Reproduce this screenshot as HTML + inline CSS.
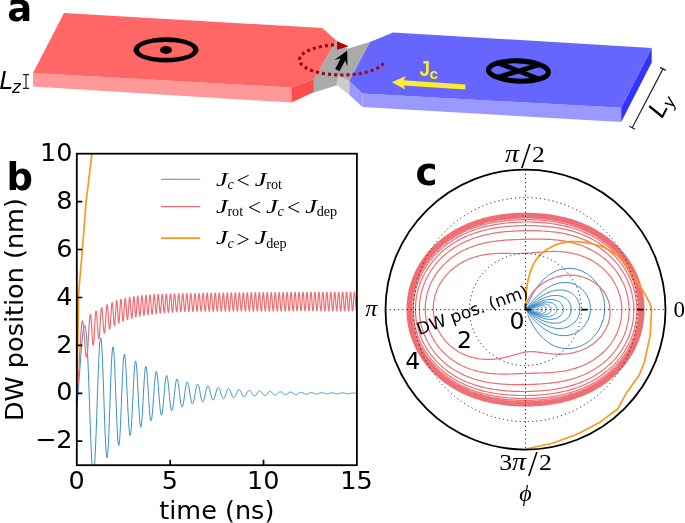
<!DOCTYPE html>
<html lang="en"><head><meta charset="utf-8"><title>Domain wall dynamics figure</title>
<style>
html,body{margin:0;padding:0;background:#fff;}
body{width:685px;height:523px;overflow:hidden;}
svg{display:block;}
</style></head><body>
<svg width="685" height="523" viewBox="0 0 685 523">
<rect width="685" height="523" fill="#fff"/>
<g id="panel-a" shape-rendering="geometricPrecision">
<polygon points="33.0,73.0 291.4,87.4 291.4,102.6 33.0,86.5" fill="#ff9999" />
<polygon points="291.4,87.4 314.0,78.9 314.0,92.1 291.4,102.6" fill="#ff4d4d" />
<polygon points="314.0,78.9 337.6,75.8 336.7,84.9 314.0,92.1" fill="#aaaaaa" stroke="#aaaaaa" stroke-width="0.8" stroke-linejoin="round"/>
<polygon points="337.6,75.8 349.3,81.0 349.4,94.9 336.7,84.9" fill="#cccccc" />
<polygon points="349.3,81.0 362.5,93.6 362.5,107.0 349.4,94.9" fill="#9999ff" />
<polygon points="362.5,93.6 621.2,107.7 621.2,122.1 362.5,107.0" fill="#9999ff" />
<polygon points="651.7,48.0 651.7,62.5 621.2,122.1 621.2,107.7" fill="#3333ff" />
<polygon points="336.4,40.4 347.4,48.8 370.0,42.0 349.3,81.0 337.6,75.8 314.0,78.9" fill="#aaaaaa" />
<polygon points="314.0,78.9 337.6,75.8 337.2,80.0 314.0,84.0" fill="#aaaaaa" />
<polygon points="64.0,13.0 322.2,28.1 336.4,40.4 314.0,78.9 291.4,87.4 33.0,73.0" fill="#ff6666" />
<polygon points="370.0,42.0 393.1,32.4 651.7,48.0 621.2,107.7 362.5,93.6 349.3,81.0" fill="#6666ff" />
<ellipse cx="166" cy="49.9" rx="32.6" ry="12.65" fill="#000"/>
<ellipse cx="166" cy="49.9" rx="27" ry="7.95" fill="#ff6666"/>
<ellipse cx="166" cy="50" rx="6" ry="3.9" fill="#000"/>
<g transform="translate(518.5,71) rotate(2.5)">
<ellipse cx="0" cy="0" rx="30" ry="10.1" fill="none" stroke="#000" stroke-width="5.1"/>
<path d="M-20.5 -7.2L20.5 7.2M-20.5 7.2L20.5 -7.2" stroke="#000" stroke-width="4.8" fill="none"/>
</g>
<path d="M383.51 63.06L383.15 63.61L382.73 64.14L382.26 64.67L381.73 65.20L381.15 65.71L380.52 66.22L379.84 66.72L379.11 67.21L378.32 67.69L377.49 68.16L376.61 68.62L375.69 69.07L374.72 69.50L373.70 69.92L372.64 70.33L371.54 70.73L370.41 71.11L369.23 71.47L368.02 71.82L366.77 72.15L365.49 72.47L364.18 72.77L362.84 73.05L361.47 73.31L360.07 73.56L358.65 73.78L357.21 73.99L355.75 74.18L354.26 74.35L352.77 74.50L351.26 74.64L349.73 74.75L348.20 74.84L346.65 74.91L345.10 74.96L343.55 74.99L342.00 75.00L340.44 74.99L338.89 74.96L337.34 74.91L335.79 74.84L334.26 74.75L332.73 74.63L331.22 74.50L329.73 74.35L328.24 74.18L326.78 73.99L325.34 73.78L323.92 73.56L322.52 73.31L321.16 73.05L319.81 72.76L318.50 72.47L317.22 72.15L315.97 71.82L314.76 71.47L313.59 71.10L312.45 70.72L311.35 70.33L310.29 69.92L309.28 69.50L308.31 69.07L307.38 68.62L306.50 68.16L305.67 67.69L304.89 67.21L304.16 66.72L303.47 66.22L302.84 65.71L302.26 65.19L301.74 64.67L301.27 64.14L300.85 63.60L300.49 63.06L300.18 62.51L299.93 61.97L299.74 61.41L299.60 60.86L299.52 60.30L299.50 59.75L299.53 59.19L299.62 58.64L299.77 58.08L299.98 57.53L300.24 56.98L300.55 56.44L300.93 55.90L301.35 55.36L301.83 54.83L302.37 54.31L302.96 53.79L303.60 53.29L304.29 52.79L305.03 52.30L305.83 51.82L306.67 51.35L307.55 50.90L308.49 50.45L309.47 50.02L310.49 49.60L311.55 49.19L312.66 48.80L313.81 48.43L314.99 48.06L316.21 47.72L317.46 47.39L318.75 47.08L320.06 46.78L321.41 46.50L322.79 46.24L324.19 46.00L325.61 45.78L327.06 45.57L328.52 45.38L330.01 45.22L331.51 45.07L333.02 44.94L334.55 44.84L336.09 44.75" fill="none" stroke="#9a0a10" stroke-width="3.2" stroke-dasharray="3.1 3.05"/>
<polygon points="337.0,41.2 337.0,49.8 348.7,46.3" fill="#b80000" />
<polygon points="347.2,50.8 347.5,66.6 345.1,60.4 339.6,71.3 335.2,69.1 340.7,58.2 334.3,60.0" fill="#000" />
<polygon points="391.8,82.2 406.0,76.0 403.6,80.2 465.4,84.4 465.4,89.5 403.6,85.4 405.4,89.6" fill="#fdec2d" />
<text transform="translate(419.4,75.7) scale(0.84,1)" font-family="'Liberation Sans',sans-serif" font-weight="bold" font-size="22.6" fill="#fdec2d">J</text>
<text x="429.4" y="78.6" font-family="'Liberation Sans',sans-serif" font-weight="bold" font-size="15.2" fill="#fdec2d">c</text>
<text x="-0.5" y="88.8" font-family="'DejaVu Sans',sans-serif" font-style="oblique" font-size="24" fill="#000">L<tspan font-size="16.8" dy="3.9" dx="-1">z</tspan></text>
<path d="M26 74.6V88.4M22.9 74.6H29.1M22.9 88.4H29.1" stroke="#222" stroke-width="1.2" fill="none"/>
<path d="M663 68.9L632.2 127.7M660.1 67.4L665.9 70.4M629.3 126.2L635.1 129.2" stroke="#222" stroke-width="1.2" fill="none"/>
<text transform="translate(662.3,118.9) rotate(-62)" font-family="'DejaVu Sans',sans-serif" font-style="oblique" font-size="24" fill="#000">L<tspan font-size="16.8" dy="3.9">y</tspan></text>
</g>
<g id="panel-b">
<clipPath id="clipb"><rect x="76.8" y="153.7" width="280.09999999999997" height="311.5"/></clipPath>
<g clip-path="url(#clipb)" fill="none" stroke-linejoin="round">
<path d="M76.80 407.67L78.47 387.83L79.80 369.71L80.96 353.97L82.02 341.26L83.01 332.08L83.94 326.78L84.84 325.51L85.67 328.20L86.41 334.62L87.09 344.38L87.74 356.97L88.36 371.70L88.95 387.82L89.53 404.50L90.10 420.89L90.66 436.18L91.22 449.61L91.77 460.53L92.32 468.42L92.88 472.93L93.44 473.87L94.00 471.25L94.56 465.26L95.11 456.24L95.64 444.70L96.18 431.22L96.70 416.52L97.23 401.32L97.74 386.40L98.25 372.49L98.76 360.26L99.26 350.28L99.75 343.02L100.25 338.80L100.74 337.78L101.22 339.94L101.69 345.14L102.16 353.06L102.63 363.27L103.08 375.22L103.54 388.29L103.99 401.80L104.44 415.06L104.88 427.42L105.33 438.26L105.77 447.06L106.21 453.40L106.65 456.98L107.09 457.68L107.53 455.48L107.97 450.54L108.40 443.13L108.83 433.65L109.26 422.61L109.69 410.58L110.12 398.15L110.54 385.97L110.97 374.62L111.39 364.67L111.81 356.59L112.24 350.74L112.66 347.41L113.08 346.70L113.50 348.62L113.92 353.03L114.34 359.67L114.75 368.17L115.17 378.09L115.59 388.90L116.00 400.04L116.41 410.96L116.83 421.09L117.24 429.95L117.65 437.11L118.06 442.22L118.47 445.05L118.88 445.50L119.28 443.57L119.69 439.39L120.09 433.20L120.49 425.32L120.89 416.17L121.28 406.23L121.68 396.00L122.08 386.00L122.48 376.71L122.88 368.59L123.28 362.04L123.68 357.35L124.08 354.73L124.49 354.28L124.90 356.00L125.31 359.75L125.73 365.33L126.15 372.41L126.57 380.63L126.98 389.54L127.40 398.69L127.82 407.62L128.24 415.88L128.66 423.06L129.07 428.82L129.48 432.89L129.89 435.10L130.29 435.35L130.69 433.66L131.08 430.14L131.48 424.99L131.87 418.48L132.26 410.97L132.65 402.84L133.03 394.49L133.42 386.36L133.80 378.84L134.18 372.29L134.57 367.04L134.95 363.31L135.33 361.28L135.71 361.02L136.09 362.51L136.47 365.66L136.85 370.28L137.22 376.12L137.60 382.87L137.98 390.17L138.35 397.65L138.72 404.93L139.10 411.65L139.47 417.48L139.84 422.13L140.21 425.40L140.58 427.13L140.94 427.26L141.31 425.81L141.67 422.86L142.03 418.59L142.39 413.22L142.75 407.03L143.11 400.36L143.47 393.52L143.83 386.88L144.18 380.75L144.54 375.44L144.90 371.20L145.27 368.22L145.63 366.64L146.00 366.51L146.37 367.83L146.74 370.49L147.11 374.34L147.48 379.18L147.86 384.75L148.23 390.74L148.61 396.87L148.98 402.81L149.36 408.26L149.74 412.97L150.11 416.71L150.49 419.30L150.86 420.63L151.24 420.66L151.61 419.39L151.99 416.91L152.36 413.37L152.74 408.95L153.11 403.89L153.49 398.44L153.86 392.90L154.24 387.53L154.61 382.60L154.98 378.36L155.36 374.99L155.73 372.65L156.10 371.45L156.48 371.43L156.85 372.56L157.22 374.78L157.59 377.95L157.96 381.90L158.33 386.42L158.70 391.27L159.07 396.21L159.44 400.98L159.81 405.35L160.17 409.10L160.54 412.06L160.91 414.10L161.28 415.11L161.65 415.06L162.02 413.99L162.39 411.94L162.76 409.05L163.13 405.46L163.50 401.37L163.87 396.99L164.24 392.54L164.61 388.25L164.98 384.32L165.35 380.95L165.72 378.30L166.09 376.49L166.46 375.58L166.83 375.62L167.20 376.59L167.57 378.42L167.94 381.00L168.31 384.19L168.68 387.83L169.05 391.73L169.42 395.67L169.79 399.47L170.16 402.94L170.53 405.90L170.90 408.22L171.27 409.80L171.64 410.56L172.01 410.47L172.38 409.57L172.75 407.89L173.12 405.55L173.49 402.67L173.85 399.40L174.22 395.90L174.59 392.37L174.96 388.97L175.33 385.87L175.70 383.22L176.07 381.15L176.44 379.75L176.81 379.07L177.18 379.15L177.55 379.96L177.92 381.45L178.29 383.53L178.66 386.10L179.03 389.01L179.40 392.11L179.77 395.25L180.14 398.26L180.51 401.00L180.88 403.33L181.25 405.15L181.62 406.36L181.99 406.93L182.36 406.83L182.73 406.08L183.10 404.72L183.47 402.84L183.84 400.52L184.21 397.91L184.58 395.13L184.95 392.32L185.32 389.63L185.69 387.18L186.06 385.10L186.43 383.48L186.80 382.39L187.17 381.89L187.54 381.98L187.91 382.66L188.28 383.87L188.65 385.56L189.02 387.62L189.39 389.94L189.76 392.42L190.13 394.91L190.50 397.30L190.87 399.47L191.23 401.31L191.60 402.73L191.97 403.68L192.34 404.10L192.71 403.99L193.08 403.37L193.45 402.26L193.82 400.74L194.19 398.89L194.56 396.80L194.93 394.58L195.30 392.34L195.67 390.21L196.04 388.27L196.41 386.63L196.78 385.36L197.15 384.52L197.52 384.15L197.89 384.25L198.26 384.81L198.63 385.80L199.00 387.16L199.37 388.82L199.74 390.69L200.11 392.66L200.48 394.65L200.85 396.55L201.22 398.26L201.59 399.71L201.96 400.83L202.33 401.56L202.70 401.88L203.07 401.77L203.44 401.25L203.81 400.35L204.18 399.12L204.55 397.63L204.92 395.96L205.29 394.19L205.66 392.41L206.03 390.71L206.40 389.18L206.77 387.88L207.14 386.89L207.51 386.24L207.88 385.96L208.25 386.07L208.62 386.54L208.98 387.34L209.35 388.44L209.72 389.78L210.09 391.27L210.46 392.85L210.83 394.44L211.20 395.94L211.57 397.30L211.94 398.45L212.31 399.32L212.68 399.89L213.05 400.13L213.42 400.02L213.79 399.59L214.16 398.86L214.53 397.86L214.90 396.67L215.27 395.32L215.64 393.91L216.01 392.49L216.38 391.14L216.75 389.93L217.12 388.91L217.49 388.13L217.86 387.63L218.23 387.42L218.60 387.52L218.97 387.91L219.34 388.57L219.71 389.46L220.08 390.53L220.45 391.73L220.82 392.99L221.19 394.26L221.56 395.46L221.93 396.54L222.30 397.44L222.67 398.13L223.04 398.57L223.41 398.74L223.78 398.64L224.15 398.28L224.52 397.69L224.89 396.88L225.26 395.92L225.63 394.84L226.00 393.71L226.36 392.58L226.73 391.51L227.10 390.54L227.47 389.74L227.84 389.13L228.21 388.74L228.58 388.59L228.95 388.68L229.32 389.00L229.69 389.54L230.06 390.26L230.43 391.13L230.80 392.09L231.17 393.10L231.54 394.11L231.91 395.07L232.28 395.92L232.65 396.64L233.02 397.17L233.39 397.51L233.76 397.64L234.13 397.55L234.50 397.25L234.87 396.77L235.24 396.12L235.61 395.34L235.98 394.48L236.35 393.57L236.72 392.67L237.09 391.81L237.46 391.05L237.83 390.41L238.20 389.94L238.57 389.64L238.94 389.53L239.31 389.61L239.68 389.88L240.05 390.32L240.42 390.90L240.79 391.60L241.16 392.37L241.53 393.18L241.90 393.99L242.27 394.75L242.64 395.43L243.01 395.99L243.38 396.41L243.74 396.68L244.11 396.77L244.48 396.69L244.85 396.44L245.22 396.04L245.59 395.52L245.96 394.89L246.33 394.20L246.70 393.47L247.07 392.75L247.44 392.07L247.81 391.47L248.18 390.96L248.55 390.59L248.92 390.36L249.29 390.28L249.66 390.35L250.03 390.58L250.40 390.93L250.77 391.41L251.14 391.97L251.51 392.59L251.88 393.24L252.25 393.88L252.62 394.49L252.99 395.03L253.36 395.47L253.73 395.80L254.10 396.01L254.47 396.07L254.84 396.00L255.21 395.80L255.58 395.47L255.95 395.05L256.32 394.54L256.69 393.99L257.06 393.40L257.43 392.83L257.80 392.29L258.17 391.81L258.54 391.41L258.91 391.12L259.28 390.94L259.65 390.88L260.02 390.95L260.39 391.13L260.76 391.43L261.12 391.81L261.49 392.26L261.86 392.76L262.23 393.28L262.60 393.79L262.97 394.28L263.34 394.70L263.71 395.05L264.08 395.31L264.45 395.47L264.82 395.52L265.19 395.46L265.56 395.29L265.93 395.02L266.30 394.68L266.67 394.27L267.04 393.82L267.41 393.36L267.78 392.90L268.15 392.47L268.52 392.09L268.89 391.77L269.26 391.54L269.63 391.41L270.00 391.37L270.37 391.42L270.74 391.58L271.11 391.82L271.48 392.12L271.85 392.49L272.22 392.89L272.59 393.31L272.96 393.72L273.33 394.10L273.70 394.44L274.07 394.72L274.44 394.92L274.81 395.04L275.18 395.08L275.55 395.02L275.92 394.88L276.29 394.67L276.66 394.39L277.03 394.06L277.40 393.70L277.77 393.33L278.14 392.96L278.50 392.62L278.87 392.32L279.24 392.07L279.61 391.89L279.98 391.78L280.35 391.75L280.72 391.80L281.09 391.93L281.46 392.12L281.83 392.38L282.20 392.67L282.57 392.99L282.94 393.33L283.31 393.65L283.68 393.96L284.05 394.23L284.42 394.45L284.79 394.61L285.16 394.70L285.53 394.72L285.90 394.68L286.27 394.56L286.64 394.39L287.01 394.16L287.38 393.90L287.75 393.61L288.12 393.31L288.49 393.01L288.86 392.74L289.23 392.50L289.60 392.31L289.97 392.16L290.34 392.08L290.71 392.06L291.08 392.11L291.45 392.21L291.82 392.37L292.19 392.57L292.56 392.81L292.93 393.07L293.30 393.34L293.67 393.60L294.04 393.84L294.41 394.06L294.78 394.23L295.15 394.36L295.52 394.43L295.88 394.44L296.25 394.40L296.62 394.31L296.99 394.16L297.36 393.98L297.73 393.77L298.10 393.53L298.47 393.30L298.84 393.06L299.21 392.84L299.58 392.65L299.95 392.50L300.32 392.39L300.69 392.33L301.06 392.31L301.43 392.35L301.80 392.44L302.17 392.57L302.54 392.73L302.91 392.92L303.28 393.13L303.65 393.34L304.02 393.55L304.39 393.75L304.76 393.92L305.13 394.05L305.50 394.15L305.87 394.21L306.24 394.22L306.61 394.18L306.98 394.10L307.35 393.99L307.72 393.84L308.09 393.67L308.46 393.48L308.83 393.29L309.20 393.10L309.57 392.93L309.94 392.78L310.31 392.65L310.68 392.57L311.05 392.52L311.42 392.51L311.79 392.55L312.16 392.62L312.53 392.72L312.90 392.85L313.27 393.01L313.63 393.18L314.00 393.35L314.37 393.51L314.74 393.67L315.11 393.80L315.48 393.91L315.85 393.99L316.22 394.03L316.59 394.04L316.96 394.01L317.33 393.94L317.70 393.85L318.07 393.73L318.44 393.59L318.81 393.44L319.18 393.29L319.55 393.14L319.92 393.00L320.29 392.88L320.66 392.78L321.03 392.71L321.40 392.68L321.77 392.67L322.14 392.70L322.51 392.76L322.88 392.84L323.25 392.95L323.62 393.08L323.99 393.21L324.36 393.35L324.73 393.48L325.10 393.60L325.47 393.71L325.84 393.80L326.21 393.86L326.58 393.89L326.95 393.89L327.32 393.87L327.69 393.81L328.06 393.74L328.43 393.64L328.80 393.53L329.17 393.41L329.54 393.28L329.91 393.16L330.28 393.05L330.65 392.96L331.01 392.88L331.38 392.83L331.75 392.80L332.12 392.80L332.49 392.82L332.86 392.87L333.23 392.94L333.60 393.03L333.97 393.13L334.34 393.24L334.71 393.35L335.08 393.45L335.45 393.55L335.82 393.64L336.19 393.70L336.56 393.75L336.93 393.78L337.30 393.78L337.67 393.75L338.04 393.71L338.41 393.65L338.78 393.57L339.15 393.48L339.52 393.38L339.89 393.29L340.26 393.19L340.63 393.10L341.00 393.03L341.37 392.97L341.74 392.93L342.11 392.90L342.48 392.90L342.85 392.92L343.22 392.96L343.59 393.02L343.96 393.09L344.33 393.17L344.70 393.26L345.07 393.35L345.44 393.43L345.81 393.51L346.18 393.58L346.55 393.63L346.92 393.67L347.29 393.68L347.66 393.68L348.03 393.67L348.39 393.63L348.76 393.58L349.13 393.52L349.50 393.44L349.87 393.37L350.24 393.29L350.61 393.21L350.98 393.14L351.35 393.08L351.72 393.03L352.09 393.00L352.46 392.99L352.83 392.99L353.20 393.00L353.57 393.04L353.94 393.08L354.31 393.14L354.68 393.20L355.05 393.27L355.42 393.34L355.79 393.41L356.16 393.47L356.53 393.53L356.90 393.57" stroke="#3d8fc9" stroke-width="1.0"/>
<path d="M76.80 393.32L77.51 387.93L78.19 379.93L78.84 369.90L79.47 358.72L80.08 347.44L80.66 337.14L81.24 328.83L81.79 323.29L82.33 320.94L82.86 321.70L83.38 325.09L83.89 330.46L84.38 336.98L84.87 343.71L85.34 349.74L85.80 354.30L86.26 356.80L86.71 356.95L87.14 354.72L87.57 350.38L87.99 344.44L88.41 337.57L88.81 330.54L89.21 324.12L89.61 318.98L89.99 315.63L90.37 314.38L90.74 315.27L91.09 318.12L91.43 322.48L91.76 327.77L92.09 333.29L92.40 338.35L92.71 342.30L93.02 344.65L93.32 345.11L93.63 343.61L93.93 340.32L94.22 335.63L94.52 330.08L94.82 324.30L95.13 318.97L95.43 314.67L95.74 311.88L96.05 310.88L96.36 311.75L96.68 314.32L96.99 318.24L97.30 322.99L97.62 327.97L97.93 332.53L98.25 336.10L98.56 338.23L98.87 338.64L99.18 337.26L99.50 334.26L99.81 329.98L100.12 324.91L100.43 319.65L100.74 314.80L101.05 310.90L101.36 308.39L101.66 307.53L101.97 308.36L102.28 310.76L102.58 314.38L102.89 318.75L103.20 323.31L103.50 327.49L103.81 330.77L104.11 332.72L104.42 333.10L104.72 331.85L105.02 329.11L105.32 325.18L105.62 320.53L105.92 315.70L106.22 311.24L106.51 307.67L106.81 305.39L107.10 304.65L107.39 305.50L107.69 307.82L107.98 311.30L108.27 315.48L108.56 319.83L108.84 323.81L109.13 326.92L109.42 328.77L109.70 329.12L109.99 327.92L110.27 325.32L110.55 321.60L110.83 317.22L111.10 312.68L111.38 308.52L111.65 305.20L111.92 303.12L112.19 302.48L112.45 303.34L112.72 305.58L112.98 308.88L113.24 312.84L113.50 316.96L113.76 320.72L114.01 323.65L114.27 325.39L114.52 325.72L114.77 324.59L115.02 322.12L115.27 318.60L115.52 314.45L115.77 310.16L116.01 306.23L116.26 303.11L116.50 301.17L116.75 300.61L116.99 301.50L117.23 303.69L117.47 306.91L117.70 310.75L117.93 314.73L118.17 318.37L118.40 321.20L118.63 322.89L118.86 323.21L119.09 322.12L119.32 319.74L119.55 316.35L119.78 312.35L120.02 308.22L120.25 304.44L120.48 301.46L120.72 299.63L120.96 299.15L121.20 300.07L121.44 302.27L121.68 305.46L121.92 309.24L122.16 313.15L122.41 316.71L122.65 319.47L122.90 321.10L123.14 321.38L123.39 320.29L123.63 317.95L123.88 314.64L124.12 310.75L124.37 306.75L124.61 303.10L124.86 300.25L125.10 298.52L125.35 298.11L125.59 299.05L125.84 301.22L126.08 304.35L126.33 308.04L126.57 311.84L126.82 315.27L127.06 317.93L127.31 319.48L127.55 319.72L127.80 318.64L128.04 316.35L128.29 313.13L128.53 309.36L128.77 305.49L129.01 301.98L129.25 299.24L129.49 297.61L129.73 297.25L129.97 298.21L130.21 300.35L130.45 303.41L130.69 307.00L130.93 310.69L131.16 314.01L131.40 316.57L131.64 318.05L131.87 318.27L132.11 317.19L132.34 314.95L132.57 311.82L132.80 308.16L133.03 304.42L133.26 301.03L133.49 298.41L133.72 296.87L133.94 296.57L134.16 297.54L134.38 299.67L134.60 302.67L134.81 306.19L135.02 309.79L135.24 313.03L135.45 315.52L135.66 316.94L135.87 317.14L136.08 316.07L136.29 313.87L136.50 310.80L136.71 307.23L136.92 303.58L137.14 300.30L137.36 297.77L137.58 296.29L137.80 296.03L138.03 297.02L138.26 299.13L138.49 302.10L138.72 305.56L138.95 309.09L139.19 312.25L139.43 314.67L139.66 316.04L139.90 316.20L140.14 315.12L140.38 312.94L140.61 309.91L140.85 306.40L141.09 302.83L141.32 299.62L141.55 297.15L141.79 295.73L142.02 295.52L142.24 296.53L142.47 298.65L142.70 301.61L142.92 305.04L143.15 308.53L143.37 311.66L143.60 314.03L143.82 315.37L144.04 315.51L144.26 314.42L144.49 312.24L144.71 309.24L144.93 305.76L145.16 302.23L145.38 299.08L145.60 296.68L145.83 295.32L146.05 295.15L146.27 296.19L146.50 298.31L146.72 301.24L146.94 304.63L147.17 308.06L147.39 311.11L147.61 313.41L147.83 314.69L148.06 314.78L148.28 313.68L148.50 311.52L148.73 308.56L148.95 305.15L149.18 301.70L149.40 298.63L149.63 296.30L149.86 295.00L150.09 294.87L150.32 295.92L150.55 298.03L150.78 300.94L151.02 304.29L151.25 307.68L151.49 310.68L151.72 312.95L151.96 314.19L152.20 314.26L152.43 313.16L152.67 311.00L152.91 308.05L153.14 304.68L153.37 301.27L153.61 298.25L153.84 295.97L154.07 294.71L154.30 294.62L154.53 295.70L154.76 297.81L154.98 300.71L155.21 304.03L155.43 307.36L155.66 310.31L155.88 312.51L156.10 313.70L156.33 313.74L156.55 312.61L156.77 310.45L156.99 307.53L157.22 304.20L157.44 300.85L157.66 297.90L157.89 295.68L158.11 294.48L158.33 294.42L158.56 295.52L158.78 297.62L159.01 300.48L159.23 303.74L159.46 307.02L159.68 309.89L159.90 312.03L160.13 313.17L160.35 313.17L160.58 312.04L160.80 309.90L161.03 307.02L161.25 303.74L161.47 300.47L161.70 297.58L161.92 295.44L162.15 294.29L162.37 294.26L162.59 295.37L162.82 297.47L163.04 300.30L163.26 303.53L163.49 306.75L163.71 309.58L163.93 311.67L164.15 312.77L164.38 312.74L164.60 311.60L164.82 309.47L165.05 306.62L165.27 303.38L165.50 300.16L165.73 297.33L165.95 295.23L166.18 294.12L166.41 294.13L166.64 295.26L166.87 297.36L167.11 300.18L167.34 303.37L167.57 306.55L167.81 309.33L168.05 311.37L168.28 312.43L168.52 312.38L168.76 311.22L168.99 309.09L169.23 306.25L169.46 303.05L169.70 299.86L169.93 297.08L170.16 295.03L170.39 293.97L170.62 294.01L170.85 295.16L171.07 297.26L171.30 300.06L171.52 303.23L171.75 306.37L171.97 309.11L172.19 311.11L172.41 312.13L172.64 312.05L172.86 310.88L173.08 308.75L173.30 305.93L173.53 302.75L173.75 299.61L173.98 296.86L174.20 294.86L174.43 293.83L174.66 293.91L174.89 295.07L175.12 297.18L175.35 299.98L175.59 303.13L175.82 306.24L176.06 308.94L176.30 310.91L176.53 311.90L176.77 311.79L177.00 310.59L177.24 308.46L177.48 305.65L177.71 302.49L177.95 299.37L178.18 296.66L178.41 294.70L178.64 293.71L178.87 293.81L179.10 295.00L179.32 297.12L179.55 299.92L179.78 303.05L180.00 306.15L180.22 308.82L180.45 310.76L180.67 311.71L180.89 311.58L181.12 310.36L181.34 308.22L181.56 305.41L181.79 302.26L182.01 299.16L182.23 296.48L182.46 294.55L182.68 293.60L182.90 293.73L183.13 294.94L183.35 297.08L183.58 299.88L183.80 303.01L184.02 306.09L184.25 308.74L184.47 310.64L184.70 311.56L184.92 311.40L185.15 310.16L185.37 308.00L185.59 305.19L185.82 302.05L186.04 298.97L186.27 296.32L186.49 294.42L186.72 293.50L186.94 293.66L187.16 294.90L187.39 297.05L187.61 299.86L187.83 302.98L188.06 306.04L188.28 308.67L188.50 310.54L188.72 311.44L188.95 311.24L189.17 309.98L189.39 307.81L189.62 304.99L189.84 301.86L190.07 298.79L190.29 296.17L190.52 294.30L190.75 293.41L190.98 293.60L191.21 294.87L191.44 297.04L191.68 299.85L191.91 302.98L192.14 306.02L192.38 308.63L192.62 310.48L192.85 311.35L193.09 311.12L193.32 309.84L193.56 307.65L193.80 304.82L194.03 301.69L194.27 298.63L194.50 296.03L194.73 294.18L194.96 293.32L195.19 293.55L195.42 294.84L195.65 297.04L195.88 299.87L196.10 303.00L196.33 306.05L196.56 308.64L196.78 310.47L197.01 311.31L197.23 311.06L197.46 309.75L197.68 307.53L197.90 304.68L198.13 301.55L198.35 298.49L198.58 295.90L198.80 294.08L199.03 293.25L199.26 293.51L199.48 294.83L199.71 297.05L199.93 299.90L200.16 303.04L200.38 306.08L200.61 308.66L200.83 310.47L201.06 311.28L201.29 311.00L201.51 309.66L201.74 307.42L201.96 304.55L202.19 301.41L202.41 298.36L202.64 295.78L202.86 293.98L203.09 293.18L203.31 293.47L203.54 294.82L203.76 297.07L203.99 299.94L204.21 303.08L204.44 306.12L204.67 308.69L204.89 310.48L205.12 311.26L205.34 310.95L205.57 309.58L205.79 307.31L206.02 304.43L206.24 301.28L206.47 298.23L206.69 295.67L206.92 293.89L207.14 293.12L207.37 293.44L207.59 294.82L207.81 297.09L208.04 299.98L208.26 303.13L208.49 306.17L208.71 308.72L208.94 310.48L209.16 311.24L209.39 310.90L209.61 309.50L209.84 307.21L210.06 304.31L210.29 301.15L210.51 298.11L210.74 295.55L210.96 293.80L211.19 293.06L211.41 293.41L211.63 294.82L211.86 297.12L212.08 300.02L212.31 303.18L212.53 306.22L212.76 308.76L212.98 310.50L213.21 311.22L213.43 310.85L213.65 309.42L213.88 307.10L214.10 304.19L214.33 301.02L214.55 297.98L214.78 295.45L215.00 293.72L215.22 293.00L215.45 293.39L215.67 294.83L215.90 297.15L216.12 300.07L216.34 303.24L216.57 306.27L216.79 308.79L217.02 310.51L217.24 311.21L217.47 310.80L217.69 309.34L217.91 307.00L218.14 304.07L218.36 300.90L218.59 297.87L218.81 295.34L219.03 293.64L219.26 292.95L219.48 293.37L219.70 294.84L219.93 297.19L220.15 300.12L220.38 303.30L220.60 306.32L220.82 308.83L221.05 310.53L221.27 311.19L221.50 310.76L221.72 309.27L221.94 306.91L222.17 303.96L222.39 300.78L222.61 297.75L222.84 295.24L223.06 293.56L223.28 292.90L223.51 293.35L223.73 294.85L223.96 297.22L224.18 300.18L224.40 303.36L224.63 306.38L224.85 308.87L225.07 310.54L225.30 311.18L225.52 310.71L225.74 309.20L225.97 306.81L226.19 303.84L226.41 300.66L226.64 297.63L226.86 295.14L227.08 293.48L227.31 292.86L227.53 293.34L227.75 294.87L227.98 297.26L228.20 300.23L228.42 303.42L228.65 306.44L228.87 308.92L229.09 310.56L229.32 311.17L229.54 310.67L229.76 309.12L229.99 306.71L230.21 303.73L230.43 300.54L230.66 297.52L230.88 295.05L231.10 293.41L231.33 292.81L231.55 293.33L231.77 294.89L231.99 297.31L232.22 300.29L232.44 303.48L232.66 306.49L232.89 308.96L233.11 310.58L233.33 311.16L233.56 310.63L233.78 309.05L234.00 306.62L234.22 303.62L234.45 300.42L234.67 297.41L234.89 294.95L235.12 293.34L235.34 292.77L235.56 293.32L235.78 294.91L236.01 297.35L236.23 300.35L236.45 303.55L236.68 306.55L236.90 309.00L237.12 310.60L237.34 311.15L237.57 310.59L237.79 308.98L238.01 306.52L238.24 303.51L238.46 300.30L238.68 297.30L238.90 294.86L239.13 293.27L239.35 292.73L239.57 293.31L239.79 294.93L240.02 297.40L240.24 300.41L240.46 303.61L240.68 306.61L240.91 309.05L241.13 310.62L241.35 311.14L241.57 310.54L241.80 308.91L242.02 306.42L242.24 303.39L242.46 300.19L242.69 297.19L242.91 294.76L243.13 293.20L243.35 292.69L243.58 293.30L243.80 294.95L244.02 297.44L244.24 300.47L244.47 303.68L244.69 306.67L244.91 309.09L245.13 310.63L245.36 311.12L245.58 310.50L245.80 308.83L246.02 306.32L246.25 303.28L246.47 300.07L246.69 297.08L246.91 294.67L247.13 293.13L247.36 292.66L247.58 293.29L247.80 294.97L248.02 297.49L248.25 300.53L248.47 303.75L248.69 306.73L248.91 309.13L249.13 310.65L249.36 311.11L249.58 310.45L249.80 308.76L250.02 306.23L250.25 303.17L250.47 299.95L250.69 296.97L250.91 294.58L251.13 293.07L251.36 292.62L251.58 293.29L251.80 295.00L252.02 297.54L252.24 300.60L252.47 303.81L252.69 306.79L252.91 309.17L253.13 310.67L253.35 311.10L253.58 310.41L253.80 308.68L254.02 306.13L254.24 303.06L254.46 299.84L254.69 296.86L254.91 294.49L255.13 293.00L255.35 292.58L255.57 293.28L255.80 295.02L256.02 297.58L256.24 300.66L256.46 303.88L256.68 306.85L256.91 309.21L257.13 310.68L257.35 311.08L257.57 310.36L257.79 308.61L258.01 306.03L258.24 302.94L258.46 299.72L258.68 296.75L258.90 294.39L259.12 292.93L259.35 292.55L259.57 293.28L259.79 295.05L260.01 297.63L260.23 300.72L260.45 303.95L260.68 306.91L260.90 309.26L261.12 310.70L261.34 311.07L261.56 310.32L261.78 308.53L262.01 305.93L262.23 302.83L262.45 299.61L262.67 296.64L262.89 294.30L263.11 292.87L263.34 292.51L263.56 293.28L263.78 295.08L264.00 297.68L264.22 300.79L264.44 304.01L264.67 306.97L264.89 309.30L265.11 310.72L265.33 311.05L265.55 310.27L265.77 308.46L266.00 305.83L266.22 302.72L266.44 299.49L266.66 296.54L266.88 294.22L267.10 292.81L267.32 292.48L267.55 293.28L267.77 295.11L267.99 297.74L268.21 300.85L268.43 304.08L268.65 307.03L268.87 309.34L269.10 310.73L269.32 311.04L269.54 310.22L269.76 308.38L269.98 305.74L270.20 302.61L270.43 299.38L270.65 296.43L270.87 294.13L271.09 292.75L271.31 292.45L271.53 293.28L271.75 295.14L271.97 297.79L272.20 300.92L272.42 304.15L272.64 307.09L272.86 309.38L273.08 310.75L273.30 311.02L273.52 310.17L273.75 308.30L273.97 305.64L274.19 302.50L274.41 299.26L274.63 296.33L274.85 294.04L275.07 292.69L275.29 292.43L275.52 293.29L275.74 295.17L275.96 297.85L276.18 300.99L276.40 304.22L276.62 307.15L276.84 309.42L277.06 310.76L277.29 311.01L277.51 310.13L277.73 308.23L277.95 305.54L278.17 302.39L278.39 299.15L278.61 296.23L278.83 293.96L279.06 292.63L279.28 292.40L279.50 293.30L279.72 295.21L279.94 297.90L280.16 301.06L280.38 304.29L280.60 307.21L280.82 309.46L281.05 310.78L281.27 310.99L281.49 310.08L281.71 308.15L281.93 305.44L282.15 302.28L282.37 299.04L282.59 296.12L282.81 293.88L283.04 292.58L283.26 292.38L283.48 293.31L283.70 295.24L283.92 297.96L284.14 301.13L284.36 304.36L284.58 307.27L284.80 309.51L285.03 310.79L285.25 310.97L285.47 310.03L285.69 308.07L285.91 305.34L286.13 302.17L286.35 298.93L286.57 296.02L286.79 293.80L287.01 292.53L287.24 292.36L287.46 293.32L287.68 295.28L287.90 298.02L288.12 301.20L288.34 304.44L288.56 307.33L288.78 309.55L289.00 310.80L289.22 310.95L289.45 309.98L289.67 307.99L289.89 305.24L290.11 302.06L290.33 298.82L290.55 295.93L290.77 293.72L290.99 292.48L291.21 292.34L291.43 293.33L291.65 295.33L291.88 298.09L292.10 301.28L292.32 304.51L292.54 307.40L292.76 309.59L292.98 310.82L293.20 310.93L293.42 309.93L293.64 307.92L293.86 305.15L294.08 301.95L294.30 298.71L294.53 295.83L294.75 293.65L294.97 292.43L295.19 292.33L295.41 293.35L295.63 295.37L295.85 298.15L296.07 301.35L296.29 304.58L296.51 307.46L296.73 309.63L296.95 310.83L297.18 310.91L297.40 309.87L297.62 307.84L297.84 305.05L298.06 301.84L298.28 298.61L298.50 295.74L298.72 293.58L298.94 292.39L299.16 292.32L299.38 293.37L299.60 295.42L299.82 298.22L300.05 301.42L300.27 304.66L300.49 307.52L300.71 309.66L300.93 310.84L301.15 310.89L301.37 309.82L301.59 307.76L301.81 304.95L302.03 301.73L302.25 298.50L302.47 295.65L302.69 293.51L302.91 292.35L303.13 292.31L303.36 293.39L303.58 295.47L303.80 298.28L304.02 301.50L304.24 304.73L304.46 307.58L304.68 309.70L304.90 310.84L305.12 310.87L305.34 309.77L305.56 307.68L305.78 304.85L306.00 301.63L306.22 298.40L306.44 295.55L306.67 293.44L306.89 292.31L307.11 292.30L307.33 293.42L307.55 295.52L307.77 298.35L307.99 301.58L308.21 304.80L308.43 307.63L308.65 309.74L308.87 310.85L309.09 310.84L309.31 309.71L309.53 307.59L309.75 304.75L309.97 301.52L310.19 298.29L310.42 295.46L310.64 293.37L310.86 292.27L311.08 292.29L311.30 293.44L311.52 295.57L311.74 298.42L311.96 301.65L312.18 304.87L312.40 307.69L312.62 309.77L312.84 310.85L313.06 310.81L313.28 309.65L313.50 307.51L313.72 304.65L313.94 301.41L314.16 298.19L314.39 295.37L314.61 293.30L314.83 292.23L315.05 292.29L315.27 293.46L315.49 295.62L315.71 298.49L315.93 301.73L316.15 304.94L316.37 307.75L316.59 309.80L316.81 310.86L317.03 310.78L317.25 309.59L317.47 307.42L317.69 304.54L317.91 301.30L318.13 298.08L318.35 295.28L318.57 293.24L318.79 292.20L319.02 292.28L319.24 293.49L319.46 295.67L319.68 298.55L319.90 301.80L320.12 305.01L320.34 307.80L320.56 309.83L320.78 310.86L321.00 310.75L321.22 309.53L321.44 307.34L321.66 304.44L321.88 301.19L322.10 297.98L322.32 295.19L322.54 293.17L322.76 292.16L322.98 292.28L323.20 293.52L323.42 295.72L323.64 298.62L323.86 301.88L324.08 305.08L324.31 307.86L324.53 309.87L324.75 310.86L324.97 310.72L325.19 309.47L325.41 307.25L325.63 304.34L325.85 301.08L326.07 297.87L326.29 295.10L326.51 293.11L326.73 292.13L326.95 292.28L327.17 293.55L327.39 295.77L327.61 298.69L327.83 301.95L328.05 305.16L328.27 307.91L328.49 309.90L328.71 310.86L328.93 310.69L329.15 309.41L329.37 307.17L329.59 304.24L329.81 300.97L330.03 297.77L330.25 295.02L330.48 293.05L330.70 292.10L330.92 292.28L331.14 293.58L331.36 295.83L331.58 298.77L331.80 302.03L332.02 305.23L332.24 307.97L332.46 309.93L332.68 310.86L332.90 310.66L333.12 309.35L333.34 307.08L333.56 304.13L333.78 300.87L334.00 297.67L334.22 294.93L334.44 292.99L334.66 292.07L334.88 292.28L335.10 293.61L335.32 295.89L335.54 298.84L335.76 302.11L335.98 305.30L336.20 308.03L336.42 309.96L336.64 310.86L336.86 310.63L337.08 309.29L337.30 306.99L337.52 304.03L337.74 300.76L337.96 297.57L338.19 294.85L338.41 292.93L338.63 292.04L338.85 292.29L339.07 293.65L339.29 295.95L339.51 298.92L339.73 302.19L339.95 305.37L340.17 308.08L340.39 309.99L340.61 310.86L340.83 310.60L341.05 309.22L341.27 306.91L341.49 303.93L341.71 300.66L341.93 297.48L342.15 294.77L342.37 292.88L342.59 292.02L342.81 292.30L343.03 293.69L343.25 296.01L343.47 298.99L343.69 302.27L343.91 305.45L344.13 308.14L344.35 310.02L344.57 310.86L344.79 310.57L345.01 309.16L345.23 306.83L345.45 303.84L345.67 300.56L345.89 297.38L346.11 294.70L346.33 292.83L346.55 292.00L346.77 292.31L346.99 293.73L347.21 296.08L347.43 299.07L347.65 302.36L347.87 305.52L348.09 308.20L348.31 310.05L348.53 310.87L348.76 310.54L348.98 309.10L349.20 306.74L349.42 303.74L349.64 300.46L349.86 297.29L350.08 294.63L350.30 292.78L350.52 291.99L350.74 292.33L350.96 293.78L351.18 296.15L351.40 299.16L351.62 302.44L351.84 305.60L352.06 308.26L352.28 310.09L352.50 310.87L352.72 310.51L352.94 309.05L353.16 306.66L353.38 303.65L353.60 300.36L353.82 297.20L354.04 294.56L354.26 292.74L354.48 291.98L354.70 292.35L354.92 293.83L355.14 296.22L355.36 299.24L355.58 302.53L355.80 305.68L356.02 308.32L356.24 310.12L356.46 310.87L356.68 310.48L356.90 308.99" stroke="#ee6e73" stroke-width="1.2"/>
<path d="M76.80 393.32L77.92 333.41L78.67 292.68L79.79 279.50L82.40 249.55L86.14 201.62L91.93 153.70L95.47 129.74" stroke="#f99a1c" stroke-width="1.7"/>
</g>
<rect x="76.8" y="153.7" width="280.1" height="311.5" fill="none" stroke="#000" stroke-width="1.8"/>
<path d="M76.8 441.2h5.5M76.8 393.3h5.5M76.8 345.4h5.5M76.8 297.5h5.5M76.8 249.5h5.5M76.8 201.6h5.5M170.2 465.2v-5.5M263.5 465.2v-5.5" stroke="#000" stroke-width="1.7" fill="none"/>
<text x="72.5" y="448.3" text-anchor="end" font-family="'DejaVu Sans',sans-serif" font-size="25.5" fill="#000">−2</text>
<text x="72.5" y="400.4" text-anchor="end" font-family="'DejaVu Sans',sans-serif" font-size="25.5" fill="#000">0</text>
<text x="72.5" y="352.5" text-anchor="end" font-family="'DejaVu Sans',sans-serif" font-size="25.5" fill="#000">2</text>
<text x="72.5" y="304.6" text-anchor="end" font-family="'DejaVu Sans',sans-serif" font-size="25.5" fill="#000">4</text>
<text x="72.5" y="256.6" text-anchor="end" font-family="'DejaVu Sans',sans-serif" font-size="25.5" fill="#000">6</text>
<text x="72.5" y="208.7" text-anchor="end" font-family="'DejaVu Sans',sans-serif" font-size="25.5" fill="#000">8</text>
<text x="72.5" y="160.8" text-anchor="end" font-family="'DejaVu Sans',sans-serif" font-size="25.5" fill="#000">10</text>
<text x="76.5" y="489.4" text-anchor="middle" font-family="'DejaVu Sans',sans-serif" font-size="25.5" fill="#000">0</text>
<text x="169.9" y="489.4" text-anchor="middle" font-family="'DejaVu Sans',sans-serif" font-size="25.5" fill="#000">5</text>
<text x="263.2" y="489.4" text-anchor="middle" font-family="'DejaVu Sans',sans-serif" font-size="25.5" fill="#000">10</text>
<text x="356.6" y="489.4" text-anchor="middle" font-family="'DejaVu Sans',sans-serif" font-size="25.5" fill="#000">15</text>
<text x="216.8" y="518.6" text-anchor="middle" font-family="'DejaVu Sans',sans-serif" font-size="25.5" fill="#000">time (ns)</text>
<text transform="translate(22.7,309.6) rotate(-90)" text-anchor="middle" font-family="'DejaVu Sans',sans-serif" font-size="25.5" fill="#000">DW position (nm)</text>
<path d="M161.1 179.3H200.2" stroke="#3d8fc9" stroke-width="1.0"/>
<path d="M161.1 206.7H200.2" stroke="#ee6e73" stroke-width="1.2"/>
<path d="M161.1 238.2H200.2" stroke="#f99a1c" stroke-width="1.7"/>
<text transform="translate(216.0,185.5) scale(1.38,1)" font-family="'Liberation Serif',serif" font-style="italic" font-size="19.2" fill="#000">J</text>
<text x="227.6" y="188.8" font-family="'Liberation Serif',serif" font-style="italic" font-size="14.2" fill="#000">c</text>
<text x="236.6" y="187.8" font-family="'Liberation Serif',serif" font-size="23.5" fill="#000">&lt;</text>
<text transform="translate(254.8,185.5) scale(1.38,1)" font-family="'Liberation Serif',serif" font-style="italic" font-size="19.2" fill="#000">J</text>
<text x="266.2" y="188.8" font-family="'Liberation Serif',serif" font-size="14.2" fill="#000">rot</text>
<text transform="translate(216.0,212.5) scale(1.38,1)" font-family="'Liberation Serif',serif" font-style="italic" font-size="19.2" fill="#000">J</text>
<text x="227.4" y="215.8" font-family="'Liberation Serif',serif" font-size="14.2" fill="#000">rot</text>
<text x="247.8" y="214.8" font-family="'Liberation Serif',serif" font-size="23.5" fill="#000">&lt;</text>
<text transform="translate(266.0,212.5) scale(1.38,1)" font-family="'Liberation Serif',serif" font-style="italic" font-size="19.2" fill="#000">J</text>
<text x="277.6" y="215.8" font-family="'Liberation Serif',serif" font-style="italic" font-size="14.2" fill="#000">c</text>
<text x="287.1" y="214.8" font-family="'Liberation Serif',serif" font-size="23.5" fill="#000">&lt;</text>
<text transform="translate(305.3,212.5) scale(1.38,1)" font-family="'Liberation Serif',serif" font-style="italic" font-size="19.2" fill="#000">J</text>
<text x="316.7" y="215.8" font-family="'Liberation Serif',serif" font-size="14.2" fill="#000">dep</text>
<text transform="translate(216.0,244.2) scale(1.38,1)" font-family="'Liberation Serif',serif" font-style="italic" font-size="19.2" fill="#000">J</text>
<text x="227.6" y="247.5" font-family="'Liberation Serif',serif" font-style="italic" font-size="14.2" fill="#000">c</text>
<text x="236.6" y="246.5" font-family="'Liberation Serif',serif" font-size="23.5" fill="#000">&gt;</text>
<text transform="translate(254.8,244.2) scale(1.38,1)" font-family="'Liberation Serif',serif" font-style="italic" font-size="19.2" fill="#000">J</text>
<text x="266.2" y="247.5" font-family="'Liberation Serif',serif" font-size="14.2" fill="#000">dep</text>
</g>
<g id="panel-c">
<clipPath id="clipc"><circle cx="525.5" cy="309.6" r="140.0"/></clipPath>
<g clip-path="url(#clipc)" fill="none" stroke-linejoin="round">
<path d="M527.4 305.1L530.3 298.8L533.4 293.0L536.9 287.5L540.7 282.5L544.9 278.2L549.5 274.5L554.5 271.7L559.7 269.6L565.2 268.5L570.9 268.3L576.5 269.2L582.0 271.0L587.2 273.8L592.0 277.6L596.2 282.2L599.6 287.5L602.3 293.4L604.0 299.8L604.7 306.4L604.5 313.0L603.2 319.5L601.0 325.7L598.0 331.3L594.1 336.4L589.7 340.6L584.7 344.1L579.4 346.6L573.9 348.1L568.3 348.7L562.8 348.3L557.5 347.1L552.4 345.0L547.8 342.2L543.5 338.7L539.6 334.7L536.1 330.2L532.9 325.3L530.1 320.1L527.6 314.7M526.0 308.9L529.4 304.7L532.8 300.7L536.3 296.9L539.9 293.5L543.6 290.4L547.5 287.8L551.5 285.6L555.6 284.0L559.7 282.9L563.8 282.5L567.9 282.6L571.9 283.4L575.7 284.8L579.1 286.8L582.3 289.3L585.0 292.4L587.2 295.8L588.9 299.6L590.0 303.6L590.4 307.7L590.3 311.9L589.5 316.0L588.1 320.0L586.1 323.6L583.6 326.9L580.7 329.7L577.4 332.0L573.8 333.8L569.9 335.0L565.9 335.6L561.9 335.6L557.8 335.0L553.8 333.9L549.8 332.2L546.0 330.1L542.3 327.5L538.8 324.6L535.4 321.3L532.2 317.8L529.1 314.1L526.0 310.3M527.0 308.1L530.2 305.1L533.4 302.3L536.7 299.6L540.0 297.2L543.3 295.1L546.7 293.3L550.1 291.8L553.5 290.8L556.9 290.1L560.2 289.9L563.4 290.1L566.4 290.8L569.3 291.9L571.9 293.4L574.2 295.3L576.2 297.5L577.8 299.9L579.0 302.6L579.7 305.5L580.0 308.4L579.9 311.4L579.3 314.3L578.2 317.1L576.8 319.7L574.9 322.0L572.7 324.0L570.2 325.7L567.5 327.0L564.5 328.0L561.4 328.4L558.2 328.5L554.9 328.2L551.6 327.4L548.3 326.3L545.0 324.8L541.8 323.0L538.6 321.0L535.5 318.6L532.5 316.1L529.5 313.5L526.6 310.7M527.7 307.9L530.6 305.8L533.5 303.8L536.4 301.9L539.3 300.2L542.2 298.7L545.1 297.5L547.9 296.5L550.7 295.8L553.5 295.5L556.1 295.4L558.7 295.6L561.0 296.2L563.2 297.0L565.2 298.1L567.0 299.5L568.4 301.0L569.6 302.8L570.5 304.7L571.0 306.8L571.2 308.9L571.1 311.0L570.6 313.0L569.8 315.0L568.7 316.8L567.2 318.5L565.5 319.9L563.6 321.1L561.5 322.1L559.2 322.8L556.7 323.2L554.1 323.2L551.5 323.0L548.8 322.5L546.0 321.8L543.3 320.8L540.5 319.5L537.8 318.0L535.0 316.4L532.3 314.6L529.7 312.7L527.0 310.7M525.5 309.6L528.1 308.0L530.6 306.5L533.1 305.1L535.6 303.8L538.1 302.6L540.5 301.6L542.9 300.8L545.3 300.2L547.6 299.7L549.8 299.5L551.9 299.5L553.9 299.7L555.7 300.1L557.4 300.7L558.9 301.5L560.2 302.5L561.3 303.6L562.2 304.9L562.9 306.3L563.2 307.7L563.4 309.1L563.2 310.6L562.9 312.1L562.2 313.4L561.4 314.7L560.3 315.9L559.0 316.9L557.5 317.8L555.8 318.5L554.0 319.0L552.0 319.2L550.0 319.3L547.9 319.2L545.7 318.9L543.4 318.4L541.1 317.6L538.8 316.8L536.5 315.8L534.2 314.6L531.8 313.4L529.5 312.0L527.2 310.6M526.0 309.3L528.2 308.2L530.4 307.1L532.5 306.1L534.6 305.2L536.7 304.3L538.7 303.6L540.7 303.0L542.6 302.6L544.5 302.3L546.3 302.1L548.0 302.2L549.5 302.3L551.0 302.6L552.4 303.1L553.5 303.7L554.6 304.5L555.4 305.3L556.1 306.2L556.6 307.2L556.9 308.3L557.0 309.3L556.8 310.4L556.5 311.4L556.0 312.4L555.3 313.4L554.5 314.2L553.4 315.0L552.2 315.6L550.9 316.1L549.4 316.5L547.9 316.7L546.2 316.8L544.5 316.7L542.7 316.4L540.8 316.1L538.9 315.6L537.0 314.9L535.1 314.2L533.1 313.4L531.1 312.5L529.2 311.5L527.2 310.5M526.3 309.2L528.1 308.4L529.9 307.6L531.6 306.8L533.4 306.1L535.1 305.5L536.7 305.0L538.3 304.6L539.9 304.2L541.4 304.0L542.8 304.0L544.2 304.0L545.5 304.1L546.6 304.4L547.7 304.7L548.6 305.2L549.4 305.8L550.1 306.4L550.6 307.1L551.0 307.8L551.2 308.6L551.2 309.4L551.1 310.2L550.9 311.0L550.5 311.8L549.9 312.5L549.2 313.1L548.4 313.6L547.4 314.1L546.4 314.5L545.2 314.8L543.9 314.9L542.6 315.0L541.2 314.9L539.7 314.8L538.2 314.5L536.7 314.1L535.1 313.6L533.5 313.1L531.9 312.5L530.3 311.8L528.7 311.1L527.1 310.3M526.4 309.2L527.9 308.5L529.3 307.9L530.7 307.3L532.1 306.8L533.5 306.3L534.8 305.9L536.1 305.6L537.4 305.4L538.6 305.2L539.7 305.2L540.8 305.2L541.8 305.3L542.7 305.5L543.6 305.8L544.3 306.2L544.9 306.6L545.5 307.1L545.9 307.7L546.1 308.3L546.3 308.9L546.3 309.5L546.2 310.1L546.0 310.7L545.7 311.3L545.2 311.8L544.7 312.3L544.0 312.8L543.2 313.1L542.4 313.4L541.5 313.6L540.5 313.8L539.4 313.8L538.3 313.8L537.1 313.6L535.9 313.4L534.6 313.1L533.4 312.8L532.1 312.4L530.8 311.9L529.5 311.4L528.2 310.8L526.9 310.2L525.6 309.6M526.5 309.2L527.6 308.7L528.8 308.2L529.9 307.7L531.0 307.3L532.1 307.0L533.1 306.7L534.2 306.4L535.2 306.2L536.1 306.1L537.0 306.1L537.9 306.1L538.7 306.2L539.4 306.4L540.1 306.6L540.6 306.9L541.1 307.3L541.5 307.7L541.8 308.1L542.1 308.6L542.2 309.0L542.2 309.5L542.1 310.0L542.0 310.5L541.7 311.0L541.3 311.4L540.9 311.8L540.3 312.1L539.7 312.4L539.0 312.6L538.3 312.8L537.5 312.9L536.6 312.9L535.7 312.9L534.8 312.8L533.9 312.6L532.9 312.4L531.9 312.1L530.8 311.8L529.8 311.4L528.8 311.0L527.7 310.6L526.7 310.1L525.6 309.7M526.4 309.2L527.3 308.8L528.2 308.4L529.1 308.1L530.0 307.7L530.9 307.5L531.7 307.2L532.5 307.0L533.3 306.9L534.1 306.8L534.8 306.8L535.5 306.8L536.1 306.9L536.7 307.0L537.2 307.2L537.7 307.5L538.0 307.8L538.4 308.1L538.6 308.4L538.8 308.8L538.9 309.2L538.9 309.6L538.8 310.0L538.7 310.3L538.5 310.7L538.2 311.0L537.8 311.4L537.4 311.6L536.9 311.9L536.3 312.0L535.7 312.2L535.1 312.2L534.4 312.3L533.7 312.2L533.0 312.2L532.2 312.0L531.4 311.8L530.6 311.6L529.8 311.4L529.0 311.1L528.1 310.7L527.3 310.4L526.5 310.0L525.6 309.7M525.6 309.6L526.3 309.2L527.0 308.9L527.8 308.6L528.5 308.3L529.2 308.1L529.9 307.9L530.5 307.7L531.2 307.5L531.8 307.4L532.4 307.4L533.0 307.3L533.5 307.4L534.0 307.4L534.5 307.6L534.9 307.7L535.3 307.9L535.6 308.1L535.8 308.4L536.0 308.7L536.2 309.0L536.2 309.3L536.2 309.6L536.2 309.9L536.1 310.2L535.9 310.5L535.6 310.8L535.4 311.0L535.0 311.2L534.6 311.4L534.2 311.6L533.7 311.7L533.2 311.7L532.6 311.7L532.1 311.7L531.5 311.7L530.9 311.5L530.2 311.4L529.6 311.2L528.9 311.0L528.3 310.8L527.6 310.5L527.0 310.2L526.3 310.0L525.6 309.7M525.6 309.5L526.2 309.3L526.8 309.0L527.4 308.8L527.9 308.6L528.5 308.4L529.1 308.2L529.6 308.0L530.1 307.9L530.6 307.8L531.1 307.8L531.5 307.8L532.0 307.8L532.4 307.9L532.7 308.0L533.1 308.1L533.3 308.2L533.6 308.4L533.8 308.6L533.9 308.9L534.0 309.1L534.1 309.3L534.1 309.6L534.1 309.9L534.0 310.1L533.8 310.3L533.6 310.5L533.4 310.7L533.1 310.9L532.8 311.1L532.4 311.2L532.1 311.3L531.7 311.3L531.2 311.3L530.8 311.3L530.3 311.2L529.8 311.2L529.3 311.0L528.8 310.9L528.3 310.7L527.7 310.5L527.2 310.3L526.7 310.1L526.1 309.9L525.6 309.7M525.6 309.5L526.1 309.3L526.6 309.1L527.0 308.9L527.5 308.8L527.9 308.6L528.4 308.5L528.8 308.3L529.2 308.3L529.6 308.2L530.0 308.2L530.4 308.1L530.7 308.2L531.0 308.2L531.3 308.3L531.6 308.4L531.8 308.5L532.0 308.7L532.1 308.8L532.3 309.0L532.3 309.2L532.4 309.4L532.4 309.6L532.3 309.8L532.3 310.0L532.2 310.2L532.0 310.4L531.8 310.5L531.6 310.7L531.3 310.8L531.1 310.9L530.7 310.9L530.4 311.0L530.1 311.0L529.7 311.0L529.3 310.9L528.9 310.9L528.5 310.8L528.1 310.6L527.7 310.5L527.3 310.4L526.9 310.2L526.4 310.0L526.0 309.8L525.6 309.6M525.7 309.5L526.0 309.4L526.4 309.2L526.8 309.1L527.1 308.9L527.5 308.8L527.8 308.7L528.2 308.6L528.5 308.5L528.8 308.5L529.1 308.4L529.4 308.4L529.7 308.5L529.9 308.5L530.2 308.6L530.4 308.6L530.6 308.7L530.7 308.9L530.8 309.0L530.9 309.1L531.0 309.3L531.0 309.5L531.0 309.6L531.0 309.8L530.9 309.9L530.8 310.1L530.7 310.2L530.6 310.3L530.4 310.5L530.2 310.5L529.9 310.6L529.7 310.7L529.4 310.7L529.2 310.7L528.9 310.7L528.6 310.7L528.2 310.6L527.9 310.5L527.6 310.4L527.3 310.3L526.9 310.2L526.6 310.1L526.3 309.9L525.9 309.8L525.6 309.6M525.6 309.5L525.9 309.4L526.2 309.3L526.5 309.2L526.8 309.0L527.1 308.9L527.4 308.9L527.7 308.8L527.9 308.7L528.2 308.7L528.4 308.7L528.7 308.7L528.9 308.7L529.1 308.7L529.3 308.8L529.4 308.8L529.6 308.9L529.7 309.0L529.8 309.1L529.9 309.2L529.9 309.4L529.9 309.5L529.9 309.6L529.9 309.7L529.8 309.9L529.8 310.0L529.7 310.1L529.5 310.2L529.4 310.3L529.2 310.4L529.1 310.4L528.9 310.5L528.6 310.5L528.4 310.5L528.2 310.5L527.9 310.4L527.7 310.4L527.4 310.3L527.2 310.3L526.9 310.2L526.6 310.1L526.4 310.0L526.1 309.9L525.8 309.7L525.6 309.6M525.6 309.5L525.9 309.4L526.1 309.3L526.3 309.2L526.6 309.1L526.8 309.1L527.0 309.0L527.2 308.9L527.5 308.9L527.7 308.9L527.9 308.9L528.0 308.8L528.2 308.9L528.4 308.9L528.5 308.9L528.6 309.0L528.8 309.1L528.9 309.1L528.9 309.2L529.0 309.3L529.0 309.4L529.0 309.5L529.0 309.6L529.0 309.7L529.0 309.8L528.9 309.9L528.8 310.0L528.7 310.1L528.6 310.2L528.5 310.2L528.3 310.3L528.2 310.3L528.0 310.3L527.8 310.3L527.6 310.3L527.5 310.3L527.3 310.2L527.0 310.2L526.8 310.1L526.6 310.1L526.4 310.0L526.2 309.9L526.0 309.8L525.8 309.7L525.5 309.6M525.6 309.5L525.8 309.5L526.0 309.4L526.2 309.3L526.4 309.2L526.6 309.2L526.7 309.1L526.9 309.1L527.1 309.0L527.2 309.0L527.4 309.0L527.5 309.0L527.7 309.0L527.8 309.0L527.9 309.1L528.0 309.1L528.1 309.2L528.2 309.2L528.3 309.3L528.3 309.4L528.3 309.5L528.3 309.5L528.3 309.6L528.3 309.7L528.3 309.8L528.2 309.9L528.2 309.9L528.1 310.0L528.0 310.0L527.9 310.1L527.8 310.1L527.6 310.2L527.5 310.2L527.4 310.2L527.2 310.2L527.1 310.1L526.9 310.1L526.7 310.1L526.6 310.0L526.4 310.0L526.2 309.9L526.0 309.8L525.9 309.8L525.7 309.7L525.5 309.6M525.6 309.6L525.8 309.5L525.9 309.4L526.1 309.4L526.2 309.3L526.4 309.3L526.5 309.2L526.6 309.2L526.8 309.1L526.9 309.1L527.0 309.1L527.1 309.1L527.3 309.1L527.4 309.1L527.4 309.2L527.5 309.2L527.6 309.3L527.7 309.3L527.7 309.4L527.7 309.4L527.8 309.5L527.8 309.6L527.8 309.6L527.8 309.7L527.7 309.7L527.7 309.8L527.6 309.9L527.6 309.9L527.5 310.0L527.4 310.0L527.3 310.0L527.2 310.0L527.1 310.1L527.0 310.1L526.9 310.1L526.7 310.0L526.6 310.0L526.5 310.0L526.3 309.9L526.2 309.9L526.1 309.8L525.9 309.8L525.8 309.7L525.7 309.7L525.5 309.6M525.6 309.6L525.7 309.5L525.8 309.5L526.0 309.4L526.1 309.4L526.2 309.3L526.3 309.3L526.4 309.3L526.5 309.2L526.6 309.2L526.7 309.2L526.8 309.2L526.9 309.2L527.0 309.2L527.1 309.3L527.1 309.3L527.2 309.3L527.2 309.4L527.3 309.4L527.3 309.5L527.3 309.5L527.3 309.6L527.3 309.6L527.3 309.7L527.3 309.7L527.3 309.8L527.2 309.8L527.2 309.9L527.1 309.9L527.0 309.9L527.0 309.9L526.9 310.0L526.8 310.0L526.7 310.0L526.6 310.0L526.5 309.9L526.4 309.9L526.3 309.9L526.2 309.9L526.1 309.8L526.0 309.8L525.8 309.8L525.7 309.7L525.6 309.7L525.5 309.6M525.6 309.6L525.7 309.5L525.8 309.5L525.9 309.4L526.0 309.4L526.1 309.4L526.1 309.3L526.2 309.3L526.3 309.3L526.4 309.3L526.5 309.3L526.6 309.3L526.6 309.3L526.7 309.3L526.8 309.3L526.8 309.4L526.9 309.4L526.9 309.4L526.9 309.4L526.9 309.5L527.0 309.5L527.0 309.6L527.0 309.6L527.0 309.7L526.9 309.7L526.9 309.7L526.9 309.8L526.8 309.8L526.8 309.8L526.7 309.9L526.7 309.9L526.6 309.9L526.5 309.9L526.5 309.9L526.4 309.9L526.3 309.9L526.2 309.9L526.1 309.8L526.0 309.8L526.0 309.8L525.9 309.8L525.8 309.7L525.7 309.7L525.6 309.6L525.5 309.6M525.6 309.6L525.6 309.5L525.7 309.5L525.8 309.5L525.9 309.4L526.0 309.4L526.0 309.4L526.1 309.4L526.2 309.4L526.2 309.4L526.3 309.4L526.4 309.4L526.4 309.4L526.5 309.4L526.5 309.4L526.5 309.4L526.6 309.4L526.6 309.5L526.6 309.5L526.7 309.5L526.7 309.5L526.7 309.6L526.7 309.6L526.7 309.6L526.6 309.7L526.6 309.7L526.6 309.7L526.6 309.8L526.5 309.8L526.5 309.8L526.4 309.8L526.4 309.8L526.3 309.8L526.3 309.8L526.2 309.8L526.1 309.8L526.1 309.8L526.0 309.8L525.9 309.8L525.9 309.7L525.8 309.7L525.7 309.7L525.6 309.7L525.6 309.6L525.5 309.6M525.6 309.6L525.6 309.5L525.7 309.5L525.7 309.5L525.8 309.5L525.9 309.5L525.9 309.4L526.0 309.4L526.0 309.4L526.1 309.4L526.1 309.4L526.2 309.4L526.2 309.4L526.3 309.4L526.3 309.4L526.3 309.4L526.4 309.5L526.4 309.5L526.4 309.5L526.4 309.5L526.4 309.6L526.4 309.6L526.4 309.6L526.4 309.6L526.4 309.7L526.4 309.7L526.4 309.7L526.3 309.7L526.3 309.8L526.3 309.8L526.2 309.8L526.2 309.8L526.2 309.8L526.1 309.8L526.1 309.8L526.0 309.8L526.0 309.8L525.9 309.8L525.8 309.7L525.8 309.7L525.7 309.7L525.7 309.7L525.6 309.7L525.6 309.6L525.5 309.6M525.5 309.6L525.6 309.6L525.6 309.5L525.7 309.5L525.7 309.5L525.8 309.5L525.8 309.5L525.9 309.5L525.9 309.4L526.0 309.4L526.0 309.4L526.1 309.4L526.1 309.4L526.1 309.5L526.1 309.5L526.2 309.5L526.2 309.5L526.2 309.5L526.2 309.5L526.2 309.5L526.3 309.6L526.3 309.6L526.3 309.6L526.2 309.6L526.2 309.7L526.2 309.7L526.2 309.7L526.2 309.7L526.2 309.7L526.1 309.7L526.1 309.7L526.1 309.7L526.0 309.8L526.0 309.8L525.9 309.7L525.9 309.7L525.9 309.7L525.8 309.7L525.8 309.7L525.7 309.7L525.7 309.7L525.6 309.7L525.6 309.6L525.5 309.6M525.5 309.6L525.5 309.6L525.6 309.6L525.6 309.5L525.7 309.5L525.7 309.5L525.7 309.5L525.8 309.5L525.8 309.5L525.8 309.5L525.9 309.5L525.9 309.5L525.9 309.5L526.0 309.5L526.0 309.5L526.0 309.5L526.0 309.5L526.1 309.5L526.1 309.5L526.1 309.5L526.1 309.6L526.1 309.6L526.1 309.6L526.1 309.6L526.1 309.6L526.1 309.6L526.1 309.7L526.1 309.7L526.0 309.7L526.0 309.7L526.0 309.7L526.0 309.7L525.9 309.7L525.9 309.7L525.9 309.7L525.9 309.7L525.8 309.7L525.8 309.7L525.8 309.7L525.7 309.7L525.7 309.7L525.6 309.7L525.6 309.6L525.6 309.6L525.5 309.6M525.5 309.6L525.5 309.6L525.6 309.6L525.6 309.6L525.6 309.5L525.7 309.5L525.7 309.5L525.7 309.5L525.8 309.5L525.8 309.5L525.8 309.5L525.8 309.5L525.9 309.5L525.9 309.5L525.9 309.5L525.9 309.5L525.9 309.5L526.0 309.5L526.0 309.5L526.0 309.6L526.0 309.6L526.0 309.6L526.0 309.6L526.0 309.6L526.0 309.6L526.0 309.6L526.0 309.6L525.9 309.7L525.9 309.7L525.9 309.7L525.9 309.7L525.9 309.7L525.9 309.7L525.8 309.7L525.8 309.7L525.8 309.7L525.8 309.7L525.7 309.7L525.7 309.7L525.7 309.7L525.6 309.7L525.6 309.6L525.6 309.6L525.6 309.6L525.5 309.6M525.5 309.6L525.5 309.6L525.6 309.6L525.6 309.6L525.6 309.6L525.6 309.5L525.7 309.5L525.7 309.5L525.7 309.5L525.7 309.5L525.7 309.5L525.8 309.5L525.8 309.5L525.8 309.5L525.8 309.5L525.8 309.5L525.8 309.5L525.9 309.5L525.9 309.6L525.9 309.6L525.9 309.6L525.9 309.6L525.9 309.6L525.9 309.6L525.9 309.6L525.9 309.6L525.9 309.6L525.9 309.6L525.8 309.7L525.8 309.7L525.8 309.7L525.8 309.7L525.8 309.7L525.8 309.7L525.7 309.7L525.7 309.7L525.7 309.7L525.7 309.7L525.7 309.7L525.6 309.7L525.6 309.6L525.6 309.6L525.6 309.6L525.5 309.6L525.5 309.6" stroke="#3d8fc9" stroke-width="1.0"/>
<path d="M525.5 309.6L525.5 309.1L525.5 308.5L525.6 308.0L525.7 307.3L525.8 306.7L525.9 306.0L526.1 305.3L526.3 304.5L526.5 303.8L526.7 303.0L527.0 302.1L527.4 301.3L527.8 300.4L528.2 299.5L528.6 298.6L529.1 297.7L529.7 296.7L530.3 295.8L530.9 294.8L531.6 293.9L532.3 292.9L533.1 291.9L533.9 291.0L534.8 290.0L535.7 289.0L536.7 288.1L537.7 287.2L538.8 286.3L539.9 285.4L541.1 284.5L542.3 283.6L543.5 282.8L544.8 282.0L546.1 281.3L547.5 280.5L548.9 279.8L550.3 279.2L551.8 278.6L553.3 278.0L554.8 277.5L556.4 277.0L557.9 276.6L559.5 276.2L561.2 275.9L562.8 275.6L564.5 275.4L566.1 275.2L567.8 275.1L569.5 275.1L571.2 275.1L572.9 275.2L574.5 275.3L576.2 275.5L577.9 275.8L579.5 276.1L581.2 276.5L582.8 277.0L584.4 277.5L586.0 278.1L587.5 278.7L589.1 279.4L590.5 280.2L592.0 281.0L593.4 281.9L594.8 282.8L596.1 283.8L597.4 284.8L598.6 285.9L599.8 287.0L600.9 288.2L602.0 289.4L603.0 290.6L603.9 291.9L604.8 293.3L605.6 294.6L606.4 296.0L607.1 297.5L607.7 298.9L608.2 300.4L608.7 301.9L609.1 303.4L609.5 305.0L609.7 306.5L609.9 308.1L610.1 309.6L610.1 311.2L610.1 312.7L610.0 314.3L609.9 315.9L609.7 317.4L609.4 319.0L609.0 320.5L608.6 322.0L608.2 323.5L607.6 325.0L607.0 326.4L606.4 327.9L605.7 329.3L604.9 330.6L604.1 332.0L603.3 333.3L602.3 334.6L601.4 335.8L600.4 337.0L599.3 338.2L598.2 339.4L597.1 340.4L595.9 341.5L594.7 342.5L593.5 343.5L592.2 344.4L591.0 345.3L589.6 346.1L588.3 346.9L587.0 347.7L585.6 348.4L584.2 349.0L582.8 349.7L581.4 350.2L580.0 350.8L578.6 351.3L577.1 351.7L575.7 352.1L574.3 352.5L572.9 352.8L571.5 353.1L570.0 353.4L568.6 353.6L567.2 353.8L565.9 353.9L564.5 354.0L563.1 354.1L561.8 354.2L560.5 354.2L559.2 354.2L557.9 354.2L556.6 354.2L555.4 354.1L554.2 354.1L553.0 354.0L551.8 353.9L550.6 353.8L549.5 353.7L548.4 353.5L547.3 353.4L546.2 353.3L545.2 353.1L544.2 353.0L543.2 352.8L542.2 352.7L541.2 352.6L540.3 352.4L539.4 352.3L538.5 352.2L537.6 352.1L536.7 352.0L535.8 351.9L535.0 351.8L534.2 351.7L533.4 351.7L532.5 351.6L531.7 351.6L531.0 351.6L530.2 351.6L529.4 351.7L528.6 351.7L527.8 351.8L527.0 351.9L526.3 352.0L525.5 352.1L524.7 352.2L523.9 352.3L523.1 352.5L522.3 352.7L521.5 352.9L520.6 353.1L519.8 353.3L518.9 353.6L518.1 353.8L517.2 354.1L516.3 354.3L515.3 354.6L514.4 354.9L513.4 355.2L512.4 355.4L511.4 355.7L510.4 356.0L509.3 356.3L508.3 356.6L507.2 356.9L506.0 357.2L504.9 357.4L503.7 357.7L502.5 357.9L501.3 358.2L500.0 358.4L498.8 358.6L497.5 358.8L496.2 359.0L494.8 359.1L493.5 359.2L492.1 359.3L490.7 359.4L489.3 359.4L487.8 359.4L486.4 359.4L484.9 359.4L483.4 359.3L482.0 359.1L480.5 359.0L478.9 358.8L477.4 358.5L475.9 358.2L474.4 357.9L472.9 357.5L471.3 357.1L469.8 356.7L468.3 356.2L466.8 355.6L465.3 355.0L463.8 354.4L462.3 353.7L460.9 353.0L459.4 352.2L458.0 351.4L456.6 350.5L455.2 349.6L453.8 348.6L452.5 347.6L451.2 346.5L449.9 345.4L448.7 344.3L447.5 343.1L446.3 341.9L445.2 340.6L444.1 339.3L443.1 338.0L442.1 336.6L441.2 335.2L440.3 333.8L439.4 332.3L438.6 330.8L437.9 329.3L437.2 327.8L436.5 326.2L435.9 324.6L435.4 323.0L434.9 321.3L434.5 319.7L434.2 318.0L433.9 316.3L433.6 314.6L433.4 312.9L433.3 311.2L433.3 309.5L433.3 307.8L433.3 306.1L433.4 304.4L433.6 302.7L433.9 301.1L434.2 299.4L434.5 297.7L434.9 296.1L435.4 294.4L435.9 292.8L436.5 291.2L437.1 289.6L437.8 288.1L438.5 286.5L439.3 285.0L440.1 283.5L441.0 282.1L441.9 280.7L442.9 279.3L443.9 277.9L444.9 276.6L446.0 275.3L447.1 274.1L448.3 272.9L449.5 271.7L450.7 270.5L451.9 269.4L453.2 268.4L454.5 267.4L455.8 266.4L457.2 265.5L458.5 264.6L459.9 263.7L461.3 262.9L462.7 262.1L464.1 261.4L465.5 260.7L467.0 260.0L468.4 259.4L469.8 258.8L471.3 258.2L472.7 257.7L474.2 257.3L475.6 256.8L477.1 256.4L478.5 256.0L480.0 255.7L481.4 255.4L482.8 255.1L484.2 254.8L485.6 254.6L487.0 254.4L488.4 254.2L489.7 254.1L491.1 253.9L492.4 253.8L493.7 253.7L495.0 253.6L496.3 253.5L497.6 253.5L498.9 253.5L500.1 253.4L501.4 253.4L502.6 253.4L503.8 253.4L505.0 253.4L506.1 253.4L507.3 253.4L508.4 253.4L509.6 253.4L510.7 253.5L511.8 253.5L512.9 253.5L514.0 253.5L515.1 253.5L516.1 253.5L517.2 253.5L518.2 253.5L519.3 253.5L520.3 253.5L521.4 253.4L522.4 253.4L523.5 253.4L524.5 253.3L525.5 253.3L526.6 253.2L527.6 253.2L528.7 253.1L529.7 253.0L530.8 253.0L531.9 252.9L532.9 252.8L534.0 252.7L535.1 252.6L536.2 252.5L537.3 252.4L538.5 252.3L539.6 252.2L540.8 252.1L541.9 252.0L543.1 251.9L544.3 251.8L545.5 251.7L546.8 251.7L548.0 251.6L549.3 251.5L550.6 251.5L551.9 251.5L553.2 251.4L554.5 251.4L555.9 251.4L557.2 251.5L558.6 251.5L560.0 251.6L561.4 251.7L562.9 251.8L564.3 251.9L565.7 252.1L567.2 252.3L568.7 252.5L570.1 252.8L571.6 253.1L573.1 253.4L574.6 253.8L576.1 254.1L577.7 254.6L579.2 255.0L580.7 255.5L582.2 256.1L583.7 256.6L585.2 257.3L586.7 257.9L588.2 258.6L589.7 259.4L591.1 260.1L592.6 261.0L594.0 261.8L595.4 262.7L596.8 263.7L598.2 264.7L599.6 265.7L600.9 266.8L602.2 267.9L603.5 269.0L604.8 270.2L606.0 271.5L607.2 272.7L608.3 274.0L609.4 275.4L610.5 276.8L611.5 278.2L612.5 279.6L613.5 281.1L614.4 282.6L615.2 284.2L616.0 285.7L616.8 287.3L617.5 288.9L618.2 290.6L618.8 292.3L619.3 293.9L619.8 295.6L620.3 297.4L620.7 299.1L621.0 300.8L621.3 302.6L621.5 304.4L621.7 306.1L621.8 307.9L621.8 309.7L621.8 311.5L621.7 313.3L621.6 315.0L621.4 316.8L621.2 318.6L620.9 320.3L620.6 322.1L620.2 323.8L619.7 325.5L619.2 327.2L618.6 328.9L618.0 330.6L617.3 332.2L616.6 333.8L615.9 335.4L615.0 337.0L614.2 338.5L613.3 340.0L612.3 341.5L611.4 343.0L610.3 344.4L609.3 345.8L608.2 347.1L607.0 348.4L605.9 349.7L604.7 351.0L603.4 352.2L602.2 353.3L600.9 354.5L599.6 355.6L598.2 356.6L596.9 357.6L595.5 358.6L594.1 359.6L592.7 360.5L591.3 361.3L589.8 362.1L588.4 362.9L586.9 363.7L585.5 364.4L584.0 365.0L582.5 365.7L581.0 366.3L579.5 366.9L578.1 367.4L576.6 367.9L575.1 368.4L573.6 368.8L572.2 369.2L570.7 369.6L569.2 369.9L567.8 370.3L566.3 370.6L564.9 370.8L563.5 371.1L562.1 371.3L560.7 371.5L559.3 371.7L557.9 371.9L556.5 372.0L555.1 372.2L553.8 372.3L552.5 372.4L551.1 372.5L549.8 372.6L548.5 372.7L547.2 372.8L546.0 372.8L544.7 372.9L543.4 372.9L542.2 373.0L541.0 373.0L539.7 373.0L538.5 373.1L537.3 373.1L536.1 373.1L534.9 373.2L533.7 373.2L532.5 373.2L531.3 373.3L530.1 373.3L529.0 373.3L527.8 373.4L526.6 373.4L525.4 373.5L524.2 373.5L523.1 373.5L521.9 373.6L520.7 373.6L519.5 373.7L518.3 373.7L517.1 373.8L515.9 373.8L514.6 373.9L513.4 373.9L512.2 374.0L510.9 374.0L509.6 374.0L508.4 374.1L507.1 374.1L505.8 374.1L504.5 374.1L503.1 374.1L501.8 374.1L500.4 374.1L499.1 374.0L497.7 374.0L496.3 373.9L494.9 373.8L493.5 373.7L492.0 373.6L490.6 373.5L489.1 373.3L487.7 373.1L486.2 372.9L484.7 372.7L483.2 372.4L481.7 372.2L480.2 371.8L478.6 371.5L477.1 371.1L475.6 370.7L474.0 370.3L472.5 369.8L470.9 369.3L469.4 368.7L467.9 368.2L466.3 367.6L464.8 366.9L463.2 366.2L461.7 365.5L460.2 364.7L458.7 363.9L457.2 363.0L455.7 362.1L454.3 361.2L452.8 360.2L451.4 359.2L450.0 358.2L448.6 357.1L447.3 355.9L445.9 354.8L444.6 353.5L443.3 352.3L442.1 351.0L440.9 349.7L439.7 348.3L438.6 346.9L437.5 345.4L436.4 344.0L435.4 342.5L434.4 340.9L433.5 339.4L432.6 337.8L431.7 336.1L430.9 334.5L430.2 332.8L429.5 331.1L428.8 329.4L428.2 327.6L427.7 325.9L427.2 324.1L426.8 322.3L426.4 320.5L426.1 318.7L425.8 316.8L425.6 315.0L425.4 313.2L425.3 311.3L425.3 309.5L425.3 307.6L425.3 305.8L425.5 303.9L425.6 302.1L425.9 300.2L426.2 298.4L426.5 296.6L426.9 294.8L427.4 293.0L427.9 291.2L428.4 289.5L429.1 287.7L429.7 286.0L430.4 284.3L431.2 282.6L432.0 281.0L432.9 279.4L433.8 277.8L434.7 276.2L435.7 274.7L436.7 273.1L437.8 271.7L438.9 270.2L440.0 268.8L441.2 267.5L442.4 266.1L443.6 264.8L444.9 263.6L446.2 262.3L447.5 261.1L448.8 260.0L450.2 258.9L451.6 257.8L453.0 256.7L454.4 255.7L455.8 254.8L457.3 253.9L458.8 253.0L460.3 252.1L461.7 251.3L463.2 250.5L464.8 249.8L466.3 249.1L467.8 248.4L469.3 247.8L470.8 247.2L472.4 246.6L473.9 246.1L475.4 245.5L476.9 245.1L478.4 244.6L479.9 244.2L481.5 243.8L483.0 243.4L484.4 243.1L485.9 242.7L487.4 242.4L488.9 242.2L490.4 241.9L491.8 241.7L493.3 241.5L494.7 241.3L496.1 241.1L497.5 240.9L498.9 240.7L500.3 240.6L501.7 240.5L503.1 240.3L504.5 240.2L505.9 240.1L507.2 240.0L508.6 239.9L509.9 239.9L511.2 239.8L512.6 239.7L513.9 239.7L515.2 239.6L516.5 239.6L517.8 239.5L519.1 239.5L520.4 239.4L521.7 239.4L523.0 239.3L524.3 239.3L525.6 239.3L526.9 239.2L528.2 239.2L529.5 239.2L530.8 239.2L532.1 239.2L533.5 239.1L534.8 239.1L536.1 239.1L537.4 239.1L538.8 239.1L540.1 239.1L541.5 239.2L542.9 239.2L544.3 239.2L545.6 239.3L547.0 239.3L548.4 239.4L549.9 239.4L551.3 239.5L552.7 239.6L554.2 239.8L555.7 239.9L557.1 240.0L558.6 240.2L560.1 240.4L561.6 240.6L563.1 240.8L564.6 241.1L566.2 241.4L567.7 241.7L569.3 242.0L570.8 242.4L572.4 242.7L573.9 243.2L575.5 243.6L577.1 244.1L578.7 244.6L580.2 245.1L581.8 245.7L583.4 246.3L585.0 247.0L586.5 247.6L588.1 248.4L589.7 249.1L591.2 249.9L592.7 250.7L594.3 251.6L595.8 252.5L597.3 253.5L598.8 254.5L600.3 255.5L601.7 256.6L603.1 257.7L604.5 258.8L605.9 260.0L607.3 261.2L608.6 262.5L609.9 263.8L611.2 265.1L612.4 266.5L613.6 267.9L614.8 269.4L616.0 270.8L617.0 272.4L618.1 273.9L619.1 275.5L620.1 277.1L621.0 278.7L621.9 280.4L622.7 282.1L623.5 283.8L624.3 285.6L625.0 287.4L625.6 289.1L626.2 291.0L626.7 292.8L627.2 294.6L627.7 296.5L628.0 298.4L628.3 300.3L628.6 302.1L628.8 304.1L629.0 306.0L629.1 307.9L629.1 309.8L629.1 311.7L629.0 313.6L628.9 315.5L628.7 317.4L628.5 319.3L628.2 321.2L627.8 323.1L627.4 325.0L626.9 326.8L626.4 328.7L625.9 330.5L625.3 332.3L624.6 334.1L623.9 335.8L623.1 337.6L622.3 339.3L621.4 341.0L620.5 342.6L619.6 344.3L618.6 345.9L617.6 347.4L616.5 349.0L615.4 350.5L614.2 352.0L613.1 353.4L611.8 354.8L610.6 356.2L609.3 357.5L608.0 358.8L606.7 360.1L605.3 361.3L603.9 362.5L602.5 363.6L601.1 364.7L599.6 365.8L598.2 366.8L596.7 367.8L595.2 368.8L593.7 369.7L592.2 370.6L590.6 371.5L589.1 372.3L587.6 373.1L586.0 373.8L584.4 374.5L582.9 375.2L581.3 375.8L579.7 376.4L578.2 377.0L576.6 377.5L575.0 378.1L573.5 378.6L571.9 379.0L570.4 379.4L568.8 379.9L567.3 380.2L565.7 380.6L564.2 380.9L562.7 381.2L561.1 381.5L559.6 381.8L558.1 382.1L556.6 382.3L555.1 382.5L553.7 382.7L552.2 382.9L550.7 383.1L549.3 383.2L547.8 383.4L546.4 383.5L544.9 383.6L543.5 383.7L542.1 383.9L540.7 384.0L539.3 384.0L537.9 384.1L536.5 384.2L535.1 384.3L533.7 384.3L532.3 384.4L530.9 384.4L529.5 384.5L528.1 384.5L526.7 384.5L525.4 384.6L524.0 384.6L522.6 384.6L521.2 384.6L519.8 384.6L518.4 384.6L517.0 384.6L515.6 384.6L514.2 384.6L512.8 384.6L511.3 384.5L509.9 384.5L508.5 384.4L507.0 384.4L505.6 384.3L504.1 384.2L502.6 384.1L501.2 384.0L499.7 383.9L498.2 383.7L496.7 383.6L495.1 383.4L493.6 383.2L492.1 383.0L490.5 382.8L489.0 382.5L487.4 382.3L485.9 382.0L484.3 381.7L482.7 381.3L481.1 380.9L479.5 380.5L477.9 380.1L476.3 379.7L474.7 379.2L473.1 378.7L471.5 378.1L469.9 377.5L468.3 376.9L466.7 376.3L465.1 375.6L463.5 374.9L461.9 374.1L460.3 373.3L458.7 372.5L457.2 371.6L455.6 370.7L454.1 369.8L452.5 368.8L451.0 367.8L449.5 366.7L448.1 365.6L446.6 364.5L445.2 363.3L443.8 362.1L442.4 360.8L441.0 359.5L439.7 358.2L438.4 356.8L437.1 355.4L435.9 354.0L434.7 352.5L433.5 351.0L432.4 349.5L431.3 347.9L430.2 346.3L429.2 344.6L428.2 343.0L427.3 341.3L426.4 339.5L425.6 337.8L424.8 336.0L424.1 334.2L423.4 332.4L422.8 330.5L422.2 328.7L421.7 326.8L421.2 324.9L420.8 323.0L420.4 321.1L420.1 319.1L419.8 317.2L419.6 315.2L419.5 313.3L419.4 311.3L419.4 309.4L419.4 307.4L419.4 305.4L419.6 303.5L419.8 301.5L420.0 299.6L420.3 297.7L420.7 295.7L421.1 293.8L421.5 291.9L422.1 290.0L422.6 288.2L423.2 286.3L423.9 284.5L424.6 282.7L425.4 280.9L426.2 279.1L427.1 277.4L428.0 275.7L428.9 274.0L429.9 272.3L430.9 270.7L432.0 269.1L433.1 267.5L434.3 266.0L435.4 264.5L436.7 263.0L437.9 261.6L439.2 260.2L440.5 258.9L441.8 257.5L443.2 256.3L444.6 255.0L446.0 253.8L447.5 252.6L448.9 251.5L450.4 250.4L451.9 249.3L453.4 248.3L454.9 247.3L456.5 246.4L458.0 245.5L459.6 244.6L461.1 243.7L462.7 242.9L464.3 242.2L465.9 241.4L467.5 240.7L469.1 240.1L470.7 239.4L472.3 238.8L473.9 238.2L475.5 237.7L477.1 237.2L478.7 236.7L480.3 236.2L481.9 235.8L483.5 235.4L485.1 235.0L486.6 234.6L488.2 234.3L489.8 234.0L491.3 233.7L492.9 233.4L494.4 233.1L496.0 232.9L497.5 232.7L499.0 232.4L500.6 232.2L502.1 232.1L503.6 231.9L505.1 231.7L506.6 231.6L508.1 231.5L509.6 231.4L511.0 231.3L512.5 231.2L514.0 231.1L515.5 231.0L516.9 230.9L518.4 230.9L519.9 230.8L521.3 230.8L522.8 230.7L524.2 230.7L525.7 230.7L527.1 230.6L528.6 230.6L530.1 230.6L531.5 230.7L533.0 230.7L534.5 230.7L536.0 230.7L537.4 230.8L538.9 230.8L540.4 230.9L541.9 231.0L543.4 231.0L544.9 231.1L546.4 231.3L548.0 231.4L549.5 231.5L551.0 231.7L552.6 231.8L554.1 232.0L555.7 232.2L557.3 232.4L558.8 232.7L560.4 232.9L562.0 233.2L563.6 233.5L565.2 233.9L566.8 234.2L568.4 234.6L570.1 235.0L571.7 235.4L573.3 235.9L574.9 236.4L576.6 236.9L578.2 237.4L579.9 238.0L581.5 238.6L583.1 239.2L584.8 239.9L586.4 240.6L588.0 241.4L589.6 242.2L591.2 243.0L592.8 243.8L594.4 244.7L596.0 245.6L597.6 246.6L599.1 247.6L600.7 248.7L602.2 249.7L603.7 250.8L605.2 252.0L606.7 253.2L608.1 254.4L609.5 255.7L610.9 257.0L612.3 258.4L613.6 259.8L614.9 261.2L616.2 262.6L617.4 264.1L618.6 265.7L619.8 267.2L620.9 268.8L622.0 270.4L623.0 272.1L624.1 273.8L625.0 275.5L625.9 277.3L626.8 279.0L627.6 280.8L628.4 282.6L629.1 284.5L629.8 286.4L630.5 288.2L631.0 290.2L631.6 292.1L632.0 294.0L632.4 296.0L632.8 297.9L633.1 299.9L633.4 301.9L633.6 303.9L633.7 305.9L633.8 307.9L633.8 309.9L633.8 311.9L633.7 313.9L633.6 315.9L633.4 317.9L633.2 319.9L632.9 321.8L632.5 323.8L632.1 325.8L631.6 327.7L631.1 329.6L630.5 331.5L629.9 333.4L629.2 335.3L628.5 337.2L627.8 339.0L626.9 340.8L626.1 342.6L625.2 344.3L624.2 346.1L623.2 347.8L622.2 349.4L621.1 351.1L620.0 352.7L618.8 354.2L617.6 355.8L616.4 357.3L615.2 358.8L613.9 360.2L612.5 361.6L611.2 363.0L609.8 364.3L608.4 365.6L607.0 366.9L605.5 368.1L604.1 369.2L602.6 370.4L601.0 371.5L599.5 372.6L598.0 373.6L596.4 374.6L594.8 375.6L593.3 376.5L591.7 377.4L590.1 378.2L588.4 379.0L586.8 379.8L585.2 380.6L583.6 381.3L581.9 381.9L580.3 382.6L578.7 383.2L577.0 383.8L575.4 384.4L573.8 384.9L572.1 385.4L570.5 385.9L568.9 386.3L567.3 386.7L565.6 387.1L564.0 387.5L562.4 387.9L560.8 388.2L559.2 388.5L557.6 388.8L556.0 389.1L554.4 389.3L552.9 389.5L551.3 389.8L549.7 390.0L548.2 390.1L546.6 390.3L545.1 390.5L543.5 390.6L542.0 390.7L540.5 390.9L538.9 391.0L537.4 391.1L535.9 391.2L534.4 391.2L532.8 391.3L531.3 391.3L529.8 391.4L528.3 391.4L526.8 391.5L525.3 391.5L523.8 391.5L522.2 391.5L520.7 391.5L519.2 391.4L517.7 391.4L516.2 391.4L514.6 391.3L513.1 391.3L511.6 391.2L510.0 391.1L508.5 391.0L506.9 390.9L505.4 390.8L503.8 390.6L502.2 390.5L500.7 390.3L499.1 390.1L497.5 389.9L495.9 389.7L494.3 389.5L492.7 389.2L491.1 388.9L489.4 388.6L487.8 388.3L486.2 388.0L484.5 387.6L482.9 387.2L481.3 386.8L479.6 386.4L478.0 385.9L476.3 385.4L474.6 384.9L473.0 384.3L471.3 383.7L469.7 383.1L468.0 382.5L466.3 381.8L464.7 381.1L463.0 380.3L461.4 379.5L459.8 378.7L458.1 377.8L456.5 376.9L454.9 376.0L453.3 375.0L451.7 374.0L450.2 373.0L448.6 371.9L447.1 370.8L445.6 369.6L444.1 368.4L442.6 367.2L441.2 365.9L439.7 364.6L438.3 363.2L437.0 361.8L435.6 360.4L434.3 358.9L433.1 357.4L431.8 355.9L430.6 354.3L429.4 352.7L428.3 351.1L427.2 349.4L426.2 347.7L425.2 346.0L424.2 344.3L423.3 342.5L422.4 340.7L421.6 338.8L420.8 337.0L420.1 335.1L419.4 333.2L418.8 331.3L418.2 329.3L417.7 327.4L417.2 325.4L416.8 323.4L416.4 321.4L416.1 319.4L415.9 317.4L415.7 315.4L415.6 313.3L415.5 311.3L415.4 309.3L415.5 307.2L415.6 305.2L415.7 303.2L415.9 301.2L416.1 299.1L416.5 297.1L416.8 295.1L417.2 293.1L417.7 291.2L418.2 289.2L418.8 287.3L419.4 285.3L420.1 283.4L420.8 281.6L421.6 279.7L422.4 277.9L423.3 276.0L424.2 274.3L425.2 272.5L426.2 270.8L427.2 269.1L428.3 267.4L429.4 265.8L430.6 264.2L431.8 262.6L433.0 261.0L434.3 259.5L435.6 258.1L436.9 256.6L438.3 255.2L439.7 253.9L441.1 252.6L442.6 251.3L444.0 250.0L445.5 248.8L447.0 247.6L448.5 246.5L450.1 245.4L451.7 244.3L453.2 243.3L454.8 242.3L456.4 241.4L458.0 240.4L459.7 239.6L461.3 238.7L462.9 237.9L464.6 237.1L466.2 236.4L467.9 235.7L469.5 235.0L471.2 234.4L472.9 233.7L474.5 233.2L476.2 232.6L477.8 232.1L479.5 231.6L481.2 231.1L482.8 230.7L484.5 230.2L486.1 229.8L487.7 229.5L489.4 229.1L491.0 228.8L492.6 228.5L494.3 228.2L495.9 227.9L497.5 227.7L499.1 227.4L500.7 227.2L502.3 227.0L503.9 226.8L505.5 226.7L507.0 226.5L508.6 226.4L510.2 226.2L511.8 226.1L513.3 226.0L514.9 225.9L516.4 225.9L518.0 225.8L519.6 225.7L521.1 225.7L522.7 225.6L524.2 225.6L525.8 225.6L527.3 225.6L528.9 225.6L530.4 225.6L532.0 225.7L533.5 225.7L535.1 225.7L536.7 225.8L538.2 225.9L539.8 226.0L541.4 226.1L543.0 226.2L544.6 226.3L546.2 226.4L547.8 226.6L549.4 226.8L551.0 226.9L552.6 227.1L554.2 227.4L555.8 227.6L557.5 227.9L559.1 228.1L560.8 228.4L562.4 228.8L564.1 229.1L565.7 229.5L567.4 229.9L569.1 230.3L570.7 230.7L572.4 231.2L574.1 231.7L575.8 232.2L577.4 232.8L579.1 233.4L580.8 234.0L582.5 234.7L584.2 235.4L585.8 236.1L587.5 236.8L589.2 237.6L590.8 238.4L592.5 239.3L594.1 240.2L595.7 241.1L597.3 242.1L598.9 243.1L600.5 244.1L602.1 245.2L603.7 246.3L605.2 247.5L606.7 248.7L608.2 249.9L609.7 251.2L611.1 252.5L612.6 253.8L614.0 255.2L615.3 256.6L616.7 258.1L618.0 259.6L619.3 261.1L620.5 262.7L621.7 264.3L622.9 265.9L624.0 267.6L625.1 269.3L626.1 271.0L627.1 272.8L628.1 274.5L629.0 276.4L629.9 278.2L630.7 280.1L631.5 281.9L632.2 283.8L632.9 285.8L633.5 287.7L634.1 289.7L634.6 291.7L635.0 293.7L635.4 295.7L635.8 297.7L636.1 299.7L636.4 301.8L636.5 303.8L636.7 305.9L636.8 307.9L636.8 310.0L636.8 312.0L636.7 314.1L636.5 316.1L636.3 318.2L636.1 320.2L635.8 322.3L635.4 324.3L635.0 326.3L634.5 328.3L634.0 330.3L633.4 332.2L632.8 334.2L632.1 336.1L631.4 338.0L630.6 339.9L629.8 341.8L628.9 343.6L628.0 345.4L627.0 347.2L626.0 348.9L625.0 350.7L623.9 352.4L622.7 354.0L621.6 355.7L620.4 357.3L619.1 358.8L617.9 360.3L616.6 361.8L615.2 363.3L613.9 364.7L612.5 366.1L611.0 367.5L609.6 368.8L608.1 370.1L606.6 371.3L605.1 372.5L603.6 373.7L602.0 374.8L600.5 375.9L598.9 377.0L597.3 378.0L595.7 379.0L594.0 379.9L592.4 380.8L590.8 381.7L589.1 382.5L587.4 383.3L585.8 384.1L584.1 384.8L582.4 385.5L580.8 386.2L579.1 386.9L577.4 387.5L575.7 388.1L574.0 388.6L572.4 389.1L570.7 389.6L569.0 390.1L567.3 390.6L565.7 391.0L564.0 391.4L562.3 391.7L560.7 392.1L559.0 392.4L557.4 392.7L555.7 393.0L554.1 393.3L552.4 393.5L550.8 393.8L549.2 394.0L547.6 394.2L545.9 394.4L544.3 394.5L542.7 394.7L541.1 394.8L539.5 395.0L537.9 395.1L536.3 395.2L534.7 395.3L533.1 395.3L531.5 395.4L530.0 395.4L528.4 395.5L526.8 395.5L525.2 395.5L523.6 395.5L522.0 395.5L520.4 395.5L518.8 395.5L517.2 395.4L515.6 395.4L514.0 395.3L512.4 395.2L510.8 395.1L509.2 395.0L507.6 394.9L506.0 394.7L504.4 394.6L502.7 394.4L501.1 394.2L499.5 394.0L497.8 393.8L496.2 393.5L494.5 393.3L492.8 393.0L491.2 392.7L489.5 392.4L487.8 392.0L486.2 391.6L484.5 391.3L482.8 390.8L481.1 390.4L479.4 389.9L477.7 389.4L476.0 388.9L474.3 388.3L472.6 387.7L470.9 387.1L469.2 386.5L467.5 385.8L465.8 385.1L464.2 384.3L462.5 383.5L460.8 382.7L459.1 381.9L457.5 381.0L455.8 380.0L454.2 379.1L452.6 378.1L451.0 377.0L449.4 376.0L447.8 374.9L446.2 373.7L444.7 372.5L443.2 371.3L441.7 370.0L440.2 368.7L438.7 367.4L437.3 366.0L435.9 364.6L434.6 363.2L433.2 361.7L431.9 360.1L430.6 358.6L429.4 357.0L428.2 355.4L427.0 353.7L425.9 352.0L424.8 350.3L423.8 348.6L422.8 346.8L421.8 345.0L420.9 343.1L420.1 341.3L419.2 339.4L418.5 337.5L417.8 335.6L417.1 333.6L416.5 331.6L415.9 329.7L415.4 327.7L414.9 325.6L414.5 323.6L414.2 321.6L413.9 319.5L413.6 317.5L413.4 315.4L413.3 313.3L413.2 311.2L413.2 309.2L413.2 307.1L413.3 305.0L413.5 303.0L413.7 300.9L413.9 298.8L414.2 296.8L414.6 294.7L415.0 292.7L415.5 290.7L416.0 288.7L416.6 286.7L417.2 284.8L417.9 282.8L418.6 280.9L419.4 279.0L420.2 277.1L421.1 275.2L422.0 273.4L423.0 271.6L424.0 269.8L425.0 268.1L426.1 266.4L427.3 264.7L428.4 263.0L429.6 261.4L430.9 259.8L432.1 258.3L433.4 256.7L434.8 255.2L436.2 253.8L437.5 252.4L439.0 251.0L440.4 249.7L441.9 248.4L443.4 247.1L444.9 245.9L446.5 244.7L448.0 243.5L449.6 242.4L451.2 241.3L452.8 240.3L454.4 239.3L456.0 238.3L457.7 237.4L459.3 236.5L461.0 235.6L462.7 234.8L464.4 234.0L466.0 233.2L467.7 232.5L469.4 231.8L471.1 231.1L472.8 230.5L474.5 229.9L476.2 229.3L477.9 228.7L479.6 228.2L481.3 227.7L483.0 227.2L484.7 226.8L486.4 226.4L488.1 226.0L489.7 225.6L491.4 225.3L493.1 224.9L494.8 224.6L496.4 224.3L498.1 224.1L499.7 223.8L501.4 223.6L503.0 223.4L504.7 223.2L506.3 223.0L508.0 222.9L509.6 222.7L511.2 222.6L512.9 222.5L514.5 222.3L516.1 222.3L517.8 222.2L519.4 222.1L521.0 222.1L522.6 222.0L524.2 222.0L525.9 222.0L527.5 222.0L529.1 222.0L530.7 222.0L532.3 222.1L534.0 222.1L535.6 222.2L537.2 222.3L538.9 222.4L540.5 222.5L542.1 222.6L543.8 222.7L545.4 222.9L547.1 223.1L548.7 223.2L550.4 223.4L552.1 223.7L553.7 223.9L555.4 224.2L557.1 224.5L558.8 224.8L560.4 225.1L562.1 225.4L563.8 225.8L565.5 226.2L567.2 226.6L568.9 227.1L570.7 227.5L572.4 228.0L574.1 228.6L575.8 229.1L577.5 229.7L579.2 230.3L580.9 231.0L582.6 231.7L584.3 232.4L586.0 233.1L587.7 233.9L589.4 234.7L591.1 235.5L592.8 236.4L594.4 237.3L596.1 238.3L597.7 239.3L599.3 240.3L601.0 241.4L602.6 242.5L604.1 243.6L605.7 244.8L607.2 246.0L608.8 247.3L610.3 248.6L611.7 249.9L613.2 251.2L614.6 252.6L616.0 254.1L617.4 255.6L618.7 257.1L620.0 258.6L621.3 260.2L622.5 261.8L623.7 263.4L624.9 265.1L626.0 266.8L627.1 268.6L628.1 270.3L629.1 272.1L630.0 274.0L630.9 275.8L631.8 277.7L632.6 279.6L633.4 281.5L634.1 283.5L634.8 285.4L635.4 287.4L635.9 289.4L636.5 291.5L636.9 293.5L637.3 295.5L637.7 297.6L638.0 299.7L638.2 301.7L638.4 303.8L638.5 305.9L638.6 308.0L638.6 310.1L638.6 312.2L638.5 314.3L638.3 316.3L638.1 318.4L637.9 320.5L637.6 322.6L637.2 324.6L636.8 326.7L636.3 328.7L635.8 330.7L635.2 332.7L634.6 334.7L633.9 336.6L633.2 338.6L632.4 340.5L631.6 342.4L630.7 344.3L629.8 346.1L628.8 347.9L627.8 349.7L626.8 351.5L625.7 353.2L624.5 354.9L623.4 356.6L622.2 358.2L620.9 359.9L619.7 361.4L618.3 363.0L617.0 364.5L615.6 365.9L614.2 367.4L612.8 368.8L611.4 370.1L609.9 371.5L608.4 372.7L606.9 374.0L605.3 375.2L603.7 376.4L602.2 377.5L600.6 378.6L599.0 379.7L597.3 380.7L595.7 381.7L594.0 382.7L592.4 383.6L590.7 384.5L589.0 385.3L587.3 386.1L585.6 386.9L583.9 387.7L582.2 388.4L580.5 389.1L578.8 389.7L577.1 390.4L575.4 391.0L573.7 391.5L572.0 392.1L570.3 392.6L568.5 393.1L566.8 393.5L565.1 394.0L563.4 394.4L561.7 394.8L560.0 395.1L558.3 395.5L556.6 395.8L555.0 396.1L553.3 396.4L551.6 396.6L549.9 396.9L548.2 397.1L546.6 397.3L544.9 397.5L543.2 397.6L541.6 397.8L539.9 397.9L538.3 398.1L536.6 398.2L535.0 398.3L533.3 398.3L531.7 398.4L530.0 398.5L528.4 398.5L526.8 398.5L525.1 398.5L523.5 398.5L521.8 398.5L520.2 398.5L518.5 398.4L516.9 398.4L515.2 398.3L513.6 398.2L511.9 398.1L510.3 398.0L508.6 397.9L506.9 397.7L505.3 397.5L503.6 397.4L501.9 397.2L500.2 396.9L498.5 396.7L496.9 396.4L495.2 396.2L493.5 395.9L491.8 395.5L490.1 395.2L488.4 394.8L486.6 394.4L484.9 394.0L483.2 393.6L481.5 393.1L479.8 392.6L478.0 392.1L476.3 391.6L474.6 391.0L472.9 390.4L471.2 389.7L469.4 389.1L467.7 388.4L466.0 387.6L464.3 386.9L462.6 386.1L460.9 385.2L459.2 384.4L457.5 383.5L455.9 382.5L454.2 381.6L452.6 380.5L451.0 379.5L449.3 378.4L447.7 377.3L446.2 376.1L444.6 374.9L443.0 373.7L441.5 372.4L440.0 371.1L438.5 369.8L437.1 368.4L435.7 367.0L434.3 365.5L432.9 364.0L431.6 362.5L430.3 360.9L429.0 359.3L427.8 357.7L426.6 356.0L425.4 354.3L424.3 352.6L423.2 350.9L422.2 349.1L421.2 347.3L420.3 345.4L419.4 343.5L418.5 341.7L417.7 339.7L416.9 337.8L416.2 335.8L415.6 333.9L415.0 331.9L414.4 329.8L413.9 327.8L413.4 325.8L413.0 323.7L412.7 321.6L412.4 319.6L412.2 317.5L412.0 315.4L411.8 313.3L411.8 311.2L411.8 309.1L411.8 307.0L411.9 304.9L412.0 302.8L412.2 300.7L412.5 298.6L412.8 296.5L413.2 294.5L413.6 292.4L414.1 290.4L414.6 288.3L415.2 286.3L415.8 284.3L416.5 282.4L417.2 280.4L418.0 278.5L418.8 276.6L419.7 274.7L420.6 272.8L421.6 271.0L422.6 269.2L423.6 267.4L424.7 265.6L425.8 263.9L427.0 262.2L428.2 260.6L429.4 259.0L430.7 257.4L432.0 255.8L433.4 254.3L434.7 252.8L436.1 251.4L437.6 250.0L439.0 248.6L440.5 247.2L442.0 245.9L443.5 244.7L445.1 243.4L446.7 242.3L448.2 241.1L449.8 240.0L451.5 238.9L453.1 237.8L454.7 236.8L456.4 235.9L458.1 234.9L459.7 234.0L461.4 233.2L463.1 232.3L464.8 231.5L466.5 230.8L468.3 230.0L470.0 229.3L471.7 228.6L473.4 228.0L475.1 227.4L476.9 226.8L478.6 226.3L480.3 225.7L482.0 225.2L483.8 224.8L485.5 224.3L487.2 223.9L488.9 223.5L490.6 223.1L492.3 222.8L494.0 222.4L495.7 222.1L497.4 221.8L499.1 221.6L500.8 221.3L502.5 221.1L504.2 220.9L505.9 220.7L507.6 220.5L509.3 220.3L510.9 220.2L512.6 220.1L514.3 220.0L515.9 219.9L517.6 219.8L519.3 219.7L520.9 219.7L522.6 219.6L524.3 219.6L525.9 219.6L527.6 219.6L529.3 219.6L530.9 219.6L532.6 219.7L534.3 219.8L535.9 219.8L537.6 219.9L539.3 220.0L541.0 220.2L542.6 220.3L544.3 220.5L546.0 220.6L547.7 220.8L549.4 221.0L551.1 221.3L552.8 221.5L554.5 221.8L556.2 222.1L557.9 222.4L559.6 222.7L561.4 223.1L563.1 223.5L564.8 223.9L566.5 224.3L568.3 224.8L570.0 225.2L571.7 225.7L573.5 226.3L575.2 226.8L576.9 227.4L578.7 228.1L580.4 228.7L582.1 229.4L583.8 230.1L585.6 230.9L587.3 231.6L589.0 232.5L590.7 233.3L592.4 234.2L594.1 235.1L595.7 236.1L597.4 237.1L599.0 238.1L600.7 239.2L602.3 240.3L603.9 241.4L605.5 242.6L607.1 243.8L608.6 245.1L610.1 246.3L611.6 247.7L613.1 249.0L614.6 250.4L616.0 251.9L617.4 253.3L618.7 254.8L620.1 256.4L621.4 258.0L622.6 259.6L623.9 261.2L625.1 262.9L626.2 264.6L627.3 266.4L628.4 268.1L629.4 269.9L630.4 271.8L631.4 273.6L632.3 275.5L633.1 277.4L633.9 279.3L634.7 281.3L635.4 283.3L636.1 285.2L636.7 287.3L637.2 289.3L637.7 291.3L638.2 293.4L638.6 295.5L638.9 297.5L639.2 299.6L639.5 301.7L639.6 303.8L639.8 305.9L639.8 308.1L639.9 310.2L639.8 312.3L639.7 314.4L639.6 316.5L639.4 318.6L639.1 320.7L638.8 322.8L638.4 324.9L638.0 326.9L637.5 329.0L637.0 331.0L636.4 333.0L635.8 335.0L635.1 337.0L634.4 339.0L633.6 340.9L632.8 342.9L631.9 344.8L631.0 346.6L630.0 348.5L629.0 350.3L628.0 352.1L626.9 353.9L625.7 355.6L624.6 357.3L623.4 358.9L622.1 360.6L620.8 362.2L619.5 363.7L618.2 365.3L616.8 366.8L615.4 368.2L614.0 369.7L612.5 371.0L611.0 372.4L609.5 373.7L608.0 375.0L606.4 376.2L604.9 377.4L603.3 378.6L601.7 379.7L600.0 380.8L598.4 381.9L596.7 382.9L595.1 383.9L593.4 384.8L591.7 385.8L590.0 386.6L588.3 387.5L586.6 388.3L584.9 389.1L583.2 389.8L581.4 390.5L579.7 391.2L578.0 391.9L576.2 392.5L574.5 393.1L572.8 393.6L571.0 394.2L569.3 394.7L567.6 395.2L565.8 395.6L564.1 396.1L562.4 396.5L560.6 396.8L558.9 397.2L557.2 397.5L555.5 397.8L553.8 398.1L552.1 398.4L550.3 398.7L548.6 398.9L546.9 399.1L545.2 399.3L543.5 399.5L541.9 399.7L540.2 399.8L538.5 399.9L536.8 400.0L535.1 400.1L533.4 400.2L531.7 400.3L530.1 400.3L528.4 400.4L526.7 400.4L525.0 400.4L523.3 400.4L521.7 400.4L520.0 400.3L518.3 400.3L516.6 400.2L514.9 400.1L513.3 400.0L511.6 399.9L509.9 399.8L508.2 399.7L506.5 399.5L504.8 399.3L503.1 399.1L501.4 398.9L499.7 398.7L497.9 398.4L496.2 398.1L494.5 397.8L492.8 397.5L491.1 397.2L489.3 396.8L487.6 396.4L485.9 396.0L484.1 395.5L482.4 395.1L480.6 394.6L478.9 394.1L477.1 393.5L475.4 392.9L473.7 392.3L471.9 391.7L470.2 391.0L468.5 390.3L466.7 389.6L465.0 388.8L463.3 388.1L461.6 387.2L459.9 386.4L458.2 385.5L456.5 384.5L454.8 383.6L453.1 382.5L451.5 381.5L449.8 380.4L448.2 379.3L446.6 378.2L445.0 377.0L443.4 375.7L441.9 374.5L440.4 373.2L438.9 371.8L437.4 370.5L435.9 369.0L434.5 367.6L433.1 366.1L431.8 364.6L430.4 363.0L429.1 361.5L427.9 359.8L426.6 358.2L425.4 356.5L424.3 354.8L423.2 353.0L422.1 351.2L421.1 349.4L420.1 347.6L419.1 345.7L418.2 343.8L417.4 341.9L416.6 340.0L415.8 338.0L415.1 336.0L414.5 334.0L413.9 332.0L413.3 330.0L412.8 327.9L412.3 325.8L411.9 323.8L411.6 321.7L411.3 319.6L411.1 317.5L410.9 315.3L410.8 313.2L410.7 311.1L410.7 309.0L410.7 306.9L410.8 304.7L411.0 302.6L411.2 300.5L411.5 298.4L411.8 296.3L412.1 294.2L412.6 292.2L413.0 290.1L413.6 288.0L414.2 286.0L414.8 284.0L415.5 282.0L416.2 280.0L417.0 278.1L417.8 276.2L418.7 274.2L419.6 272.4L420.6 270.5L421.6 268.7L422.6 266.9L423.7 265.1L424.8 263.4L426.0 261.7L427.2 260.0L428.5 258.4L429.7 256.7L431.1 255.2L432.4 253.6L433.8 252.1L435.2 250.6L436.6 249.2L438.1 247.8L439.6 246.4L441.1 245.1L442.6 243.8L444.2 242.6L445.7 241.4L447.3 240.2L448.9 239.0L450.6 237.9L452.2 236.9L453.9 235.8L455.5 234.8L457.2 233.9L458.9 232.9L460.6 232.1L462.3 231.2L464.0 230.4L465.8 229.6L467.5 228.8L469.2 228.1L471.0 227.4L472.7 226.7L474.4 226.1L476.2 225.5L477.9 224.9L479.7 224.4L481.4 223.9L483.2 223.4L484.9 222.9L486.6 222.5L488.4 222.0L490.1 221.7L491.8 221.3L493.6 220.9L495.3 220.6L497.0 220.3L498.8 220.0L500.5 219.8L502.2 219.5L503.9 219.3L505.6 219.1L507.3 218.9L509.0 218.7L510.7 218.6L512.4 218.5L514.1 218.3L515.8 218.2L517.5 218.2L519.2 218.1L520.9 218.0L522.6 218.0L524.3 218.0L526.0 218.0L527.7 218.0L529.4 218.0L531.1 218.0L532.8 218.1L534.5 218.2L536.2 218.2L537.9 218.3L539.6 218.5L541.3 218.6L543.0 218.7L544.7 218.9L546.4 219.1L548.2 219.3L549.9 219.5L551.6 219.8L553.3 220.1L555.1 220.3L556.8 220.7L558.5 221.0L560.3 221.3L562.0 221.7L563.8 222.1L565.5 222.5L567.2 223.0L569.0 223.5L570.7 224.0L572.5 224.5L574.2 225.1L576.0 225.7L577.7 226.3L579.5 226.9L581.2 227.6L583.0 228.3L584.7 229.1L586.4 229.8L588.2 230.7L589.9 231.5L591.6 232.4L593.3 233.3L595.0 234.2L596.7 235.2L598.3 236.3L600.0 237.3L601.6 238.4L603.2 239.5L604.9 240.7L606.4 241.9L608.0 243.1L609.6 244.4L611.1 245.7L612.6 247.1L614.1 248.5L615.5 249.9L616.9 251.4L618.3 252.9L619.7 254.4L621.0 256.0L622.3 257.6L623.6 259.2L624.8 260.9L626.0 262.6L627.1 264.3L628.2 266.1L629.3 267.9L630.3 269.7L631.3 271.5L632.3 273.4L633.2 275.3L634.0 277.2L634.8 279.2L635.6 281.2L636.3 283.1L636.9 285.2L637.5 287.2L638.1 289.2L638.6 291.3L639.0 293.4L639.4 295.5L639.8 297.5L640.0 299.7L640.3 301.8L640.4 303.9L640.6 306.0L640.6 308.1L640.6 310.3L640.6 312.4L640.5 314.5L640.4 316.6L640.1 318.8L639.9 320.9L639.6 323.0L639.2 325.1L638.8 327.1L638.3 329.2L637.8 331.3L637.2 333.3L636.6 335.3L635.9 337.3L635.1 339.3L634.4 341.3L633.5 343.2L632.7 345.1L631.7 347.0L630.8 348.9L629.8 350.7L628.7 352.5L627.6 354.3L626.5 356.0L625.3 357.7L624.1 359.4L622.9 361.1L621.6 362.7L620.3 364.3L618.9 365.8L617.6 367.4L616.2 368.8L614.7 370.3L613.3 371.7L611.8 373.1L610.3 374.4L608.7 375.7L607.2 377.0L605.6 378.2L604.0 379.4L602.4 380.5L600.8 381.6L599.1 382.7L597.4 383.8L595.8 384.8L594.1 385.7L592.4 386.7L590.7 387.6L589.0 388.4L587.3 389.3L585.5 390.1L583.8 390.8L582.1 391.6L580.3 392.3L578.6 393.0L576.8 393.6L575.1 394.2L573.3 394.8L571.6 395.3L569.8 395.9L568.1 396.4L566.3 396.8L564.6 397.3L562.8 397.7L561.1 398.1L559.3 398.5L557.6 398.8L555.8 399.2L554.1 399.5L552.4 399.8L550.6 400.0L548.9 400.3L547.2 400.5L545.5 400.7L543.7 400.9L542.0 401.1L540.3 401.2L538.6 401.3L536.9 401.5L535.2 401.6L533.5 401.7L531.8 401.7L530.1 401.8L528.4 401.8L526.7 401.8L524.9 401.8L523.2 401.8L521.5 401.8L519.8 401.8L518.1 401.7L516.4 401.6L514.7 401.5L513.0 401.4L511.3 401.3L509.6 401.2L507.8 401.0L506.1 400.8L504.4 400.6L502.7 400.4L500.9 400.2L499.2 399.9L497.5 399.7L495.7 399.4L494.0 399.1L492.2 398.7L490.5 398.4L488.8 398.0L487.0 397.6L485.2 397.1L483.5 396.7L481.7 396.2L480.0 395.7L478.2 395.1L476.5 394.5L474.7 393.9L473.0 393.3L471.2 392.7L469.5 392.0L467.7 391.2L466.0 390.5L464.2 389.7L462.5 388.9L460.8 388.0L459.1 387.1L457.4 386.2L455.7 385.3L454.0 384.3L452.3 383.2L450.7 382.2L449.0 381.1L447.4 379.9L445.8 378.7L444.2 377.5L442.6 376.3L441.1 375.0L439.6 373.7L438.1 372.3L436.6 370.9L435.2 369.5L433.7 368.0L432.3 366.5L431.0 365.0L429.6 363.4L428.4 361.8L427.1 360.1L425.9 358.4L424.7 356.7L423.5 355.0L422.4 353.2L421.4 351.4L420.3 349.6L419.3 347.7L418.4 345.9L417.5 344.0L416.7 342.0L415.9 340.1L415.1 338.1L414.4 336.1L413.8 334.1L413.2 332.0L412.6 330.0L412.1 327.9L411.7 325.8L411.3 323.7L410.9 321.6L410.6 319.5L410.4 317.4L410.2 315.3L410.1 313.2L410.1 311.0L410.0 308.9L410.1 306.8L410.2 304.6L410.3 302.5L410.6 300.4L410.8 298.3L411.1 296.1L411.5 294.1L411.9 292.0L412.4 289.9L412.9 287.8L413.5 285.8L414.2 283.8L414.8 281.8L415.6 279.8L416.3 277.8L417.2 275.9L418.0 273.9L419.0 272.1L419.9 270.2L420.9 268.3L422.0 266.5L423.1 264.7L424.2 263.0L425.4 261.3L426.6 259.6L427.8 257.9L429.1 256.3L430.4 254.7L431.8 253.1L433.2 251.6L434.6 250.1L436.0 248.7L437.5 247.3L438.9 245.9L440.5 244.5L442.0 243.2L443.6 242.0L445.1 240.7L446.7 239.5L448.3 238.4L450.0 237.2L451.6 236.2L453.3 235.1L455.0 234.1L456.7 233.1L458.3 232.2L460.1 231.3L461.8 230.4L463.5 229.5L465.2 228.7L467.0 228.0L468.7 227.2L470.5 226.5L472.2 225.8L474.0 225.2L475.7 224.5L477.5 224.0L479.2 223.4L481.0 222.9L482.7 222.4L484.5 221.9L486.3 221.4L488.0 221.0L489.8 220.6L491.5 220.2L493.3 219.8L495.0 219.5L496.8 219.2L498.5 218.9L500.2 218.6L502.0 218.4L503.7 218.1L505.4 217.9L507.2 217.7L508.9 217.6L510.6 217.4L512.4 217.3L514.1 217.1L515.8 217.0L517.5 217.0L519.2 216.9L520.9 216.8L522.7 216.8L524.4 216.8L526.1 216.8L527.8 216.8L529.5 216.8L531.2 216.8L533.0 216.9L534.7 217.0L536.4 217.1L538.1 217.2L539.9 217.3L541.6 217.4L543.3 217.6L545.0 217.8L546.8 218.0L548.5 218.2L550.3 218.4L552.0 218.7L553.7 219.0L555.5 219.3L557.2 219.6L559.0 220.0L560.7 220.3L562.5 220.7L564.3 221.1L566.0 221.6L567.8 222.1L569.5 222.6L571.3 223.1L573.1 223.6L574.8 224.2L576.6 224.8L578.4 225.5L580.1 226.1L581.9 226.8L583.6 227.6L585.4 228.3L587.1 229.1L588.8 230.0L590.6 230.8L592.3 231.7L594.0 232.7L595.7 233.6L597.4 234.6L599.0 235.7L600.7 236.8L602.3 237.9L603.9 239.0L605.5 240.2L607.1 241.4L608.7 242.7L610.2 244.0L611.8 245.3L613.3 246.7L614.7 248.1L616.2 249.6L617.6 251.0L619.0 252.6L620.4 254.1L621.7 255.7L623.0 257.3L624.2 259.0L625.5 260.6L626.6 262.4L627.8 264.1L628.9 265.9L629.9 267.7L631.0 269.5L632.0 271.4L632.9 273.3L633.8 275.2L634.6 277.1L635.4 279.1L636.2 281.1L636.9 283.1L637.5 285.1L638.1 287.2L638.7 289.2L639.2 291.3L639.6 293.4L640.0 295.5L640.3 297.6L640.6 299.7L640.8 301.8L641.0 304.0L641.1 306.1L641.2 308.2L641.2 310.4L641.2 312.5L641.1 314.6L640.9 316.8L640.7 318.9L640.4 321.0L640.1 323.1L639.7 325.2L639.3 327.3L638.8 329.4L638.3 331.5L637.7 333.5L637.1 335.5L636.4 337.5L635.7 339.5L634.9 341.5L634.1 343.5L633.2 345.4L632.3 347.3L631.3 349.2L630.3 351.0L629.3 352.8L628.2 354.6L627.0 356.4L625.9 358.1L624.7 359.8L623.4 361.5L622.1 363.1L620.8 364.7L619.5 366.3L618.1 367.8L616.7 369.3L615.3 370.8L613.8 372.2L612.3 373.6L610.8 374.9L609.3 376.2L607.7 377.5L606.1 378.8L604.5 380.0L602.9 381.1L601.3 382.3L599.6 383.4L598.0 384.4L596.3 385.5L594.6 386.5L592.9 387.4L591.2 388.3L589.5 389.2L587.8 390.1L586.0 390.9L584.3 391.7L582.5 392.4L580.8 393.1L579.0 393.8L577.3 394.5L575.5 395.1L573.8 395.7L572.0 396.3L570.2 396.8L568.5 397.4L566.7 397.9L564.9 398.3L563.2 398.8L561.4 399.2L559.7 399.6L557.9 399.9L556.1 400.3L554.4 400.6L552.6 400.9L550.9 401.2L549.1 401.4L547.4 401.7L545.7 401.9L543.9 402.1L542.2 402.3L540.4 402.4L538.7 402.6L537.0 402.7L535.2 402.8L533.5 402.9L531.8 403.0L530.0 403.0L528.3 403.1L526.6 403.1L524.9 403.1L523.1 403.1L521.4 403.0L519.7 403.0L517.9 402.9L516.2 402.9L514.5 402.8L512.8 402.6L511.0 402.5L509.3 402.4L507.5 402.2L505.8 402.0L504.0 401.8L502.3 401.6L500.6 401.3L498.8 401.1L497.0 400.8L495.3 400.5L493.5 400.1L491.8 399.8L490.0 399.4L488.2 399.0L486.5 398.6L484.7 398.1L482.9 397.6L481.2 397.1L479.4 396.6L477.6 396.0L475.9 395.4L474.1 394.8L472.3 394.2L470.6 393.5L468.8 392.8L467.1 392.0L465.3 391.2L463.6 390.4L461.8 389.6L460.1 388.7L458.4 387.8L456.7 386.9L455.0 385.9L453.3 384.9L451.6 383.8L450.0 382.7L448.4 381.6L446.7 380.4L445.1 379.2L443.5 378.0L442.0 376.7L440.4 375.4L438.9 374.1L437.4 372.7L435.9 371.3L434.5 369.8L433.1 368.3L431.7 366.8L430.3 365.2L429.0 363.6L427.7 362.0L426.5 360.3L425.3 358.6L424.1 356.9L422.9 355.2L421.8 353.4L420.8 351.6L419.8 349.7L418.8 347.8L417.9 346.0L417.0 344.0L416.1 342.1L415.3 340.1L414.6 338.1L413.9 336.1L413.3 334.1L412.7 332.0L412.1 330.0L411.6 327.9L411.2 325.8L410.8 323.7L410.5 321.6L410.2 319.5L410.0 317.3L409.8 315.2L409.7 313.1L409.6 310.9L409.6 308.8L409.6 306.6L409.8 304.5L409.9 302.4L410.1 300.2L410.4 298.1L410.7 296.0L411.1 293.9L411.5 291.8L412.0 289.7L412.5 287.7L413.1 285.6L413.7 283.6L414.4 281.6L415.1 279.6L415.9 277.6L416.7 275.6L417.6 273.7L418.5 271.8L419.5 269.9L420.5 268.1L421.5 266.2L422.6 264.4L423.8 262.7L424.9 260.9L426.1 259.2L427.4 257.6L428.6 255.9L430.0 254.3L431.3 252.7L432.7 251.2L434.1 249.7L435.5 248.2L437.0 246.8L438.5 245.4L440.0 244.1L441.5 242.7L443.1 241.4L444.6 240.2L446.2 239.0L447.8 237.8L449.5 236.7L451.1 235.5L452.8 234.5L454.5 233.4L456.2 232.4L457.9 231.5L459.6 230.6L461.3 229.7L463.0 228.8L464.8 228.0L466.5 227.2L468.3 226.4L470.0 225.7L471.8 225.0L473.5 224.3L475.3 223.7L477.1 223.1L478.8 222.5L480.6 221.9L482.4 221.4L484.1 220.9L485.9 220.4L487.7 220.0L489.4 219.6L491.2 219.2L493.0 218.8L494.7 218.5L496.5 218.1L498.3 217.8L500.0 217.6L501.8 217.3L503.5 217.1L505.3 216.8L507.0 216.6L508.8 216.5L510.5 216.3L512.3 216.1L514.0 216.0L515.8 215.9L517.5 215.8L519.2 215.8L521.0 215.7L522.7 215.7L524.4 215.6L526.2 215.6L527.9 215.6L529.7 215.7L531.4 215.7L533.1 215.8L534.9 215.9L536.6 216.0L538.4 216.1L540.1 216.2L541.8 216.4L543.6 216.5L545.3 216.7L547.1 216.9L548.8 217.2L550.6 217.4L552.4 217.7L554.1 218.0L555.9 218.3L557.7 218.7L559.4 219.0L561.2 219.4L563.0 219.8L564.7 220.3L566.5 220.7L568.3 221.2L570.1 221.7L571.8 222.3L573.6 222.8L575.4 223.4L577.1 224.1L578.9 224.7L580.7 225.4L582.4 226.1L584.2 226.9L585.9 227.7L587.7 228.5L589.4 229.4L591.1 230.2L592.9 231.2L594.6 232.1L596.3 233.1L597.9 234.1L599.6 235.2L601.3 236.3L602.9 237.4L604.5 238.6L606.1 239.8L607.7 241.1L609.3 242.3L610.8 243.7L612.3 245.0L613.8 246.4L615.3 247.8L616.7 249.3L618.2 250.8L619.5 252.3L620.9 253.9L622.2 255.5L623.5 257.1L624.7 258.8L626.0 260.5L627.1 262.2L628.3 264.0L629.4 265.8L630.4 267.6L631.4 269.4L632.4 271.3L633.3 273.2L634.2 275.2L635.1 277.1L635.9 279.1L636.6 281.1L637.3 283.1L637.9 285.1L638.5 287.2L639.1 289.2L639.6 291.3L640.0 293.4L640.4 295.5L640.7 297.6L641.0 299.8L641.2 301.9L641.4 304.0L641.5 306.2L641.6 308.3L641.6 310.5L641.5 312.6L641.4 314.7L641.3 316.9L641.0 319.0L640.8 321.1L640.5 323.3L640.1 325.4L639.7 327.5L639.2 329.6L638.7 331.6L638.1 333.7L637.4 335.7L636.8 337.7L636.0 339.7L635.3 341.7L634.4 343.7L633.6 345.6L632.6 347.5L631.7 349.4L630.7 351.3L629.6 353.1L628.5 354.9L627.4 356.6L626.3 358.4L625.0 360.1L623.8 361.8L622.5 363.4L621.2 365.0L619.9 366.6L618.5 368.2L617.1 369.7L615.7 371.1L614.2 372.6L612.7 374.0L611.2 375.3L609.7 376.7L608.1 378.0L606.5 379.2L604.9 380.4L603.3 381.6L601.7 382.8L600.0 383.9L598.4 385.0L596.7 386.0L595.0 387.0L593.3 388.0L591.6 388.9L589.9 389.8L588.1 390.7L586.4 391.5L584.6 392.3L582.9 393.1L581.1 393.8L579.4 394.5L577.6 395.2L575.8 395.8L574.1 396.5L572.3 397.0L570.5 397.6L568.8 398.1L567.0 398.6L565.2 399.1L563.4 399.6L561.7 400.0L559.9 400.4L558.1 400.8L556.3 401.1L554.6 401.4L552.8 401.7L551.0 402.0L549.3 402.3L547.5 402.5L545.8 402.8L544.0 403.0L542.3 403.1L540.5 403.3L538.8 403.5L537.0 403.6L535.3 403.7L533.5 403.8L531.8 403.9L530.0 403.9L528.3 404.0L526.5 404.0L524.8 404.0L523.0 404.0L521.3 403.9L519.5 403.9L517.8 403.8L516.1 403.7L514.3 403.6L512.6 403.5L510.8 403.4L509.0 403.2L507.3 403.0L505.5 402.9L503.8 402.6L502.0 402.4L500.3 402.1L498.5 401.9L496.7 401.6L494.9 401.2L493.2 400.9L491.4 400.5L489.6 400.1L487.9 399.7L486.1 399.3L484.3 398.8L482.5 398.3L480.7 397.8L479.0 397.2L477.2 396.7L475.4 396.0L473.6 395.4L471.9 394.7L470.1 394.0L468.3 393.3L466.6 392.6L464.8 391.8L463.1 390.9L461.4 390.1L459.6 389.2L457.9 388.2L456.2 387.3L454.5 386.3L452.8 385.2L451.2 384.2L449.5 383.1L447.9 381.9L446.2 380.7L444.6 379.5L443.1 378.3L441.5 377.0L439.9 375.7L438.4 374.3L436.9 372.9L435.5 371.5L434.0 370.0L432.6 368.5L431.2 367.0L429.9 365.4L428.6 363.8L427.3 362.1L426.0 360.5L424.8 358.8L423.7 357.0L422.5 355.3L421.4 353.5L420.4 351.6L419.4 349.8L418.4 347.9L417.5 346.0L416.6 344.1L415.7 342.1L415.0 340.1L414.2 338.1L413.5 336.1L412.9 334.1L412.3 332.0L411.8 329.9L411.3 327.9L410.8 325.8L410.4 323.7L410.1 321.5L409.8 319.4L409.6 317.3L409.5 315.1L409.3 313.0L409.3 310.8L409.3 308.7L409.3 306.5L409.4 304.4L409.6 302.3L409.8 300.1L410.1 298.0L410.4 295.9L410.8 293.8L411.2 291.7L411.7 289.6L412.2 287.5L412.8 285.4L413.4 283.4L414.1 281.4L414.8 279.4L415.6 277.4L416.4 275.4L417.3 273.5L418.2 271.6L419.2 269.7L420.2 267.8L421.2 266.0L422.3 264.2L423.4 262.4L424.6 260.7L425.8 259.0L427.0 257.3L428.3 255.6L429.6 254.0L431.0 252.4L432.3 250.9L433.7 249.4L435.2 247.9L436.6 246.5L438.1 245.1L439.6 243.7L441.2 242.4L442.7 241.1L444.3 239.8L445.9 238.6L447.5 237.4L449.2 236.2L450.8 235.1L452.5 234.0L454.2 233.0L455.8 232.0L457.5 231.0L459.3 230.1L461.0 229.1L462.7 228.3L464.5 227.4L466.2 226.6L468.0 225.9L469.7 225.1L471.5 224.4L473.3 223.7L475.0 223.1L476.8 222.5L478.6 221.9L480.4 221.3L482.1 220.8L483.9 220.3L485.7 219.8L487.5 219.3L489.3 218.9L491.0 218.5L492.8 218.1L494.6 217.8L496.4 217.4L498.1 217.1L499.9 216.8L501.7 216.6L503.4 216.3L505.2 216.1L507.0 215.9L508.7 215.7L510.5 215.5L512.2 215.4L514.0 215.3L515.7 215.1L517.5 215.1L519.3 215.0L521.0 214.9L522.8 214.9L524.5 214.9L526.3 214.9L528.0 214.9L529.8 214.9L531.5 215.0L533.3 215.0L535.0 215.1L536.8 215.2L538.5 215.3L540.3 215.5L542.0 215.6L543.8 215.8L545.6 216.0L547.3 216.2L549.1 216.5L550.9 216.7L552.6 217.0L554.4 217.3L556.2 217.7L558.0 218.0L559.7 218.4L561.5 218.8L563.3 219.2L565.1 219.6L566.9 220.1L568.7 220.6L570.4 221.2L572.2 221.7L574.0 222.3L575.8 222.9L577.5 223.6L579.3 224.2L581.1 224.9L582.9 225.7L584.6 226.4L586.4 227.2L588.1 228.1L589.8 228.9L591.6 229.8L593.3 230.8L595.0 231.8L596.7 232.8L598.4 233.8L600.1 234.9L601.7 236.0L603.3 237.1L605.0 238.3L606.6 239.5L608.2 240.8L609.7 242.1L611.3 243.4L612.8 244.8L614.3 246.2L615.7 247.6L617.2 249.1L618.6 250.6L620.0 252.2L621.3 253.8L622.6 255.4L623.9 257.0L625.1 258.7L626.4 260.4L627.5 262.1L628.7 263.9L629.8 265.7L630.8 267.5L631.8 269.4L632.8 271.3L633.7 273.2L634.6 275.1L635.4 277.1L636.2 279.1L636.9 281.1L637.6 283.1L638.3 285.1L638.9 287.2L639.4 289.3L639.9 291.4L640.3 293.5L640.7 295.6L641.0 297.7L641.3 299.8L641.5 302.0L641.7 304.1L641.8 306.3L641.9 308.4L641.9 310.6L641.8 312.7L641.7 314.9L641.6 317.0L641.3 319.1L641.1 321.3L640.8 323.4L640.4 325.5L640.0 327.6L639.5 329.7L638.9 331.8L638.4 333.8L637.7 335.9L637.0 337.9L636.3 339.9L635.5 341.9L634.7 343.9L633.8 345.8L632.9 347.7L632.0 349.6L631.0 351.5L629.9 353.3L628.8 355.1L627.7 356.9L626.5 358.6L625.3 360.3L624.1 362.0L622.8 363.7L621.5 365.3L620.2 366.9L618.8 368.4L617.4 370.0L616.0 371.4L614.5 372.9L613.0 374.3L611.5 375.7L610.0 377.0L608.4 378.3L606.8 379.6L605.2 380.8L603.6 382.0L602.0 383.2L600.3 384.3L598.6 385.4L597.0 386.4L595.3 387.4L593.6 388.4L591.9 389.4L590.1 390.3L588.4 391.1L586.6 392.0L584.9 392.8L583.1 393.6L581.4 394.3L579.6 395.0L577.8 395.7L576.1 396.4L574.3 397.0L572.5 397.6L570.7 398.1L568.9 398.7L567.2 399.2L565.4 399.7L563.6 400.1L561.8 400.6L560.0 401.0L558.2 401.4L556.5 401.7L554.7 402.1L552.9 402.4L551.1 402.7L549.4 402.9L547.6 403.2L545.8 403.4L544.1 403.6L542.3 403.8L540.5 404.0L538.8 404.1L537.0 404.2L535.2 404.4L533.5 404.4L531.7 404.5L530.0 404.6L528.2 404.6L526.5 404.6L524.7 404.6L522.9 404.6L521.2 404.6L519.4 404.5L517.7 404.5L515.9 404.4L514.2 404.3L512.4 404.1L510.6 404.0L508.9 403.8L507.1 403.7L505.3 403.5L503.6 403.2L501.8 403.0L500.0 402.7L498.2 402.4L496.5 402.1L494.7 401.8L492.9 401.4L491.1 401.1L489.3 400.7L487.6 400.2L485.8 399.8L484.0 399.3L482.2 398.8L480.4 398.3L478.6 397.7L476.8 397.1L475.1 396.5L473.3 395.8L471.5 395.2L469.7 394.5L468.0 393.7L466.2 392.9L464.5 392.1L462.7 391.3L461.0 390.4L459.2 389.5L457.5 388.6L455.8 387.6L454.1 386.6L452.4 385.5L450.8 384.4L449.1 383.3L447.5 382.2L445.8 381.0L444.2 379.8L442.7 378.5L441.1 377.2L439.6 375.9L438.0 374.5L436.6 373.1L435.1 371.6L433.7 370.1L432.2 368.6L430.9 367.1L429.5 365.5L428.2 363.9L426.9 362.2L425.7 360.5L424.5 358.8L423.3 357.1L422.2 355.3L421.1 353.5L420.0 351.7L419.0 349.8L418.0 347.9L417.1 346.0L416.3 344.1L415.4 342.1L414.6 340.1L413.9 338.1L413.2 336.1L412.6 334.0L412.0 332.0L411.5 329.9L411.0 327.8L410.5 325.7L410.2 323.6L409.8 321.5L409.6 319.3L409.3 317.2L409.2 315.1L409.1 312.9L409.0 310.8L409.0 308.6L409.1 306.4L409.2 304.3L409.3 302.1L409.5 300.0L409.8 297.9L410.1 295.7L410.5 293.6L410.9 291.5L411.4 289.4L411.9 287.4L412.5 285.3L413.2 283.2L413.8 281.2L414.6 279.2L415.3 277.2L416.2 275.3L417.0 273.3L418.0 271.4L418.9 269.5L419.9 267.6L421.0 265.8L422.1 264.0L423.2 262.2L424.4 260.5L425.6 258.8L426.8 257.1L428.1 255.4L429.4 253.8L430.7 252.2L432.1 250.6L433.5 249.1L434.9 247.6L436.4 246.2L437.9 244.8L439.4 243.4L440.9 242.1L442.5 240.8L444.1 239.5L445.7 238.3L447.3 237.1L448.9 235.9L450.6 234.8L452.3 233.7L453.9 232.6L455.6 231.6L457.3 230.6L459.1 229.7L460.8 228.8L462.5 227.9L464.3 227.0L466.0 226.2L467.8 225.4L469.6 224.7L471.3 224.0L473.1 223.3L474.9 222.6L476.7 222.0L478.4 221.4L480.2 220.8L482.0 220.3L483.8 219.8L485.6 219.3L487.4 218.9L489.2 218.4L490.9 218.0L492.7 217.6L494.5 217.3L496.3 216.9L498.1 216.6L499.8 216.3L501.6 216.1L503.4 215.8L505.2 215.6L506.9 215.4L508.7 215.2L510.5 215.0L512.2 214.9L514.0 214.7L515.8 214.6L517.5 214.5L519.3 214.5L521.1 214.4L522.8 214.4L524.6 214.3L526.3 214.3L528.1 214.4L529.9 214.4L531.6 214.4L533.4 214.5L535.1 214.6L536.9 214.7L538.7 214.8L540.4 215.0L542.2 215.1L544.0 215.3L545.8 215.5L547.5 215.8L549.3 216.0L551.1 216.3L552.9 216.6L554.6 216.9L556.4 217.2L558.2 217.6L560.0 217.9L561.8 218.4L563.6 218.8L565.4 219.2L567.1 219.7L568.9 220.2L570.7 220.8L572.5 221.3L574.3 221.9L576.1 222.6L577.8 223.2L579.6 223.9L581.4 224.6L583.2 225.4L584.9 226.1L586.7 226.9L588.4 227.8L590.2 228.7L591.9 229.6L593.6 230.5L595.3 231.5L597.0 232.5L598.7 233.6L600.4 234.7L602.0 235.8L603.7 236.9L605.3 238.1L606.9 239.4L608.5 240.6L610.1 241.9L611.6 243.3L613.1 244.7L614.6 246.1L616.1 247.5L617.5 249.0L618.9 250.5L620.3 252.1L621.6 253.7L622.9 255.3L624.2 256.9L625.5 258.6L626.7 260.3L627.8 262.1L629.0 263.9L630.1 265.7L631.1 267.5L632.1 269.4L633.1 271.3L634.0 273.2L634.9 275.1L635.7 277.1L636.5 279.1L637.2 281.1L637.9 283.1L638.6 285.2L639.1 287.2L639.7 289.3L640.2 291.4L640.6 293.5L641.0 295.6L641.3 297.8L641.6 299.9L641.8 302.0L641.9 304.2L642.1 306.3L642.1 308.5L642.1 310.6L642.1 312.8L642.0 315.0L641.8 317.1L641.6 319.2L641.3 321.4L641.0 323.5L640.6 325.6L640.2 327.7L639.7 329.8L639.2 331.9L638.6 334.0L638.0 336.0L637.3 338.1L636.5 340.1L635.8 342.0L634.9 344.0L634.1 346.0L633.1 347.9L632.2 349.8L631.2 351.6L630.1 353.5L629.0 355.3L627.9 357.1L626.7 358.8L625.5 360.5L624.3 362.2L623.0 363.9L621.7 365.5L620.4 367.1L619.0 368.7L617.6 370.2L616.1 371.7L614.7 373.1L613.2 374.5L611.7 375.9L610.1 377.3L608.6 378.6L607.0 379.8L605.4 381.1L603.8 382.3L602.1 383.4L600.5 384.6L598.8 385.7L597.1 386.7L595.4 387.7L593.7 388.7L592.0 389.7L590.3 390.6L588.5 391.5L586.8 392.3L585.0 393.1L583.3 393.9L581.5 394.7L579.7 395.4L578.0 396.1L576.2 396.7L574.4 397.4L572.6 398.0L570.8 398.5L569.0 399.1L567.2 399.6L565.5 400.1L563.7 400.5L561.9 401.0L560.1 401.4L558.3 401.8L556.5 402.1L554.7 402.5L553.0 402.8L551.2 403.1L549.4 403.3L547.6 403.6L545.8 403.8L544.1 404.0L542.3 404.2L540.5 404.4L538.7 404.5L537.0 404.7L535.2 404.8L533.4 404.9L531.7 404.9L529.9 405.0L528.2 405.0L526.4 405.0L524.6 405.1L522.9 405.0L521.1 405.0L519.3 404.9L517.6 404.9L515.8 404.8L514.0 404.7L512.3 404.5L510.5 404.4L508.7 404.2L506.9 404.0L505.2 403.8L503.4 403.6L501.6 403.4L499.8 403.1L498.0 402.8L496.3 402.5L494.5 402.2L492.7 401.8L490.9 401.4L489.1 401.0L487.3 400.6L485.5 400.1L483.7 399.6L482.0 399.1L480.2 398.6L478.4 398.0L476.6 397.4L474.8 396.8L473.0 396.1L471.3 395.4L469.5 394.7L467.7 394.0L465.9 393.2L464.2 392.4L462.4 391.5L460.7 390.6L459.0 389.7L457.2 388.8L455.5 387.8L453.8 386.8L452.1 385.7L450.5 384.6L448.8 383.5L447.2 382.3L445.6 381.1L444.0 379.9L442.4 378.6L440.8 377.3L439.3 376.0L437.8 374.6L436.3 373.2L434.8 371.7L433.4 370.2L432.0 368.7L430.6 367.2L429.2 365.6L427.9 363.9L426.6 362.3L425.4 360.6L424.2 358.9L423.0 357.1L421.9 355.3L420.8 353.5L419.8 351.7L418.7 349.8L417.8 347.9L416.9 346.0L416.0 344.1L415.2 342.1L414.4 340.1L413.6 338.1L413.0 336.1L412.3 334.0L411.7 331.9L411.2 329.9L410.7 327.8L410.3 325.7L409.9 323.5L409.6 321.4L409.3 319.3L409.1 317.1L409.0 315.0L408.8 312.8L408.8 310.7L408.8 308.5L408.8 306.3L408.9 304.2L409.1 302.0L409.3 299.9L409.6 297.8L409.9 295.6L410.3 293.5L410.7 291.4L411.2 289.3L411.7 287.2L412.3 285.2L413.0 283.1L413.6 281.1L414.4 279.1L415.2 277.1L416.0 275.1L416.9 273.2L417.8 271.2L418.7 269.3L419.7 267.5L420.8 265.6L421.9 263.8L423.0 262.0L424.2 260.3L425.4 258.6L426.6 256.9L427.9 255.2L429.2 253.6L430.6 252.0L431.9 250.4L433.4 248.9L434.8 247.4L436.3 246.0L437.7 244.6L439.3 243.2L440.8 241.8L442.4 240.5L443.9 239.2L445.5 238.0L447.2 236.8L448.8 235.6L450.5 234.5L452.1 233.4L453.8 232.4L455.5 231.3L457.2 230.4L458.9 229.4L460.7 228.5L462.4 227.6L464.2 226.8L465.9 225.9L467.7 225.2L469.5 224.4L471.2 223.7L473.0 223.0L474.8 222.3L476.6 221.7L478.4 221.1L480.2 220.5L481.9 220.0L483.7 219.5L485.5 219.0L487.3 218.5L489.1 218.1L490.9 217.7L492.7 217.3L494.5 216.9L496.3 216.6L498.0 216.3L499.8 216.0L501.6 215.7L503.4 215.5L505.2 215.2L506.9 215.0L508.7 214.8L510.5 214.7L512.3 214.5L514.0 214.4L515.8 214.3L517.6 214.2L519.3 214.1L521.1 214.0L522.9 214.0L524.7 214.0L526.4 214.0L528.2 214.0L530.0 214.0L531.7 214.1L533.5 214.2L535.3 214.3L537.0 214.4L538.8 214.5L540.6 214.6L542.3 214.8L544.1 215.0L545.9 215.2L547.7 215.4L549.5 215.7L551.2 216.0L553.0 216.3L554.8 216.6L556.6 216.9L558.4 217.3L560.2 217.7L562.0 218.1L563.8 218.5L565.6 219.0L567.4 219.5L569.1 220.0L570.9 220.5L572.7 221.1L574.5 221.7L576.3 222.3L578.1 223.0L579.9 223.7L581.6 224.4L583.4 225.1L585.2 225.9L586.9 226.7L588.7 227.6L590.4 228.5L592.2 229.4L593.9 230.4L595.6 231.3L597.3 232.4L599.0 233.4L600.6 234.5L602.3 235.7L603.9 236.8L605.6 238.0L607.2 239.3L608.8 240.5L610.3 241.8L611.9 243.2L613.4 244.6L614.9 246.0L616.3 247.4L617.8 248.9L619.2 250.5L620.5 252.0L621.9 253.6L623.2 255.2L624.5 256.9L625.7 258.6L626.9 260.3L628.1 262.1L629.2 263.9L630.3 265.7L631.4 267.5L632.4 269.4L633.3 271.3L634.2 273.2L635.1 275.2L635.9 277.1L636.7 279.1L637.5 281.1L638.1 283.2L638.8 285.2L639.4 287.3L639.9 289.4L640.4 291.5L640.8 293.6L641.2 295.7L641.5 297.8L641.8 300.0L642.0 302.1L642.1 304.3L642.3 306.4L642.3 308.6L642.3 310.7L642.3 312.9L642.1 315.1L642.0 317.2L641.8 319.4L641.5 321.5L641.2 323.6L640.8 325.7L640.4 327.9L639.9 330.0L639.3 332.0L638.8 334.1L638.1 336.2L637.4 338.2L636.7 340.2L635.9 342.2L635.1 344.2L634.2 346.1L633.3 348.0L632.3 349.9L631.3 351.8L630.3 353.6L629.2 355.5L628.0 357.2L626.9 359.0L625.7 360.7L624.4 362.4L623.1 364.1L621.8 365.7L620.5 367.3L619.1 368.8L617.7 370.4L616.3 371.9L614.8 373.3L613.3 374.7L611.8 376.1L610.3 377.5L608.7 378.8L607.1 380.0L605.5 381.3L603.9 382.5L602.2 383.7L600.6 384.8L598.9 385.9L597.2 386.9L595.5 388.0L593.8 388.9L592.1 389.9L590.4 390.8L588.6 391.7L586.9 392.6L585.1 393.4L583.3 394.2L581.6 394.9L579.8 395.6L578.0 396.3L576.2 397.0L574.4 397.6L572.7 398.2L570.9 398.8L569.1 399.3L567.3 399.8L565.5 400.3L563.7 400.8L561.9 401.2L560.1 401.6L558.3 402.0L556.5 402.4L554.7 402.7L553.0 403.0L551.2 403.3L549.4 403.6L547.6 403.9L545.8 404.1L544.0 404.3L542.3 404.5L540.5 404.7L538.7 404.8L536.9 404.9L535.2 405.1L533.4 405.1L531.6 405.2L529.9 405.3L528.1 405.3L526.3 405.3L524.5 405.3L522.8 405.3L521.0 405.3L519.2 405.2L517.5 405.1L515.7 405.0L513.9 404.9L512.1 404.8L510.4 404.7L508.6 404.5L506.8 404.3L505.0 404.1L503.3 403.9L501.5 403.6L499.7 403.3L497.9 403.0L496.1 402.7L494.3 402.4L492.5 402.0L490.7 401.6L488.9 401.2L487.2 400.8L485.4 400.3L483.6 399.8L481.8 399.3L480.0 398.8L478.2 398.2L476.4 397.6L474.6 397.0L472.8 396.3L471.0 395.6L469.3 394.9L467.5 394.1L465.7 393.3L464.0 392.5L462.2 391.7L460.5 390.8L458.7 389.9L457.0 388.9L455.3 387.9L453.6 386.9L451.9 385.8L450.2 384.7L448.6 383.6L447.0 382.4L445.3 381.2L443.7 380.0L442.1 378.7L440.6 377.4L439.0 376.0L437.5 374.6L436.0 373.2L434.6 371.8L433.1 370.3L431.7 368.8L430.4 367.2L429.0 365.6L427.7 364.0L426.4 362.3L425.2 360.6L424.0 358.9L422.8 357.1L421.7 355.3L420.6 353.5L419.5 351.7L418.5 349.8L417.6 347.9L416.6 346.0L415.8 344.0L414.9 342.1L414.2 340.1L413.4 338.0L412.8 336.0L412.1 334.0L411.5 331.9L411.0 329.8L410.5 327.7L410.1 325.6L409.7 323.5L409.4 321.3L409.1 319.2L408.9 317.0L408.8 314.9L408.7 312.7L408.6 310.6L408.6 308.4L408.7 306.2L408.8 304.1L408.9 301.9L409.2 299.8L409.4 297.6L409.8 295.5L410.1 293.4L410.6 291.3L411.1 289.2L411.6 287.1L412.2 285.0L412.8 283.0L413.5 280.9L414.2 278.9L415.0 276.9L415.8 275.0L416.7 273.0L417.6 271.1L418.6 269.2L419.6 267.3L420.7 265.5L421.8 263.7L422.9 261.9L424.1 260.1L425.3 258.4L426.5 256.7L427.8 255.1L429.1 253.4L430.5 251.8L431.8 250.3L433.3 248.8L434.7 247.3L436.2 245.8L437.7 244.4L439.2 243.0L440.7 241.7L442.3 240.3L443.9 239.1L445.5 237.8L447.1 236.6L448.7 235.5L450.4 234.3L452.1 233.2L453.8 232.2L455.5 231.2L457.2 230.2L458.9 229.2L460.6 228.3L462.4 227.4L464.1 226.6L465.9 225.8L467.7 225.0L469.4 224.2L471.2 223.5L473.0 222.8L474.8 222.1L476.6 221.5L478.4 220.9L480.1 220.3L481.9 219.8L483.7 219.3L485.5 218.8L487.3 218.3L489.1 217.9L490.9 217.5L492.7 217.1L494.5 216.7L496.3 216.4L498.1 216.1L499.9 215.8L501.6 215.5L503.4 215.3L505.2 215.0L507.0 214.8L508.8 214.6L510.5 214.5L512.3 214.3L514.1 214.2L515.9 214.1L517.6 214.0L519.4 213.9L521.2 213.9L523.0 213.8L524.7 213.8L526.5 213.8L528.3 213.8L530.0 213.9L531.8 213.9L533.6 214.0L535.4 214.1L537.1 214.2L538.9 214.3L540.7 214.5L542.5 214.7L544.2 214.9L546.0 215.1L547.8 215.3L549.6 215.5L551.4 215.8L553.2 216.1L554.9 216.4L556.7 216.8L558.5 217.1L560.3 217.5L562.1 217.9L563.9 218.4L565.7 218.8L567.5 219.3L569.3 219.9L571.1 220.4L572.9 221.0L574.7 221.6L576.5 222.2L578.2 222.9L580.0 223.6L581.8 224.3L583.6 225.0L585.3 225.8L587.1 226.7L588.9 227.5L590.6 228.4L592.3 229.3L594.1 230.3L595.8 231.3L597.5 232.3L599.2 233.4L600.8 234.5L602.5 235.6L604.1 236.8L605.8 238.0L607.4 239.2L608.9 240.5L610.5 241.8L612.0 243.2L613.6 244.5L615.1 246.0L616.5 247.4L618.0 248.9L619.4 250.4L620.7 252.0L622.1 253.6L623.4 255.2L624.7 256.9L625.9 258.6L627.1 260.3L628.3 262.1L629.4 263.9L630.5 265.7L631.6 267.5L632.6 269.4L633.5 271.3L634.4 273.2L635.3 275.2L636.1 277.2L636.9 279.2L637.7 281.2L638.3 283.2L639.0 285.3L639.5 287.3L640.1 289.4L640.6 291.5L641.0 293.6L641.4 295.8L641.7 297.9L641.9 300.1L642.2 302.2L642.3 304.4L642.4 306.5L642.5 308.7L642.5 310.8L642.4 313.0L642.3 315.2L642.1 317.3L641.9 319.5L641.6 321.6L641.3 323.7L640.9 325.9L640.5 328.0L640.0 330.1L639.5 332.2L638.9 334.2L638.2 336.3L637.6 338.3L636.8 340.3L636.0 342.3L635.2 344.3L634.3 346.2L633.4 348.2L632.4 350.1L631.4 351.9L630.4 353.8L629.3 355.6L628.1 357.4L627.0 359.1L625.8 360.9L624.5 362.6L623.2 364.2L621.9 365.8L620.6 367.4L619.2 369.0L617.8 370.5L616.3 372.0L614.9 373.5L613.4 374.9L611.8 376.3L610.3 377.6L608.7 378.9L607.1 380.2L605.5 381.4L603.9 382.6L602.3 383.8L600.6 384.9L598.9 386.0L597.2 387.1L595.5 388.1L593.8 389.1L592.1 390.0L590.4 391.0L588.6 391.8L586.9 392.7L585.1 393.5L583.3 394.3L581.6 395.0L579.8 395.8L578.0 396.5L576.2 397.1L574.4 397.7L572.6 398.3L570.8 398.9L569.0 399.5L567.2 400.0L565.5 400.5L563.7 400.9L561.9 401.4L560.1 401.8L558.3 402.1L556.5 402.5L554.7 402.8L552.9 403.2L551.1 403.5L549.3 403.7L547.5 404.0L545.8 404.2L544.0 404.4L542.2 404.6L540.4 404.8L538.6 404.9L536.9 405.0L535.1 405.2L533.3 405.2L531.6 405.3L529.8 405.4L528.0 405.4L526.2 405.4L524.5 405.4L522.7 405.4L520.9 405.4L519.2 405.3L517.4 405.2L515.6 405.1L513.8 405.0L512.1 404.9L510.3 404.7L508.5 404.6L506.7 404.4L504.9 404.2L503.2 403.9L501.4 403.7L499.6 403.4L497.8 403.1L496.0 402.8L494.2 402.5L492.4 402.1L490.6 401.7L488.8 401.3L487.0 400.8L485.2 400.4L483.4 399.9L481.6 399.4L479.9 398.8L478.1 398.3L476.3 397.6L474.5 397.0L472.7 396.4L470.9 395.7L469.1 394.9L467.4 394.2L465.6 393.4L463.8 392.6L462.1 391.7L460.3 390.8L458.6 389.9L456.9 388.9L455.2 387.9L453.5 386.9L451.8 385.9L450.1 384.8L448.4 383.6L446.8 382.5L445.2 381.2L443.6 380.0L442.0 378.7L440.4 377.4L438.9 376.1L437.4 374.7L435.9 373.2L434.4 371.8L433.0 370.3L431.6 368.8L430.2 367.2L428.8 365.6L427.5 364.0L426.2 362.3L425.0 360.6L423.8 358.9L422.6 357.1L421.5 355.3L420.4 353.5L419.4 351.6L418.4 349.8L417.4 347.9L416.5 345.9L415.6 344.0L414.8 342.0L414.0 340.0L413.3 338.0L412.6 336.0L412.0 333.9L411.4 331.8L410.8 329.7L410.4 327.6L409.9 325.5L409.6 323.4L409.2 321.3L409.0 319.1L408.8 317.0L408.6 314.8L408.5 312.6L408.5 310.5L408.5 308.3L408.5 306.2L408.6 304.0L408.8 301.8L409.0 299.7L409.3 297.5L409.6 295.4L410.0 293.3L410.4 291.2L410.9 289.1L411.5 287.0L412.1 284.9L412.7 282.9L413.4 280.8L414.1 278.8L414.9 276.8L415.8 274.8L416.6 272.9L417.6 271.0L418.5 269.1L419.5 267.2L420.6 265.4L421.7 263.5L422.8 261.8L424.0 260.0L425.2 258.3L426.5 256.6L427.8 254.9L429.1 253.3L430.4 251.7L431.8 250.1L433.2 248.6L434.7 247.1L436.1 245.7L437.6 244.3L439.1 242.9L440.7 241.5L442.3 240.2L443.8 238.9L445.5 237.7L447.1 236.5L448.7 235.3L450.4 234.2L452.1 233.1L453.8 232.1L455.5 231.0L457.2 230.1L458.9 229.1L460.6 228.2L462.4 227.3L464.2 226.5L465.9 225.6L467.7 224.9L469.5 224.1L471.2 223.4L473.0 222.7L474.8 222.0L476.6 221.4L478.4 220.8L480.2 220.2L482.0 219.7L483.8 219.2L485.6 218.7L487.4 218.2L489.2 217.8L491.0 217.4L492.8 217.0L494.5 216.6L496.3 216.3L498.1 216.0L499.9 215.7L501.7 215.4L503.5 215.2L505.3 215.0L507.1 214.7L508.8 214.6L510.6 214.4L512.4 214.2L514.2 214.1L515.9 214.0L517.7 213.9L519.5 213.8L521.3 213.8L523.0 213.8L524.8 213.7L526.6 213.7L528.3 213.8L530.1 213.8L531.9 213.9L533.7 213.9L535.4 214.0L537.2 214.1L539.0 214.3L540.8 214.4L542.5 214.6L544.3 214.8L546.1 215.0L547.9 215.2L549.7 215.5L551.5 215.8L553.3 216.1L555.0 216.4L556.8 216.7L558.6 217.1L560.4 217.5L562.2 217.9L564.0 218.3L565.8 218.8L567.6 219.3L569.4 219.8L571.2 220.3L573.0 220.9L574.8 221.5L576.6 222.2L578.4 222.8L580.1 223.5L581.9 224.2L583.7 225.0L585.5 225.8L587.2 226.6L589.0 227.5L590.7 228.4L592.5 229.3L594.2 230.2L595.9 231.2L597.6 232.3L599.3 233.3L601.0 234.4L602.6 235.6L604.3 236.7L605.9 237.9L607.5 239.2L609.1 240.5L610.7 241.8L612.2 243.1L613.7 244.5L615.2 246.0L616.7 247.4L618.1 248.9L619.5 250.4L620.9 252.0L622.2 253.6L623.6 255.2L624.8 256.9L626.1 258.6L627.3 260.3L628.5 262.1L629.6 263.9L630.7 265.7L631.7 267.6L632.7 269.5L633.7 271.4L634.6 273.3L635.5 275.2L636.3 277.2L637.1 279.2L637.8 281.2L638.5 283.3L639.1 285.3L639.7 287.4L640.2 289.5L640.7 291.6L641.1 293.7L641.5 295.8L641.8 298.0L642.1 300.1L642.3 302.3L642.5 304.4L642.6 306.6L642.6 308.8L642.6 310.9L642.5 313.1L642.4 315.3L642.3 317.4L642.0 319.6L641.8 321.7L641.4 323.8L641.0 326.0L640.6 328.1L640.1 330.2L639.6 332.3L639.0 334.3L638.3 336.4L637.7 338.4L636.9 340.5L636.1 342.4L635.3 344.4L634.4 346.4L633.5 348.3L632.5 350.2L631.5 352.1L630.4 353.9L629.3 355.7L628.2 357.5L627.0 359.3L625.8 361.0L624.6 362.7L623.3 364.3L622.0 366.0L620.6 367.6L619.2 369.1L617.8 370.6L616.4 372.1L614.9 373.6L613.4 375.0L611.9 376.4L610.3 377.7L608.7 379.0L607.2 380.3L605.5 381.6L603.9 382.8L602.3 383.9L600.6 385.0L598.9 386.1L597.2 387.2L595.5 388.2L593.8 389.2L592.1 390.2L590.3 391.1L588.6 392.0L586.8 392.8L585.1 393.6L583.3 394.4L581.5 395.1L579.7 395.9L578.0 396.6L576.2 397.2L574.4 397.8L572.6 398.4L570.8 399.0L569.0 399.5L567.2 400.1L565.4 400.5L563.6 401.0L561.8 401.4L560.0 401.8L558.2 402.2L556.4 402.6L554.6 402.9L552.8 403.2L551.1 403.5L549.3 403.8L547.5 404.1L545.7 404.3L543.9 404.5L542.1 404.7L540.4 404.8L538.6 405.0L536.8 405.1L535.0 405.2L533.3 405.3L531.5 405.4L529.7 405.4L527.9 405.5L526.2 405.5L524.4 405.5L522.6 405.5L520.8 405.4L519.1 405.4L517.3 405.3L515.5 405.2L513.7 405.1L512.0 405.0L510.2 404.8L508.4 404.6L506.6 404.4L504.8 404.2L503.1 404.0L501.3 403.7L499.5 403.5L497.7 403.2L495.9 402.9L494.1 402.5L492.3 402.1L490.5 401.8L488.7 401.3L486.9 400.9L485.1 400.4L483.3 399.9L481.5 399.4L479.7 398.9L477.9 398.3L476.2 397.7L474.4 397.1L472.6 396.4L470.8 395.7L469.0 395.0L467.2 394.2L465.5 393.4L463.7 392.6L461.9 391.7L460.2 390.9L458.5 389.9L456.7 389.0L455.0 388.0L453.3 386.9L451.6 385.9L450.0 384.8L448.3 383.6L446.6 382.5L445.0 381.3L443.4 380.0L441.8 378.7L440.3 377.4L438.7 376.1L437.2 374.7L435.7 373.2L434.2 371.8L432.8 370.3L431.4 368.7L430.0 367.2L428.7 365.6L427.4 363.9L426.1 362.3L424.8 360.6L423.6 358.8L422.5 357.1L421.3 355.3L420.2 353.5L419.2 351.6L418.2 349.7L417.2 347.8L416.3 345.9L415.4 343.9L414.6 342.0L413.8 340.0L413.1 337.9L412.4 335.9L411.8 333.8L411.2 331.8L410.7 329.7L410.2 327.6L409.8 325.4L409.4 323.3L409.1 321.2L408.8 319.0L408.6 316.9L408.5 314.7L408.4 312.5L408.3 310.4L408.3 308.2L408.4 306.1L408.5 303.9L408.7 301.7L408.9 299.6L409.2 297.4L409.5 295.3L409.9 293.2L410.3 291.1L410.8 289.0L411.4 286.9L412.0 284.8L412.6 282.7L413.3 280.7L414.0 278.7L414.8 276.7L415.7 274.7L416.6 272.8L417.5 270.8L418.5 268.9L419.5 267.1L420.5 265.2L421.6 263.4L422.8 261.6L424.0 259.9L425.2 258.1L426.4 256.5L427.7 254.8L429.0 253.2L430.4 251.6L431.8 250.0L433.2 248.5L434.6 247.0L436.1 245.6L437.6 244.1L439.1 242.8L440.7 241.4L442.3 240.1L443.8 238.8L445.5 237.6L447.1 236.4L448.7 235.2L450.4 234.1L452.1 233.0L453.8 232.0L455.5 230.9L457.2 229.9L458.9 229.0L460.7 228.1L462.4 227.2L464.2 226.4L465.9 225.5L467.7 224.8L469.5 224.0L471.3 223.3L473.1 222.6L474.8 221.9L476.6 221.3L478.4 220.7L480.2 220.2L482.0 219.6L483.8 219.1L485.6 218.6L487.4 218.2L489.2 217.7L491.0 217.3L492.8 216.9L494.6 216.6L496.4 216.2L498.2 215.9L500.0 215.6L501.8 215.4L503.5 215.1L505.3 214.9L507.1 214.7L508.9 214.5L510.7 214.3L512.5 214.2L514.2 214.1L516.0 214.0L517.8 213.9L519.6 213.8L521.3 213.7L523.1 213.7L524.9 213.7L526.7 213.7L528.4 213.7L530.2 213.8L532.0 213.8L533.7 213.9L535.5 214.0L537.3 214.1L539.1 214.2L540.9 214.4L542.6 214.5L544.4 214.7L546.2 215.0L548.0 215.2L549.8 215.4L551.6 215.7L553.4 216.0L555.1 216.3L556.9 216.7L558.7 217.0L560.5 217.4L562.3 217.8L564.1 218.3L565.9 218.8L567.7 219.2L569.5 219.8L571.3 220.3L573.1 220.9L574.9 221.5L576.7 222.1L578.5 222.8L580.3 223.5L582.0 224.2L583.8 225.0L585.6 225.8L587.4 226.6L589.1 227.4L590.9 228.3L592.6 229.3L594.3 230.2L596.0 231.2L597.7 232.2L599.4 233.3L601.1 234.4L602.8 235.6L604.4 236.7L606.0 237.9L607.7 239.2L609.2 240.5L610.8 241.8L612.3 243.1L613.9 244.5L615.4 246.0L616.8 247.4L618.3 248.9L619.7 250.5L621.0 252.0L622.4 253.6L623.7 255.3L625.0 256.9L626.2 258.6L627.4 260.4L628.6 262.1L629.7 263.9L630.8 265.8L631.9 267.6L632.9 269.5L633.8 271.4L634.8 273.3L635.6 275.3L636.4 277.3L637.2 279.3L638.0 281.3L638.6 283.3L639.3 285.4L639.8 287.5L640.4 289.6L640.8 291.7L641.3 293.8L641.6 295.9L642.0 298.1L642.2 300.2L642.4 302.4L642.6 304.5L642.7 306.7L642.7 308.9L642.7 311.0L642.7 313.2L642.5 315.4L642.4 317.5L642.1 319.7L641.9 321.8L641.5 324.0L641.1 326.1L640.7 328.2L640.2 330.3L639.7 332.4L639.1 334.5L638.4 336.5L637.7 338.6L637.0 340.6L636.2 342.6L635.4 344.5L634.5 346.5L633.5 348.4L632.6 350.3L631.6 352.2L630.5 354.0L629.4 355.8L628.2 357.6L627.1 359.4L625.8 361.1L624.6 362.8L623.3 364.5L622.0 366.1L620.6 367.7L619.2 369.2L617.8 370.8L616.4 372.3L614.9 373.7L613.4 375.1L611.9 376.5L610.3 377.8L608.7 379.2L607.2 380.4L605.5 381.7L603.9 382.9L602.3 384.0L600.6 385.2L598.9 386.2L597.2 387.3L595.5 388.3L593.8 389.3L592.1 390.3L590.3 391.2L588.6 392.0L586.8 392.9L585.0 393.7L583.3 394.5L581.5 395.2L579.7 396.0L577.9 396.6L576.1 397.3L574.3 397.9L572.5 398.5L570.7 399.1L568.9 399.6L567.2 400.1L565.4 400.6L563.6 401.1L561.8 401.5L560.0 401.9L558.2 402.3L556.4 402.7L554.6 403.0L552.8 403.3L551.0 403.6L549.2 403.9L547.4 404.1L545.6 404.3L543.8 404.5L542.1 404.7L540.3 404.9L538.5 405.0L536.7 405.2L535.0 405.3L533.2 405.4L531.4 405.4L529.6 405.5L527.9 405.5L526.1 405.5L524.3 405.5L522.5 405.5L520.8 405.5L519.0 405.4L517.2 405.3L515.4 405.2L513.7 405.1L511.9 405.0L510.1 404.8L508.3 404.7L506.5 404.5L504.8 404.3L503.0 404.0L501.2 403.8L499.4 403.5L497.6 403.2L495.8 402.9L494.0 402.5L492.2 402.2L490.4 401.8L488.6 401.4L486.8 400.9L485.0 400.5L483.2 400.0L481.4 399.4L479.6 398.9L477.8 398.3L476.0 397.7L474.3 397.1L472.5 396.4L470.7 395.7L468.9 395.0L467.1 394.2L465.3 393.4L463.6 392.6L461.8 391.8L460.1 390.9L458.3 389.9L456.6 389.0L454.9 388.0L453.2 387.0L451.5 385.9L449.8 384.8L448.2 383.6L446.5 382.5L444.9 381.3L443.3 380.0L441.7 378.7L440.1 377.4L438.6 376.1L437.1 374.7L435.6 373.2L434.1 371.8L432.7 370.3L431.3 368.7L429.9 367.2L428.5 365.6L427.2 363.9L425.9 362.2L424.7 360.5L423.5 358.8L422.3 357.0L421.2 355.2L420.1 353.4L419.1 351.6L418.1 349.7L417.1 347.8L416.2 345.8L415.3 343.9L414.5 341.9L413.7 339.9L413.0 337.9L412.3 335.8L411.7 333.8L411.1 331.7L410.6 329.6L410.1 327.5L409.7 325.4L409.3 323.2L409.0 321.1L408.7 318.9L408.5 316.8L408.4 314.6L408.3 312.5L408.2 310.3L408.2 308.1L408.3 306.0L408.4 303.8L408.6 301.6L408.8 299.5L409.1 297.3L409.4 295.2L409.8 293.1L410.3 290.9L410.7 288.8L411.3 286.8L411.9 284.7L412.5 282.6L413.2 280.6L414.0 278.6L414.8 276.6L415.6 274.6L416.5 272.7L417.4 270.7L418.4 268.8L419.4 267.0L420.5 265.1L421.6 263.3L422.7 261.5L423.9 259.8L425.1 258.0L426.4 256.3L427.7 254.7L429.0 253.1L430.4 251.5L431.8 249.9L433.2 248.4L434.6 246.9L436.1 245.4L437.6 244.0L439.1 242.6L440.7 241.3L442.3 240.0L443.8 238.7L445.5 237.5L447.1 236.3L448.7 235.1L450.4 234.0L452.1 232.9L453.8 231.9L455.5 230.8L457.2 229.9L459.0 228.9L460.7 228.0L462.5 227.1L464.2 226.3L466.0 225.4L467.8 224.7L469.5 223.9L471.3 223.2L473.1 222.5L474.9 221.9L476.7 221.2L478.5 220.6L480.3 220.1L482.1 219.5L483.9 219.0L485.7 218.5L487.5 218.1L489.3 217.7L491.1 217.3L492.9 216.9L494.7 216.5L496.5 216.2L498.2 215.9L500.0 215.6L501.8 215.3L503.6 215.1L505.4 214.8L507.2 214.6L509.0 214.4L510.7 214.3L512.5 214.1L514.3 214.0L516.1 213.9L517.9 213.8L519.6 213.7L521.4 213.7L523.2 213.7L525.0 213.6L526.7 213.7L528.5 213.7L530.3 213.7L532.0 213.8L533.8 213.8L535.6 213.9L537.4 214.1L539.2 214.2L540.9 214.3L542.7 214.5L544.5 214.7L546.3 214.9L548.1 215.1L549.9 215.4L551.6 215.7L553.4 216.0L555.2 216.3L557.0 216.6L558.8 217.0L560.6 217.4L562.4 217.8L564.2 218.3L566.0 218.7L567.8 219.2L569.6 219.7L571.4 220.3L573.2 220.9L575.0 221.5L576.8 222.1L578.6 222.8L580.4 223.5L582.2 224.2L583.9 225.0L585.7 225.7L587.5 226.6L589.2 227.4L591.0 228.3L592.7 229.3L594.4 230.2L596.2 231.2L597.9 232.2L599.6 233.3L601.2 234.4L602.9 235.6L604.5 236.7L606.2 237.9L607.8 239.2L609.4 240.5L610.9 241.8L612.5 243.2L614.0 244.5L615.5 246.0L617.0 247.4L618.4 248.9L619.8 250.5L621.2 252.1L622.5 253.7L623.8 255.3L625.1 257.0L626.4 258.7L627.6 260.4L628.7 262.2L629.9 264.0L631.0 265.8L632.0 267.7L633.0 269.5L634.0 271.5L634.9 273.4L635.8 275.3L636.6 277.3L637.4 279.3L638.1 281.4L638.8 283.4L639.4 285.5L640.0 287.5L640.5 289.6L641.0 291.8L641.4 293.9L641.8 296.0L642.1 298.2L642.3 300.3L642.5 302.5L642.7 304.6L642.8 306.8L642.8 309.0L642.8 311.1L642.8 313.3L642.6 315.5L642.5 317.6L642.2 319.8L642.0 321.9L641.6 324.1L641.2 326.2L640.8 328.3L640.3 330.4L639.7 332.5L639.2 334.6L638.5 336.6L637.8 338.7L637.1 340.7L636.3 342.7L635.4 344.7L634.5 346.6L633.6 348.5L632.6 350.4L631.6 352.3L630.5 354.1L629.4 356.0L628.3 357.7L627.1 359.5L625.9 361.2L624.6 362.9L623.3 364.6L622.0 366.2L620.6 367.8L619.2 369.4L617.8 370.9L616.4 372.4L614.9 373.8L613.4 375.2L611.9 376.6L610.3 378.0L608.7 379.3L607.1 380.5L605.5 381.8L603.9 383.0L602.2 384.1L600.6 385.3L598.9 386.3L597.2 387.4L595.5 388.4L593.8 389.4L592.0 390.3L590.3 391.3L588.5 392.1L586.8 393.0L585.0 393.8L583.2 394.6L581.4 395.3L579.7 396.0L577.9 396.7L576.1 397.4L574.3 398.0L572.5 398.6L570.7 399.2L568.9 399.7L567.1 400.2L565.3 400.7L563.5 401.1L561.7 401.6L559.9 402.0L558.1 402.4L556.3 402.7L554.5 403.1L552.7 403.4L550.9 403.7L549.1 403.9L547.3 404.2L545.6 404.4L543.8 404.6L542.0 404.8L540.2 404.9L538.4 405.1L536.7 405.2L534.9 405.3L533.1 405.4L531.3 405.5L529.6 405.5L527.8 405.6L526.0 405.6L524.2 405.6L522.5 405.5L520.7 405.5L518.9 405.4L517.1 405.4L515.4 405.3L513.6 405.2L511.8 405.0L510.0 404.9L508.2 404.7L506.5 404.5L504.7 404.3L502.9 404.1L501.1 403.8L499.3 403.5L497.5 403.2L495.7 402.9L493.9 402.6L492.1 402.2L490.3 401.8L488.5 401.4L486.7 401.0L484.9 400.5L483.1 400.0L481.3 399.5L479.5 398.9L477.7 398.3L475.9 397.7L474.1 397.1L472.4 396.4L470.6 395.7L468.8 395.0L467.0 394.2L465.2 393.5L463.5 392.6L461.7 391.8L460.0 390.9L458.2 390.0L456.5 389.0L454.8 388.0L453.1 387.0L451.4 385.9L449.7 384.8L448.0 383.6L446.4 382.5L444.8 381.3L443.2 380.0L441.6 378.7L440.0 377.4L438.5 376.0L436.9 374.6L435.4 373.2L434.0 371.7L432.5 370.2L431.1 368.7L429.8 367.1L428.4 365.5L427.1 363.9L425.8 362.2L424.6 360.5L423.4 358.8L422.2 357.0L421.1 355.2L420.0 353.4L418.9 351.5L417.9 349.6L417.0 347.7L416.0 345.8L415.2 343.8L414.4 341.8L413.6 339.8L412.9 337.8L412.2 335.8L411.5 333.7L411.0 331.6L410.4 329.5L410.0 327.4L409.5 325.3L409.2 323.2L408.9 321.0L408.6 318.9L408.4 316.7L408.2 314.5L408.2 312.4L408.1 310.2L408.1 308.0L408.2 305.9L408.3 303.7L408.5 301.5L408.7 299.4L409.0 297.2L409.3 295.1L409.7 293.0L410.2 290.8L410.7 288.7L411.2 286.6L411.8 284.6L412.5 282.5L413.2 280.5L413.9 278.5L414.7 276.5L415.6 274.5L416.4 272.5L417.4 270.6L418.4 268.7L419.4 266.8L420.4 265.0L421.6 263.2L422.7 261.4L423.9 259.6L425.1 257.9L426.4 256.2L427.7 254.6L429.0 252.9L430.4 251.3L431.7 249.8L433.2 248.3L434.6 246.8L436.1 245.3L437.6 243.9L439.1 242.5L440.7 241.2L442.3 239.9L443.9 238.6L445.5 237.4L447.1 236.2L448.8 235.0L450.4 233.9L452.1 232.8L453.8 231.8L455.5 230.7L457.3 229.8L459.0 228.8L460.7 227.9L462.5 227.0L464.3 226.2L466.0 225.4L467.8 224.6L469.6 223.8L471.4 223.1L473.2 222.4L474.9 221.8L476.7 221.2L478.5 220.6L480.3 220.0L482.1 219.5L483.9 219.0L485.7 218.5L487.5 218.0L489.3 217.6L491.1 217.2L492.9 216.8L494.7 216.5L496.5 216.1L498.3 215.8L500.1 215.5L501.9 215.3L503.7 215.0L505.5 214.8L507.3 214.6L509.0 214.4L510.8 214.2L512.6 214.1L514.4 214.0L516.2 213.9L517.9 213.8L519.7 213.7L521.5 213.7L523.3 213.6L525.0 213.6L526.8 213.6L528.6 213.6L530.4 213.7L532.1 213.7L533.9 213.8L535.7 213.9L537.5 214.0L539.2 214.2L541.0 214.3L542.8 214.5L544.6 214.7L546.4 214.9L548.2 215.1L549.9 215.4L551.7 215.7L553.5 216.0L555.3 216.3L557.1 216.6L558.9 217.0L560.7 217.4L562.5 217.8L564.3 218.2L566.1 218.7L567.9 219.2L569.7 219.7L571.5 220.3L573.3 220.8L575.1 221.5L576.9 222.1L578.7 222.8L580.5 223.5L582.3 224.2L584.0 224.9L585.8 225.7L587.6 226.6L589.3 227.4L591.1 228.3L592.8 229.2L594.6 230.2L596.3 231.2L598.0 232.2L599.7 233.3L601.4 234.4L603.0 235.6L604.7 236.7L606.3 237.9L607.9 239.2L609.5 240.5L611.1 241.8L612.6 243.2L614.1 244.6L615.6 246.0L617.1 247.5L618.5 249.0L619.9 250.5L621.3 252.1L622.7 253.7L624.0 255.3L625.3 257.0L626.5 258.7L627.7 260.4L628.9 262.2L630.0 264.0L631.1 265.8L632.1 267.7L633.1 269.6L634.1 271.5L635.0 273.4L635.9 275.4L636.7 277.4L637.5 279.4L638.2 281.4L638.9 283.5L639.5 285.5L640.1 287.6L640.6 289.7L641.1 291.8L641.5 294.0L641.9 296.1L642.2 298.2L642.4 300.4L642.7 302.5L642.8 304.7L642.9 306.9L642.9 309.0L642.9 311.2L642.9 313.4L642.7 315.6L642.6 317.7L642.3 319.9L642.0 322.0L641.7 324.2L641.3 326.3L640.9 328.4L640.4 330.5L639.8 332.6L639.2 334.7L638.6 336.7L637.9 338.8L637.1 340.8L636.3 342.8L635.5 344.8L634.6 346.7L633.6 348.6L632.7 350.5L631.6 352.4L630.6 354.3L629.5 356.1L628.3 357.9L627.1 359.6L625.9 361.3L624.6 363.0L623.3 364.7L622.0 366.3L620.6 367.9L619.3 369.5L617.8 371.0L616.4 372.5L614.9 373.9L613.4 375.3L611.9 376.7L610.3 378.1L608.7 379.4L607.1 380.6L605.5 381.9L603.9 383.1L602.2 384.2L600.5 385.3L598.9 386.4L597.2 387.5L595.4 388.5L593.7 389.5L592.0 390.4L590.2 391.3L588.5 392.2L586.7 393.1L585.0 393.9L583.2 394.6L581.4 395.4L579.6 396.1L577.8 396.8L576.0 397.4L574.2 398.1L572.4 398.7L570.6 399.2L568.8 399.8L567.0 400.3L565.2 400.7L563.4 401.2L561.6 401.6L559.8 402.0L558.0 402.4L556.2 402.8L554.4 403.1L552.7 403.4L550.9 403.7L549.1 404.0L547.3 404.2L545.5 404.4L543.7 404.6L541.9 404.8L540.1 405.0L538.4 405.1L536.6 405.2L534.8 405.4L533.0 405.4L531.3 405.5L529.5 405.6L527.7 405.6L525.9 405.6L524.2 405.6L522.4 405.6L520.6 405.5L518.8 405.5L517.1 405.4L515.3 405.3L513.5 405.2L511.7 405.1L509.9 404.9L508.2 404.7L506.4 404.5L504.6 404.3L502.8 404.1L501.0 403.8L499.2 403.6L497.4 403.3L495.6 402.9L493.8 402.6L492.0 402.2L490.2 401.8L488.4 401.4L486.6 401.0L484.8 400.5L483.0 400.0L481.2 399.5L479.4 398.9L477.6 398.4L475.8 397.8L474.0 397.1L472.3 396.4L470.5 395.7L468.7 395.0L466.9 394.3L465.1 393.5L463.4 392.6L461.6 391.8L459.9 390.9L458.1 390.0L456.4 389.0L454.7 388.0L453.0 387.0L451.3 385.9L449.6 384.8L447.9 383.6L446.3 382.5L444.6 381.2L443.0 380.0L441.4 378.7L439.9 377.4L438.3 376.0L436.8 374.6L435.3 373.2L433.9 371.7L432.4 370.2L431.0 368.7L429.6 367.1L428.3 365.5L427.0 363.9L425.7 362.2L424.4 360.5L423.2 358.7L422.1 357.0L420.9 355.2L419.8 353.3L418.8 351.5L417.8 349.6L416.8 347.7L415.9 345.7L415.1 343.8L414.2 341.8L413.5 339.8L412.7 337.7L412.1 335.7L411.4 333.6L410.9 331.5L410.3 329.4L409.9 327.3L409.4 325.2L409.1 323.1L408.8 320.9L408.5 318.8L408.3 316.6L408.1 314.4L408.1 312.3L408.0 310.1L408.0 307.9L408.1 305.8L408.2 303.6L408.4 301.4L408.6 299.3L408.9 297.1L409.3 295.0L409.7 292.9L410.1 290.7L410.6 288.6L411.2 286.5L411.8 284.5L412.4 282.4L413.1 280.4L413.9 278.3L414.7 276.4L415.5 274.4L416.4 272.4L417.3 270.5L418.3 268.6L419.3 266.7L420.4 264.9L421.5 263.1L422.7 261.3L423.9 259.5L425.1 257.8L426.4 256.1L427.7 254.5L429.0 252.8L430.3 251.2L431.7 249.7L433.2 248.2L434.6 246.7L436.1 245.2L437.6 243.8L439.1 242.4L440.7 241.1L442.3 239.8L443.9 238.5L445.5 237.3L447.1 236.1L448.8 234.9L450.5 233.8L452.2 232.7L453.9 231.7L455.6 230.7L457.3 229.7L459.0 228.7L460.8 227.8L462.5 226.9L464.3 226.1L466.1 225.3L467.8 224.5L469.6 223.8L471.4 223.1L473.2 222.4L475.0 221.7L476.8 221.1L478.6 220.5L480.4 220.0L482.2 219.4L484.0 218.9L485.8 218.4L487.6 218.0L489.4 217.5L491.2 217.1L493.0 216.8L494.8 216.4L496.6 216.1L498.4 215.8L500.2 215.5L502.0 215.2L503.8 215.0L505.5 214.8L507.3 214.5L509.1 214.4L510.9 214.2L512.7 214.1L514.5 213.9L516.2 213.8L518.0 213.7L519.8 213.7L521.6 213.6L523.3 213.6L525.1 213.6L526.9 213.6L528.7 213.6L530.4 213.7L532.2 213.7L534.0 213.8L535.8 213.9L537.5 214.0L539.3 214.1L541.1 214.3L542.9 214.5L544.7 214.7L546.5 214.9L548.2 215.1L550.0 215.4L551.8 215.6L553.6 215.9L555.4 216.3L557.2 216.6L559.0 217.0L560.8 217.4L562.6 217.8L564.4 218.2L566.2 218.7L568.0 219.2L569.8 219.7L571.6 220.3L573.4 220.8L575.2 221.4L577.0 222.1L578.8 222.7L580.6 223.4L582.4 224.2L584.1 224.9L585.9 225.7L587.7 226.6L589.4 227.4L591.2 228.3L592.9 229.2L594.7 230.2L596.4 231.2L598.1 232.2L599.8 233.3L601.5 234.4L603.1 235.6L604.8 236.7L606.4 238.0L608.0 239.2L609.6 240.5L611.2 241.8L612.7 243.2L614.2 244.6L615.7 246.0L617.2 247.5L618.6 249.0L620.1 250.5L621.4 252.1L622.8 253.7L624.1 255.4L625.4 257.0L626.6 258.7L627.8 260.5L629.0 262.3L630.1 264.1L631.2 265.9L632.3 267.8L633.3 269.6L634.2 271.6L635.1 273.5L636.0 275.5L636.8 277.5L637.6 279.5L638.3 281.5L639.0 283.5L639.6 285.6L640.2 287.7L640.7 289.8L641.2 291.9L641.6 294.0L642.0 296.2L642.3 298.3L642.5 300.5L642.8 302.6L642.9 304.8L643.0 307.0L643.0 309.1L643.0 311.3L642.9 313.5L642.8 315.7L642.6 317.8L642.4 320.0L642.1 322.1L641.8 324.3L641.4 326.4L640.9 328.5L640.4 330.6L639.9 332.7L639.3 334.8L638.6 336.8L637.9 338.9L637.2 340.9L636.4 342.9L635.5 344.9L634.6 346.8L633.7 348.8L632.7 350.7L631.7 352.5L630.6 354.4L629.5 356.2L628.3 358.0L627.1 359.7L625.9 361.5L624.7 363.1L623.4 364.8L622.0 366.4L620.7 368.0L619.3 369.6L617.8 371.1L616.4 372.6L614.9 374.0L613.4 375.4L611.8 376.8L610.3 378.2L608.7 379.5L607.1 380.7L605.5 382.0L603.8 383.2L602.2 384.3L600.5 385.4L598.8 386.5L597.1 387.6L595.4 388.6L593.7 389.6L591.9 390.5L590.2 391.4L588.4 392.3L586.7 393.1L584.9 393.9L583.1 394.7L581.3 395.5L579.6 396.2L577.8 396.9L576.0 397.5L574.2 398.1L572.4 398.7L570.6 399.3L568.8 399.8L567.0 400.3L565.2 400.8L563.4 401.3L561.6 401.7L559.8 402.1L558.0 402.5L556.2 402.8L554.4 403.1L552.6 403.5L550.8 403.7L549.0 404.0L547.2 404.2L545.4 404.5L543.6 404.7L541.9 404.9L540.1 405.0L538.3 405.2L536.5 405.3L534.7 405.4L533.0 405.5L531.2 405.5L529.4 405.6L527.6 405.6L525.9 405.6L524.1 405.6L522.3 405.6L520.5 405.6L518.8 405.5L517.0 405.4L515.2 405.3L513.4 405.2L511.6 405.1L509.9 404.9L508.1 404.7L506.3 404.6L504.5 404.3L502.7 404.1L500.9 403.8L499.1 403.6L497.3 403.3L495.5 403.0L493.7 402.6L491.9 402.2L490.1 401.8L488.3 401.4L486.5 401.0L484.7 400.5L482.9 400.0L481.1 399.5L479.3 398.9L477.5 398.4L475.7 397.8L473.9 397.1L472.2 396.5L470.4 395.8L468.6 395.0L466.8 394.3L465.0 393.5L463.3 392.6L461.5 391.8L459.7 390.9L458.0 390.0L456.3 389.0L454.6 388.0L452.8 387.0L451.1 385.9L449.5 384.8L447.8 383.6L446.2 382.5L444.5 381.2L442.9 380.0L441.3 378.7L439.8 377.4L438.2 376.0L436.7 374.6L435.2 373.2L433.7 371.7L432.3 370.2L430.9 368.7L429.5 367.1L428.2 365.5L426.8 363.8L425.6 362.1L424.3 360.4L423.1 358.7L421.9 356.9L420.8 355.1L419.7 353.3L418.7 351.4L417.7 349.5L416.7 347.6L415.8 345.7L414.9 343.7L414.1 341.7L413.3 339.7L412.6 337.7L411.9 335.6L411.3 333.6L410.7 331.5L410.2 329.4L409.7 327.3L409.3 325.1L409.0 323.0L408.7 320.8L408.4 318.7L408.2 316.5L408.0 314.4L408.0 312.2L407.9 310.0L407.9 307.8L408.0 305.7L408.1 303.5L408.3 301.3L408.6 299.2L408.8 297.0L409.2 294.9L409.6 292.7L410.0 290.6L410.5 288.5L411.1 286.4L411.7 284.4L412.3 282.3L413.1 280.3L413.8 278.2L414.6 276.2L415.5 274.3L416.4 272.3L417.3 270.4L418.3 268.5L419.3 266.6L420.4 264.8L421.5 263.0L422.7 261.2L423.8 259.4L425.1 257.7L426.3 256.0L427.6 254.3L429.0 252.7L430.3 251.1L431.7 249.6L433.2 248.1L434.6 246.6L436.1 245.1L437.6 243.7L439.2 242.3L440.7 241.0L442.3 239.7L443.9 238.4L445.5 237.2L447.2 236.0L448.8 234.8L450.5 233.7L452.2 232.6L453.9 231.6L455.6 230.6L457.3 229.6L459.1 228.7L460.8 227.7L462.6 226.9L464.3 226.0L466.1 225.2L467.9 224.4L469.7 223.7L471.5 223.0L473.3 222.3L475.1 221.7L476.9 221.0L478.7 220.5L480.5 219.9L482.3 219.4L484.1 218.9L485.9 218.4L487.7 217.9L489.5 217.5L491.3 217.1L493.1 216.7L494.9 216.4L496.7 216.0L498.5 215.7L500.2 215.4L502.0 215.2L503.8 214.9L505.6 214.7L507.4 214.5L509.2 214.3L511.0 214.2L512.7 214.0L514.5 213.9L516.3 213.8L518.1 213.7L519.9 213.7L521.6 213.6L523.4 213.6L525.2 213.6L527.0 213.6L528.7 213.6L530.5 213.6L532.3 213.7L534.1 213.8L535.8 213.9L537.6 214.0L539.4 214.1L541.2 214.3L543.0 214.4L544.8 214.6L546.5 214.9L548.3 215.1L550.1 215.3L551.9 215.6L553.7 215.9L555.5 216.2L557.3 216.6L559.1 217.0L560.9 217.3L562.7 217.8L564.5 218.2L566.3 218.7L568.1 219.2L569.9 219.7L571.7 220.2L573.5 220.8L575.3 221.4L577.1 222.1L578.9 222.7L580.7 223.4L582.5 224.2L584.3 224.9L586.0 225.7L587.8 226.6L589.6 227.4L591.3 228.3L593.1 229.2L594.8 230.2L596.5 231.2L598.2 232.2L599.9 233.3L601.6 234.4L603.3 235.6L604.9 236.8L606.5 238.0L608.1 239.2L609.7 240.5L611.3 241.8L612.8 243.2L614.4 244.6L615.9 246.0L617.3 247.5L618.8 249.0L620.2 250.6L621.6 252.1L622.9 253.8L624.2 255.4L625.5 257.1L626.7 258.8L628.0 260.5L629.1 262.3L630.2 264.1L631.3 265.9L632.4 267.8L633.4 269.7L634.3 271.6L635.3 273.6L636.1 275.5L636.9 277.5L637.7 279.5L638.4 281.6L639.1 283.6L639.7 285.7L640.3 287.8L640.8 289.9L641.3 292.0L641.7 294.1L642.1 296.3L642.4 298.4L642.7 300.6L642.9 302.7L643.0 304.9L643.1 307.1L643.1 309.2L643.1 311.4L643.0 313.6L642.9 315.8L642.7 317.9L642.5 320.1L642.2 322.2L641.9 324.4L641.5 326.5L641.0 328.6L640.5 330.7L639.9 332.8L639.3 334.9L638.7 337.0L638.0 339.0L637.2 341.0L636.4 343.0L635.6 345.0L634.7 346.9L633.7 348.9L632.7 350.8L631.7 352.6L630.6 354.5L629.5 356.3L628.4 358.1L627.2 359.8L625.9 361.6L624.7 363.3L623.4 364.9L622.0 366.5L620.7 368.1L619.3 369.7L617.8 371.2L616.4 372.7L614.9 374.1L613.4 375.5L611.8 376.9L610.3 378.3L608.7 379.6L607.1 380.8L605.5 382.1L603.8 383.2L602.2 384.4L600.5 385.5L598.8 386.6L597.1 387.7L595.4 388.7L593.6 389.6L591.9 390.6L590.2 391.5L588.4 392.4L586.6 393.2L584.9 394.0L583.1 394.8L581.3 395.5L579.5 396.2L577.7 396.9L575.9 397.6L574.1 398.2L572.3 398.8L570.5 399.3L568.7 399.9L566.9 400.4L565.1 400.9L563.3 401.3L561.5 401.7L559.7 402.1L557.9 402.5L556.1 402.9L554.3 403.2L552.5 403.5L550.7 403.8L548.9 404.0L547.1 404.3L545.4 404.5L543.6 404.7L541.8 404.9L540.0 405.0L538.2 405.2L536.4 405.3L534.7 405.4L532.9 405.5L531.1 405.6L529.3 405.6L527.6 405.6L525.8 405.7L524.0 405.6L522.2 405.6L520.5 405.6L518.7 405.5L516.9 405.4L515.1 405.3L513.3 405.2L511.6 405.1L509.8 404.9L508.0 404.8L506.2 404.6L504.4 404.4L502.6 404.1L500.8 403.9L499.0 403.6L497.3 403.3L495.5 403.0L493.7 402.6L491.9 402.3L490.1 401.9L488.3 401.4L486.5 401.0L484.7 400.5L482.8 400.0L481.0 399.5L479.2 399.0L477.4 398.4L475.6 397.8L473.8 397.1L472.1 396.5L470.3 395.8L468.5 395.0L466.7 394.3L464.9 393.5L463.2 392.6L461.4 391.8L459.6 390.9L457.9 390.0L456.2 389.0L454.4 388.0L452.7 387.0L451.0 385.9L449.4 384.8L447.7 383.6L446.0 382.4L444.4 381.2L442.8 380.0L441.2 378.7L439.6 377.4L438.1 376.0L436.6 374.6L435.1 373.2L433.6 371.7L432.2 370.2L430.8 368.6L429.4 367.0L428.0 365.4L426.7 363.8L425.4 362.1L424.2 360.4L423.0 358.6L421.8 356.9L420.7 355.1L419.6 353.2L418.6 351.4L417.6 349.5L416.6 347.6L415.7 345.6L414.8 343.6L414.0 341.7L413.2 339.6L412.5 337.6L411.8 335.6L411.2 333.5L410.6 331.4L410.1 329.3L409.6 327.2L409.2 325.0L408.9 322.9L408.6 320.8L408.3 318.6L408.1 316.4L408.0 314.3L407.9 312.1L407.8 309.9L407.8 307.7L407.9 305.6L408.0 303.4L408.2 301.2L408.5 299.1L408.8 296.9L409.1 294.8L409.5 292.6L410.0 290.5L410.5 288.4L411.0 286.3L411.6 284.2L412.3 282.2L413.0 280.1L413.8 278.1L414.6 276.1L415.4 274.2L416.3 272.2L417.3 270.3L418.3 268.4L419.3 266.5L420.4 264.7L421.5 262.8L422.6 261.1L423.8 259.3L425.1 257.6L426.3 255.9L427.6 254.2L429.0 252.6L430.3 251.0L431.7 249.5L433.2 248.0L434.6 246.5L436.1 245.0L437.6 243.6L439.2 242.2L440.7 240.9L442.3 239.6L443.9 238.3L445.6 237.1L447.2 235.9L448.9 234.7L450.5 233.6L452.2 232.5L453.9 231.5L455.6 230.5L457.4 229.5L459.1 228.6L460.9 227.7L462.6 226.8L464.4 226.0L466.2 225.1L468.0 224.4L469.7 223.6L471.5 222.9L473.3 222.2L475.1 221.6L476.9 221.0L478.7 220.4L480.5 219.8L482.3 219.3L484.1 218.8L485.9 218.3L487.7 217.9L489.5 217.4L491.3 217.0L493.1 216.7L494.9 216.3L496.7 216.0L498.5 215.7L500.3 215.4L502.1 215.1L503.9 214.9L505.7 214.7L507.5 214.5L509.3 214.3L511.0 214.1L512.8 214.0L514.6 213.9L516.4 213.8L518.2 213.7L519.9 213.6L521.7 213.6L523.5 213.5L525.3 213.5L527.0 213.5L528.8 213.6L530.6 213.6L532.4 213.7L534.1 213.7L535.9 213.8L537.7 214.0L539.5 214.1L541.3 214.3L543.0 214.4L544.8 214.6L546.6 214.8L548.4 215.1L550.2 215.3L552.0 215.6L553.8 215.9L555.6 216.2L557.4 216.6L559.2 216.9L561.0 217.3L562.8 217.8L564.6 218.2L566.4 218.7L568.2 219.2L570.0 219.7L571.8 220.2L573.6 220.8L575.4 221.4L577.2 222.1L579.0 222.7L580.8 223.4L582.6 224.2L584.4 224.9L586.1 225.7L587.9 226.6L589.7 227.4L591.4 228.3L593.2 229.2L594.9 230.2L596.6 231.2L598.3 232.3L600.0 233.3L601.7 234.4L603.4 235.6L605.0 236.8L606.7 238.0L608.3 239.2L609.9 240.5L611.4 241.9L613.0 243.2L614.5 244.6L616.0 246.1L617.5 247.5L618.9 249.0L620.3 250.6L621.7 252.2L623.0 253.8L624.3 255.4L625.6 257.1L626.9 258.8L628.1 260.6L629.2 262.3L630.4 264.2L631.5 266.0L632.5 267.9L633.5 269.8L634.5 271.7L635.4 273.6L636.2 275.6L637.1 277.6L637.8 279.6L638.6 281.6L639.2 283.7L639.9 285.8L640.4 287.8L640.9 289.9L641.4 292.1L641.8 294.2L642.2 296.3L642.5 298.5L642.8 300.6L643.0 302.8L643.1 305.0L643.2 307.2L643.2 309.3L643.2 311.5L643.1 313.7L643.0 315.9L642.8 318.0L642.6 320.2L642.3 322.3L641.9 324.5L641.5 326.6L641.1 328.7L640.6 330.8L640.0 332.9L639.4 335.0L638.7 337.1L638.0 339.1L637.3 341.1L636.5 343.1L635.6 345.1L634.7 347.1L633.8 349.0L632.8 350.9L631.7 352.8L630.7 354.6L629.5 356.4L628.4 358.2L627.2 359.9L625.9 361.7L624.7 363.4L623.4 365.0L622.0 366.6L620.7 368.2L619.3 369.8L617.8 371.3L616.4 372.8L614.9 374.2L613.4 375.6L611.8 377.0L610.3 378.4L608.7 379.7L607.1 380.9L605.4 382.2L603.8 383.3L602.1 384.5L600.5 385.6L598.8 386.7L597.1 387.7L595.3 388.8L593.6 389.7L591.9 390.7L590.1 391.6L588.3 392.4L586.6 393.3L584.8 394.1L583.0 394.9L581.2 395.6L579.4 396.3L577.7 397.0L575.9 397.6L574.1 398.2L572.3 398.8L570.5 399.4L568.6 399.9L566.8 400.4L565.0 400.9L563.2 401.4L561.4 401.8L559.6 402.2L557.8 402.6L556.0 402.9L554.2 403.2L552.4 403.5L550.6 403.8L548.9 404.1L547.1 404.3L545.3 404.5L543.5 404.7L541.7 404.9L539.9 405.1L538.1 405.2L536.4 405.3L534.6 405.4L532.8 405.5L531.0 405.6L529.3 405.6L527.5 405.7L525.7 405.7L523.9 405.7L522.1 405.6L520.4 405.6L518.6 405.5L516.8 405.5L515.0 405.4L513.3 405.2L511.5 405.1L509.7 405.0L507.9 404.8L506.1 404.6L504.3 404.4L502.5 404.1L500.8 403.9L499.0 403.6L497.2 403.3L495.4 403.0L493.6 402.6L491.8 402.3L490.0 401.9L488.2 401.5L486.4 401.0L484.6 400.5L482.8 400.0L481.0 399.5L479.1 399.0L477.3 398.4L475.5 397.8L473.7 397.1L472.0 396.5L470.2 395.8L468.4 395.0L466.6 394.3L464.8 393.5L463.0 392.6L461.3 391.8L459.5 390.9L457.8 390.0L456.1 389.0L454.3 388.0L452.6 386.9L450.9 385.9L449.2 384.8L447.6 383.6L445.9 382.4L444.3 381.2L442.7 380.0L441.1 378.7L439.5 377.3L438.0 376.0L436.5 374.6L435.0 373.1L433.5 371.7L432.0 370.1L430.6 368.6L429.3 367.0L427.9 365.4L426.6 363.8L425.3 362.1L424.1 360.4L422.9 358.6L421.7 356.8L420.6 355.0L419.5 353.2L418.4 351.3L417.4 349.4L416.5 347.5L415.6 345.6L414.7 343.6L413.9 341.6L413.1 339.6L412.4 337.5L411.7 335.5L411.1 333.4L410.5 331.3L410.0 329.2L409.5 327.1L409.1 325.0L408.8 322.8L408.4 320.7L408.2 318.5L408.0 316.3L407.9 314.2L407.8 312.0L407.7 309.8L407.8 307.6L407.8 305.5L408.0 303.3L408.1 301.1L408.4 299.0L408.7 296.8L409.0 294.7L409.4 292.5L409.9 290.4L410.4 288.3L411.0 286.2L411.6 284.1L412.2 282.1L412.9 280.0L413.7 278.0L414.5 276.0L415.4 274.0L416.3 272.1L417.2 270.2L418.2 268.3L419.3 266.4L420.3 264.5L421.5 262.7L422.6 260.9L423.8 259.2L425.0 257.5L426.3 255.8L427.6 254.1L429.0 252.5L430.3 250.9L431.7 249.4L433.2 247.8L434.6 246.4L436.1 244.9L437.6 243.5L439.2 242.1L440.8 240.8L442.3 239.5L443.9 238.2L445.6 237.0L447.2 235.8L448.9 234.7L450.6 233.5L452.3 232.5L454.0 231.4L455.7 230.4L457.4 229.4L459.2 228.5L460.9 227.6L462.7 226.7L464.4 225.9L466.2 225.1L468.0 224.3L469.8 223.6L471.6 222.9L473.4 222.2L475.2 221.5L477.0 220.9L478.8 220.3L480.6 219.8L482.4 219.2L484.2 218.7L486.0 218.3L487.8 217.8L489.6 217.4L491.4 217.0L493.2 216.6L495.0 216.3L496.8 215.9L498.6 215.6L500.4 215.4L502.2 215.1L504.0 214.9L505.8 214.6L507.5 214.4L509.3 214.3L511.1 214.1L512.9 214.0L514.7 213.8L516.5 213.7L518.2 213.7L520.0 213.6L521.8 213.6L523.6 213.5L525.3 213.5L527.1 213.5L528.9 213.5L530.7 213.6L532.4 213.6L534.2 213.7L536.0 213.8L537.8 213.9L539.6 214.1L541.3 214.2L543.1 214.4L544.9 214.6L546.7 214.8L548.5 215.1L550.3 215.3L552.1 215.6L553.9 215.9L555.7 216.2L557.5 216.6L559.3 216.9L561.1 217.3L562.9 217.7L564.7 218.2L566.5 218.7L568.3 219.2L570.1 219.7L571.9 220.2L573.7 220.8L575.5 221.4L577.3 222.1L579.1 222.7L580.9 223.4L582.7 224.2L584.5 224.9L586.2 225.7L588.0 226.6L589.8 227.4L591.5 228.3L593.3 229.2L595.0 230.2L596.7 231.2L598.4 232.3L600.1 233.3L601.8 234.4L603.5 235.6L605.1 236.8L606.8 238.0L608.4 239.3L610.0 240.5L611.5 241.9L613.1 243.2L614.6 244.6L616.1 246.1L617.6 247.6L619.0 249.1L620.4 250.6L621.8 252.2L623.2 253.8L624.5 255.5L625.7 257.2L627.0 258.9L628.2 260.6L629.4 262.4L630.5 264.2L631.6 266.0L632.6 267.9L633.6 269.8L634.6 271.7L635.5 273.7L636.4 275.6L637.2 277.6L638.0 279.7L638.7 281.7L639.3 283.7L640.0 285.8L640.5 287.9L641.1 290.0L641.5 292.1L641.9 294.3L642.3 296.4L642.6 298.6L642.9 300.7L643.1 302.9L643.2 305.1L643.3 307.2L643.3 309.4L643.3 311.6L643.2 313.8L643.1 316.0L642.9 318.1L642.6 320.3L642.4 322.4L642.0 324.6L641.6 326.7L641.1 328.8L640.6 330.9L640.1 333.0L639.5 335.1L638.8 337.2L638.1 339.2L637.3 341.2L636.5 343.2L635.6 345.2L634.7 347.2L633.8 349.1L632.8 351.0L631.8 352.9L630.7 354.7L629.6 356.5L628.4 358.3L627.2 360.1L626.0 361.8L624.7 363.5L623.4 365.1L622.0 366.7L620.7 368.3L619.3 369.9L617.8 371.4L616.4 372.9L614.9 374.3L613.3 375.7L611.8 377.1L610.2 378.5L608.6 379.8L607.0 381.0L605.4 382.2L603.8 383.4L602.1 384.6L600.4 385.7L598.7 386.8L597.0 387.8L595.3 388.8L593.6 389.8L591.8 390.7L590.1 391.7L588.3 392.5L586.5 393.4L584.8 394.2L583.0 394.9L581.2 395.7L579.4 396.4L577.6 397.0L575.8 397.7L574.0 398.3L572.2 398.9L570.4 399.4L568.6 400.0L566.8 400.5L565.0 401.0L563.2 401.4L561.4 401.8L559.6 402.2L557.8 402.6L556.0 402.9L554.2 403.3L552.4 403.6L550.6 403.9L548.8 404.1L547.0 404.4L545.2 404.6L543.4 404.8L541.6 404.9L539.9 405.1L538.1 405.2L536.3 405.4L534.5 405.5L532.7 405.5L531.0 405.6L529.2 405.7L527.4 405.7L525.6 405.7L523.8 405.7L522.1 405.7L520.3 405.6L518.5 405.6L516.7 405.5L515.0 405.4L513.2 405.3L511.4 405.1L509.6 405.0L507.8 404.8L506.0 404.6L504.3 404.4L502.5 404.2L500.7 403.9L498.9 403.6L497.1 403.3L495.3 403.0L493.5 402.6L491.7 402.3L489.9 401.9L488.1 401.5L486.3 401.0L484.5 400.5L482.7 400.1L480.9 399.5L479.1 399.0L477.3 398.4L475.5 397.8L473.7 397.1L471.9 396.5L470.1 395.8L468.3 395.0L466.5 394.3L464.7 393.5L462.9 392.6L461.2 391.8L459.4 390.9L457.7 390.0L455.9 389.0L454.2 388.0L452.5 386.9L450.8 385.9L449.1 384.8L447.5 383.6L445.8 382.4L444.2 381.2L442.6 379.9L441.0 378.6L439.4 377.3L437.9 375.9L436.3 374.5L434.8 373.1L433.4 371.6L431.9 370.1L430.5 368.6L429.1 367.0L427.8 365.4L426.5 363.7L425.2 362.0L423.9 360.3L422.7 358.6L421.6 356.8L420.4 355.0L419.4 353.1L418.3 351.3L417.3 349.4L416.4 347.4L415.4 345.5L414.6 343.5L413.8 341.5L413.0 339.5L412.3 337.5L411.6 335.4L411.0 333.3L410.4 331.2L409.9 329.1L409.4 327.0L409.0 324.9L408.7 322.7L408.3 320.6L408.1 318.4L407.9 316.3L407.8 314.1L407.7 311.9L407.6 309.7L407.7 307.6L407.7 305.4L407.9 303.2L408.1 301.0L408.3 298.9L408.6 296.7L409.0 294.6L409.4 292.4L409.8 290.3L410.3 288.2L410.9 286.1L411.5 284.0L412.2 282.0L412.9 279.9L413.7 277.9L414.5 275.9L415.3 273.9L416.2 272.0L417.2 270.1L418.2 268.2L419.2 266.3L420.3 264.4L421.4 262.6L422.6 260.8L423.8 259.1L425.0 257.4L426.3 255.7L427.6 254.0L429.0 252.4L430.3 250.8L431.7 249.3L433.2 247.7L434.7 246.3L436.1 244.8L437.7 243.4L439.2 242.0L440.8 240.7L442.4 239.4L444.0 238.1L445.6 236.9L447.3 235.7L448.9 234.6L450.6 233.5L452.3 232.4L454.0 231.3L455.7 230.3L457.5 229.4L459.2 228.4L461.0 227.5L462.7 226.6L464.5 225.8L466.3 225.0L468.1 224.2L469.8 223.5L471.6 222.8L473.4 222.1L475.2 221.5L477.0 220.9L478.8 220.3L480.6 219.7L482.4 219.2L484.3 218.7L486.1 218.2L487.9 217.8L489.7 217.4L491.5 217.0L493.3 216.6L495.1 216.2L496.9 215.9L498.7 215.6L500.5 215.3L502.3 215.1L504.0 214.8L505.8 214.6L507.6 214.4L509.4 214.2L511.2 214.1L513.0 213.9L514.7 213.8L516.5 213.7L518.3 213.6L520.1 213.6L521.9 213.5L523.6 213.5L525.4 213.5L527.2 213.5L529.0 213.5L530.7 213.6L532.5 213.6L534.3 213.7L536.1 213.8L537.9 213.9L539.6 214.1L541.4 214.2L543.2 214.4L545.0 214.6L546.8 214.8L548.6 215.0L550.4 215.3L552.2 215.6L554.0 215.9L555.8 216.2L557.6 216.5L559.4 216.9L561.2 217.3L563.0 217.7L564.8 218.2L566.6 218.6L568.4 219.1L570.2 219.7L572.0 220.2L573.8 220.8L575.6 221.4L577.4 222.1L579.2 222.7L581.0 223.4L582.8 224.2L584.6 224.9L586.3 225.7L588.1 226.6L589.9 227.4L591.6 228.3L593.4 229.3L595.1 230.2L596.8 231.2L598.5 232.3L600.2 233.3L601.9 234.5L603.6 235.6L605.2 236.8L606.9 238.0L608.5 239.3L610.1 240.6L611.7 241.9L613.2 243.3L614.7 244.7L616.2 246.1L617.7 247.6L619.1 249.1L620.5 250.7L621.9 252.2L623.3 253.9L624.6 255.5L625.9 257.2L627.1 258.9L628.3 260.7L629.5 262.4L630.6 264.3L631.7 266.1L632.7 268.0L633.7 269.9L634.7 271.8L635.6 273.7L636.5 275.7L637.3 277.7L638.1 279.7L638.8 281.8L639.5 283.8L640.1 285.9L640.6 288.0L641.2 290.1L641.6 292.2L642.0 294.4L642.4 296.5L642.7 298.7L642.9 300.8L643.1 303.0L643.3 305.2L643.4 307.3L643.4 309.5L643.4 311.7L643.3 313.9L643.2 316.0L643.0 318.2L642.7 320.4L642.4 322.5L642.1 324.7L641.7 326.8L641.2 328.9L640.7 331.1L640.1 333.1L639.5 335.2L638.8 337.3L638.1 339.3L637.4 341.3L636.5 343.3L635.7 345.3L634.8 347.3L633.8 349.2L632.8 351.1L631.8 353.0L630.7 354.8L629.6 356.6L628.4 358.4L627.2 360.2L626.0 361.9L624.7 363.6L623.4 365.2L622.0 366.9L620.7 368.4L619.2 370.0L617.8 371.5L616.3 373.0L614.8 374.4L613.3 375.8L611.8 377.2L610.2 378.5L608.6 379.8L607.0 381.1L605.4 382.3L603.7 383.5L602.1 384.7L600.4 385.8L598.7 386.9L597.0 387.9L595.2 388.9L593.5 389.9L591.8 390.8L590.0 391.7L588.2 392.6L586.5 393.4L584.7 394.2L582.9 395.0L581.1 395.7L579.3 396.4L577.5 397.1L575.7 397.7L573.9 398.4L572.1 398.9L570.3 399.5L568.5 400.0L566.7 400.5L564.9 401.0L563.1 401.4L561.3 401.9L559.5 402.3L557.7 402.6L555.9 403.0L554.1 403.3L552.3 403.6L550.5 403.9L548.7 404.1L546.9 404.4L545.1 404.6L543.3 404.8L541.6 405.0L539.8 405.1L538.0 405.3L536.2 405.4L534.4 405.5L532.7 405.6L530.9 405.6L529.1 405.7L527.3 405.7L525.5 405.7L523.8 405.7L522.0 405.7L520.2 405.6L518.4 405.6L516.7 405.5L514.9 405.4L513.1 405.3L511.3 405.1L509.5 405.0L507.7 404.8L506.0 404.6L504.2 404.4L502.4 404.2L500.6 403.9L498.8 403.6L497.0 403.3L495.2 403.0L493.4 402.7L491.6 402.3L489.8 401.9L488.0 401.5L486.2 401.0L484.4 400.6L482.6 400.1L480.8 399.5L479.0 399.0L477.2 398.4L475.4 397.8L473.6 397.1L471.8 396.5L470.0 395.8L468.2 395.0L466.4 394.3L464.6 393.5L462.8 392.6L461.1 391.8L459.3 390.9L457.6 389.9L455.8 389.0L454.1 388.0L452.4 386.9L450.7 385.9L449.0 384.7L447.3 383.6L445.7 382.4L444.1 381.2L442.5 379.9L440.9 378.6L439.3 377.3L437.7 375.9L436.2 374.5L434.7 373.1L433.3 371.6L431.8 370.1L430.4 368.5L429.0 366.9L427.7 365.3L426.4 363.7L425.1 362.0L423.8 360.3L422.6 358.5L421.5 356.7L420.3 354.9L419.2 353.1L418.2 351.2L417.2 349.3L416.2 347.4L415.3 345.4L414.5 343.5L413.7 341.5L412.9 339.4L412.2 337.4L411.5 335.3L410.9 333.3L410.3 331.2L409.8 329.1L409.3 326.9L408.9 324.8L408.6 322.7L408.3 320.5L408.0 318.3L407.8 316.2L407.7 314.0L407.6 311.8L407.6 309.6L407.6 307.5L407.7 305.3L407.8 303.1L408.0 300.9L408.2 298.8L408.5 296.6L408.9 294.5L409.3 292.3L409.8 290.2L410.3 288.1L410.8 286.0L411.5 283.9L412.1 281.9L412.9 279.8L413.6 277.8L414.4 275.8L415.3 273.8L416.2 271.9L417.2 269.9L418.2 268.0L419.2 266.2L420.3 264.3L421.4 262.5L422.6 260.7L423.8 259.0L425.0 257.3L426.3 255.6L427.6 253.9L429.0 252.3L430.3 250.7L431.8 249.2L433.2 247.6L434.7 246.2L436.2 244.7L437.7 243.3L439.2 241.9L440.8 240.6L442.4 239.3L444.0 238.0L445.6 236.8L447.3 235.6L449.0 234.5L450.6 233.4L452.3 232.3L454.1 231.3L455.8 230.2L457.5 229.3L459.3 228.3L461.0 227.4L462.8 226.6L464.6 225.7L466.3 224.9L468.1 224.2L469.9 223.4L471.7 222.7L473.5 222.1L475.3 221.4L477.1 220.8L478.9 220.2L480.7 219.7L482.5 219.1L484.3 218.6L486.1 218.2L487.9 217.7L489.7 217.3L491.5 216.9L493.3 216.5L495.1 216.2L496.9 215.9L498.7 215.6L500.5 215.3L502.3 215.0L504.1 214.8L505.9 214.6L507.7 214.4L509.5 214.2L511.3 214.1L513.0 213.9L514.8 213.8L516.6 213.7L518.4 213.6L520.2 213.6L521.9 213.5L523.7 213.5L525.5 213.5L527.3 213.5L529.0 213.5L530.8 213.6L532.6 213.6L534.4 213.7L536.2 213.8L537.9 213.9L539.7 214.1L541.5 214.2L543.3 214.4L545.1 214.6L546.9 214.8L548.7 215.0L550.5 215.3L552.2 215.6L554.0 215.9L555.8 216.2L557.6 216.5L559.4 216.9L561.3 217.3L563.1 217.7L564.9 218.2L566.7 218.6L568.5 219.1L570.3 219.7L572.1 220.2L573.9 220.8L575.7 221.4L577.5 222.1L579.3 222.7L581.1 223.4L582.9 224.2L584.7 224.9L586.4 225.7L588.2 226.6L590.0 227.4L591.7 228.3L593.5 229.3L595.2 230.2L596.9 231.2L598.7 232.3L600.4 233.4L602.0 234.5L603.7 235.6L605.4 236.8L607.0 238.0L608.6 239.3L610.2 240.6L611.8 241.9L613.3 243.3L614.8 244.7L616.3 246.1L617.8 247.6L619.2 249.1L620.7 250.7L622.0 252.3L623.4 253.9L624.7 255.5L626.0 257.2L627.2 259.0L628.4 260.7L629.6 262.5L630.7 264.3L631.8 266.1L632.9 268.0L633.9 269.9L634.8 271.8L635.7 273.8L636.6 275.8L637.4 277.8L638.2 279.8L638.9 281.8L639.6 283.9L640.2 286.0L640.7 288.1L641.3 290.2L641.7 292.3L642.1 294.4L642.5 296.6L642.8 298.7L643.0 300.9L643.2 303.1L643.4 305.3L643.5 307.4L643.5 309.6L643.5 311.8L643.4 314.0L643.2 316.1L643.0 318.3L642.8 320.5L642.5 322.6L642.1 324.8L641.7 326.9L641.3 329.0L640.7 331.2L640.2 333.3L639.6 335.3L638.9 337.4L638.2 339.4L637.4 341.5L636.6 343.5L635.7 345.4L634.8 347.4L633.8 349.3L632.8 351.2L631.8 353.1L630.7 354.9L629.6 356.7L628.4 358.5L627.2 360.3L626.0 362.0L624.7 363.7L623.4 365.3L622.0 367.0L620.7 368.5L619.2 370.1L617.8 371.6L616.3 373.1L614.8 374.5L613.3 375.9L611.8 377.3L610.2 378.6L608.6 379.9L607.0 381.2L605.3 382.4L603.7 383.6L602.0 384.8L600.3 385.9L598.6 386.9L596.9 388.0L595.2 389.0L593.5 390.0L591.7 390.9L590.0 391.8L588.2 392.7L586.4 393.5L584.6 394.3L582.9 395.1L581.1 395.8L579.3 396.5L577.5 397.2L575.7 397.8L573.9 398.4L572.1 399.0L570.3 399.6L568.5 400.1L566.6 400.6L564.8 401.0L563.0 401.5L561.2 401.9L559.4 402.3L557.6 402.7L555.8 403.0L554.0 403.3L552.2 403.6L550.4 403.9L548.6 404.2L546.8 404.4L545.1 404.6L543.3 404.8L541.5 405.0L539.7 405.2L537.9 405.3L536.1 405.4L534.4 405.5L532.6 405.6L530.8 405.7L529.0 405.7L527.2 405.7L525.5 405.7L523.7 405.7L521.9 405.7L520.1 405.7L518.4 405.6L516.6 405.5L514.8 405.4L513.0 405.3L511.2 405.2L509.5 405.0L507.7 404.8L505.9 404.6L504.1 404.4L502.3 404.2L500.5 403.9L498.7 403.6L496.9 403.3L495.1 403.0L493.3 402.7L491.5 402.3L489.7 401.9L487.9 401.5L486.1 401.0L484.3 400.6L482.5 400.1L480.7 399.5L478.9 399.0L477.1 398.4L475.3 397.8L473.5 397.1L471.7 396.5L469.9 395.8L468.1 395.0L466.3 394.3L464.5 393.5L462.7 392.6L461.0 391.8L459.2 390.9L457.5 389.9L455.7 389.0L454.0 388.0L452.3 386.9L450.6 385.8L448.9 384.7L447.2 383.6L445.6 382.4L444.0 381.2L442.3 379.9L440.7 378.6L439.2 377.3L437.6 375.9L436.1 374.5L434.6 373.0L433.1 371.6L431.7 370.0L430.3 368.5L428.9 366.9L427.6 365.3L426.2 363.6L425.0 361.9L423.7 360.2L422.5 358.5L421.3 356.7L420.2 354.9L419.1 353.0L418.1 351.2L417.1 349.3L416.1 347.3L415.2 345.4L414.4 343.4L413.5 341.4L412.8 339.4L412.1 337.3L411.4 335.3L410.8 333.2L410.2 331.1L409.7 329.0L409.2 326.9L408.8 324.7L408.5 322.6L408.2 320.4L407.9 318.2L407.7 316.1L407.6 313.9L407.5 311.7L407.5 309.5L407.5 307.4L407.6 305.2L407.7 303.0L407.9 300.8L408.2 298.7L408.5 296.5L408.8 294.4L409.3 292.2L409.7 290.1L410.2 288.0L410.8 285.9L411.4 283.8L412.1 281.8L412.8 279.7L413.6 277.7L414.4 275.7L415.3 273.7L416.2 271.8L417.1 269.8L418.1 267.9L419.2 266.1L420.3 264.2L421.4 262.4L422.6 260.6L423.8 258.9L425.0 257.2L426.3 255.5L427.6 253.8L429.0 252.2L430.4 250.6L431.8 249.1L433.2 247.5L434.7 246.1L436.2 244.6L437.7 243.2L439.3 241.8L440.8 240.5L442.4 239.2L444.0 238.0L445.7 236.7L447.3 235.6L449.0 234.4L450.7 233.3L452.4 232.2L454.1 231.2L455.8 230.2L457.6 229.2L459.3 228.3L461.1 227.4L462.8 226.5L464.6 225.7L466.4 224.9L468.2 224.1L470.0 223.4L471.8 222.7L473.6 222.0L475.4 221.4L477.2 220.8L479.0 220.2L480.8 219.6L482.6 219.1L484.4 218.6L486.2 218.1L488.0 217.7L489.8 217.3L491.6 216.9L493.4 216.5L495.2 216.2L497.0 215.8L498.8 215.5L500.6 215.3L502.4 215.0L504.2 214.8L506.0 214.6L507.8 214.4L509.6 214.2L511.3 214.0L513.1 213.9L514.9 213.8L516.7 213.7L518.5 213.6L520.2 213.5L522.0 213.5L523.8 213.5L525.6 213.5L527.3 213.5L529.1 213.5L530.9 213.5L532.7 213.6L534.5 213.7L536.2 213.8L538.0 213.9L539.8 214.0L541.6 214.2L543.4 214.4L545.2 214.6L547.0 214.8L548.7 215.0L550.5 215.3L552.3 215.6L554.1 215.9L555.9 216.2L557.7 216.5L559.5 216.9L561.3 217.3L563.1 217.7L564.9 218.2L566.8 218.6L568.6 219.1L570.4 219.7L572.2 220.2L574.0 220.8L575.8 221.4L577.6 222.1L579.4 222.7L581.2 223.4L583.0 224.2L584.8 224.9L586.5 225.7L588.3 226.6L590.1 227.4L591.8 228.3L593.6 229.3L595.3 230.2L597.0 231.2L598.8 232.3L600.5 233.4L602.1 234.5L603.8 235.6L605.5 236.8L607.1 238.0L608.7 239.3L610.3 240.6L611.9 241.9L613.4 243.3L614.9 244.7L616.4 246.2L617.9 247.7L619.4 249.2L620.8 250.7L622.1 252.3L623.5 253.9L624.8 255.6L626.1 257.3L627.3 259.0L628.5 260.8L629.7 262.5L630.8 264.4L631.9 266.2L633.0 268.1L634.0 270.0L634.9 271.9L635.8 273.9L636.7 275.8L637.5 277.8L638.3 279.9L639.0 281.9L639.7 284.0L640.3 286.0L640.8 288.1L641.4 290.3L641.8 292.4L642.2 294.5L642.6 296.7L642.9 298.8L643.1 301.0L643.3 303.2L643.4 305.3L643.5 307.5L643.6 309.7L643.5 311.9L643.4 314.1L643.3 316.2L643.1 318.4L642.9 320.6L642.5 322.7L642.2 324.9L641.8 327.0L641.3 329.2L640.8 331.3L640.2 333.4L639.6 335.4L638.9 337.5L638.2 339.5L637.4 341.6L636.6 343.6L635.7 345.5L634.8 347.5L633.9 349.4L632.9 351.3L631.8 353.2L630.7 355.0L629.6 356.8L628.4 358.6L627.2 360.4L626.0 362.1L624.7 363.8L623.4 365.4L622.0 367.1L620.6 368.6L619.2 370.2L617.8 371.7L616.3 373.2L614.8 374.6L613.3 376.0L611.7 377.4L610.2 378.7L608.6 380.0L606.9 381.3L605.3 382.5L603.7 383.7L602.0 384.8L600.3 385.9L598.6 387.0L596.9 388.1L595.2 389.1L593.4 390.0L591.7 391.0L589.9 391.9L588.1 392.7L586.4 393.6L584.6 394.4L582.8 395.1L581.0 395.9L579.2 396.6L577.4 397.2L575.6 397.9L573.8 398.5L572.0 399.0L570.2 399.6L568.4 400.1L566.6 400.6L564.8 401.1L563.0 401.5L561.2 401.9L559.4 402.3L557.6 402.7L555.8 403.1L554.0 403.4L552.2 403.7L550.4 404.0L548.6 404.2L546.8 404.4L545.0 404.7L543.2 404.9L541.4 405.0L539.6 405.2L537.8 405.3L536.1 405.4L534.3 405.5L532.5 405.6L530.7 405.7L528.9 405.7L527.2 405.7L525.4 405.8L523.6 405.7L521.8 405.7L520.1 405.7L518.3 405.6L516.5 405.5L514.7 405.4L512.9 405.3L511.2 405.2L509.4 405.0L507.6 404.8L505.8 404.6L504.0 404.4L502.2 404.2L500.4 403.9L498.6 403.6L496.8 403.3L495.0 403.0L493.2 402.7L491.4 402.3L489.6 401.9L487.8 401.5L486.0 401.0L484.2 400.6L482.4 400.1L480.6 399.5L478.8 399.0L477.0 398.4L475.2 397.8L473.4 397.1L471.6 396.5L469.8 395.8L468.0 395.0L466.2 394.3L464.4 393.5L462.6 392.6L460.9 391.8L459.1 390.9L457.4 389.9L455.6 389.0L453.9 387.9L452.2 386.9L450.5 385.8L448.8 384.7L447.1 383.6L445.5 382.4L443.8 381.1L442.2 379.9L440.6 378.6L439.1 377.2L437.5 375.9L436.0 374.5L434.5 373.0L433.0 371.5L431.6 370.0L430.2 368.5L428.8 366.9L427.4 365.2L426.1 363.6L424.9 361.9L423.6 360.2L422.4 358.4L421.2 356.6L420.1 354.8L419.0 353.0L418.0 351.1L417.0 349.2L416.0 347.3L415.1 345.3L414.3 343.3L413.4 341.3L412.7 339.3L412.0 337.3L411.3 335.2L410.7 333.1L410.1 331.0L409.6 328.9L409.1 326.8L408.7 324.6L408.4 322.5L408.1 320.3L407.8 318.2L407.7 316.0L407.5 313.8L407.4 311.6L407.4 309.4L407.4 307.3L407.5 305.1L407.7 302.9L407.9 300.7L408.1 298.6L408.4 296.4L408.8 294.3L409.2 292.1L409.7 290.0L410.2 287.9L410.8 285.8L411.4 283.7L412.1 281.6L412.8 279.6L413.6 277.6L414.4 275.6L415.2 273.6L416.2 271.7L417.1 269.7L418.1 267.8L419.2 266.0L420.3 264.1L421.4 262.3L422.6 260.5L423.8 258.8L425.0 257.1L426.3 255.4L427.6 253.7L429.0 252.1L430.4 250.5L431.8 249.0L433.2 247.5L434.7 246.0L436.2 244.5L437.7 243.1L439.3 241.8L440.9 240.4L442.5 239.1L444.1 237.9L445.7 236.7L447.4 235.5L449.0 234.3L450.7 233.2L452.4 232.1L454.1 231.1L455.9 230.1L457.6 229.1L459.4 228.2L461.1 227.3L462.9 226.4L464.7 225.6L466.4 224.8L468.2 224.1L470.0 223.3L471.8 222.6L473.6 222.0L475.4 221.3L477.2 220.7L479.0 220.1L480.8 219.6L482.6 219.1L484.5 218.6L486.3 218.1L488.1 217.6L489.9 217.2L491.7 216.8L493.5 216.5L495.3 216.1L497.1 215.8L498.9 215.5L500.7 215.2L502.5 215.0L504.3 214.7L506.0 214.5L507.8 214.3L509.6 214.2L511.4 214.0L513.2 213.9L515.0 213.8L516.8 213.7L518.5 213.6L520.3 213.5L522.1 213.5L523.9 213.4L525.6 213.4L527.4 213.4L529.2 213.5L531.0 213.5L532.8 213.6L534.5 213.7L536.3 213.8L538.1 213.9L539.9 214.0L541.7 214.2L543.5 214.4L545.2 214.6L547.0 214.8L548.8 215.0L550.6 215.3L552.4 215.6L554.2 215.9L556.0 216.2L557.8 216.5L559.6 216.9L561.4 217.3L563.2 217.7L565.0 218.2L566.8 218.6L568.7 219.1L570.5 219.7L572.3 220.2L574.1 220.8L575.9 221.4L577.7 222.1L579.5 222.7L581.3 223.4L583.1 224.2L584.9 224.9L586.6 225.7L588.4 226.6L590.2 227.4L591.9 228.3L593.7 229.3L595.4 230.3L597.1 231.3L598.9 232.3L600.6 233.4L602.2 234.5L603.9 235.7L605.6 236.8L607.2 238.1L608.8 239.3L610.4 240.6L612.0 242.0L613.5 243.3L615.1 244.8L616.6 246.2L618.0 247.7L619.5 249.2L620.9 250.8L622.3 252.4L623.6 254.0L624.9 255.6L626.2 257.3L627.4 259.1L628.6 260.8L629.8 262.6L630.9 264.4L632.0 266.3L633.1 268.1L634.1 270.0L635.0 272.0L635.9 273.9L636.8 275.9L637.6 277.9L638.4 279.9L639.1 282.0L639.7 284.0L640.4 286.1L640.9 288.2L641.4 290.3L641.9 292.5L642.3 294.6L642.7 296.8L643.0 298.9L643.2 301.1L643.4 303.3L643.5 305.4L643.6 307.6L643.6 309.8L643.6 312.0L643.5 314.2L643.4 316.3L643.2 318.5L642.9 320.7L642.6 322.8L642.2 325.0L641.8 327.1L641.4 329.3L640.8 331.4L640.3 333.5L639.6 335.5L639.0 337.6L638.2 339.6L637.5 341.7L636.6 343.7L635.8 345.6L634.8 347.6L633.9 349.5L632.9 351.4L631.8 353.3L630.7 355.1L629.6 356.9L628.4 358.7L627.2 360.5L626.0 362.2L624.7 363.9L623.4 365.5L622.0 367.1L620.6 368.7L619.2 370.3L617.8 371.8L616.3 373.3L614.8 374.7L613.3 376.1L611.7 377.5L610.1 378.8L608.5 380.1L606.9 381.4L605.3 382.6L603.6 383.8L601.9 384.9L600.3 386.0L598.5 387.1L596.8 388.1L595.1 389.1L593.4 390.1L591.6 391.0L589.9 391.9L588.1 392.8L586.3 393.6L584.5 394.4L582.7 395.2L580.9 395.9L579.2 396.6L577.4 397.3L575.5 397.9L573.7 398.5L571.9 399.1L570.1 399.6L568.3 400.2L566.5 400.7L564.7 401.1L562.9 401.6L561.1 402.0L559.3 402.4L557.5 402.7L555.7 403.1L553.9 403.4L552.1 403.7L550.3 404.0L548.5 404.2L546.7 404.5L544.9 404.7L543.1 404.9L541.3 405.1L539.6 405.2L537.8 405.3L536.0 405.5L534.2 405.6L532.4 405.6L530.6 405.7L528.9 405.7L527.1 405.8L525.3 405.8L523.5 405.8L521.8 405.7L520.0 405.7L518.2 405.6L516.4 405.5L514.6 405.4L512.9 405.3L511.1 405.2L509.3 405.0L507.5 404.8L505.7 404.6L503.9 404.4L502.1 404.2L500.3 403.9L498.5 403.7L496.7 403.3L494.9 403.0L493.1 402.7L491.3 402.3L489.5 401.9L487.7 401.5L485.9 401.0L484.1 400.6L482.3 400.1L480.5 399.5L478.7 399.0L476.9 398.4L475.1 397.8L473.3 397.1L471.5 396.5L469.7 395.8L467.9 395.0L466.1 394.3L464.3 393.5L462.5 392.6L460.8 391.8L459.0 390.8L457.3 389.9L455.5 388.9L453.8 387.9L452.1 386.9L450.4 385.8L448.7 384.7L447.0 383.5L445.4 382.3L443.7 381.1L442.1 379.9L440.5 378.5L439.0 377.2L437.4 375.8L435.9 374.4L434.4 373.0L432.9 371.5L431.5 370.0L430.1 368.4L428.7 366.8L427.3 365.2L426.0 363.5L424.8 361.8L423.5 360.1L422.3 358.4L421.1 356.6L420.0 354.8L418.9 352.9L417.9 351.0L416.9 349.1L415.9 347.2L415.0 345.2L414.2 343.3L413.4 341.3L412.6 339.2L411.9 337.2L411.2 335.1L410.6 333.0L410.0 330.9L409.5 328.8L409.1 326.7L408.7 324.6L408.3 322.4L408.0 320.2L407.8 318.1L407.6 315.9L407.5 313.7L407.4 311.5L407.4 309.4L407.4 307.2L407.5 305.0L407.6 302.8L407.8 300.6L408.1 298.5L408.4 296.3L408.7 294.2L409.2 292.0L409.6 289.9L410.2 287.8L410.7 285.7L411.4 283.6L412.0 281.5L412.8 279.5L413.5 277.5L414.4 275.5L415.2 273.5L416.1 271.6L417.1 269.6L418.1 267.7L419.2 265.9L420.3 264.0L421.4 262.2L422.6 260.4L423.8 258.7L425.0 257.0L426.3 255.3L427.6 253.6L429.0 252.0L430.4 250.4L431.8 248.9L433.3 247.4L434.7 245.9L436.2 244.4L437.8 243.0L439.3 241.7L440.9 240.3L442.5 239.1L444.1 237.8L445.8 236.6L447.4 235.4L449.1 234.2L450.8 233.1L452.5 232.1L454.2 231.0L455.9 230.0L457.7 229.1L459.4 228.1L461.2 227.2L462.9 226.4L464.7 225.5L466.5 224.8L468.3 224.0L470.1 223.3L471.9 222.6L473.7 221.9L475.5 221.3L477.3 220.7L479.1 220.1L480.9 219.5L482.7 219.0L484.5 218.5L486.3 218.0L488.1 217.6L489.9 217.2L491.7 216.8L493.5 216.4L495.4 216.1L497.2 215.8L498.9 215.5L500.7 215.2L502.5 214.9L504.3 214.7L506.1 214.5L507.9 214.3L509.7 214.1L511.5 214.0L513.3 213.8L515.0 213.7L516.8 213.6L518.6 213.6L520.4 213.5L522.2 213.5L523.9 213.4L525.7 213.4L527.5 213.4L529.3 213.5L531.1 213.5L532.8 213.6L534.6 213.7L536.4 213.8L538.2 213.9L540.0 214.0L541.7 214.2L543.5 214.4L545.3 214.5L547.1 214.8L548.9 215.0L550.7 215.3L552.5 215.5L554.3 215.8L556.1 216.2L557.9 216.5L559.7 216.9L561.5 217.3L563.3 217.7L565.1 218.2L566.9 218.6L568.7 219.1L570.6 219.7L572.4 220.2L574.2 220.8L576.0 221.4L577.8 222.1L579.6 222.7L581.4 223.4L583.2 224.2L584.9 224.9L586.7 225.7L588.5 226.6L590.3 227.5L592.0 228.4L593.8 229.3L595.5 230.3L597.2 231.3L599.0 232.3L600.7 233.4L602.3 234.5L604.0 235.7L605.7 236.9L607.3 238.1L608.9 239.4L610.5 240.7L612.1 242.0L613.6 243.4L615.2 244.8L616.7 246.2L618.1 247.7L619.6 249.3L621.0 250.8L622.4 252.4L623.7 254.0L625.0 255.7L626.3 257.4L627.5 259.1L628.7 260.9L629.9 262.7L631.0 264.5L632.1 266.3L633.2 268.2L634.1 270.1L635.1 272.0L636.0 274.0L636.9 276.0L637.7 278.0L638.4 280.0L639.2 282.1L639.8 284.1L640.4 286.2L641.0 288.3L641.5 290.4L642.0 292.6L642.4 294.7L642.7 296.8L643.0 299.0L643.3 301.2L643.4 303.4L643.6 305.5L643.7 307.7L643.7 309.9L643.6 312.1L643.5 314.3L643.4 316.4L643.2 318.6L642.9 320.8L642.6 322.9L642.3 325.1L641.9 327.2L641.4 329.4L640.9 331.5L640.3 333.6L639.7 335.6L639.0 337.7L638.2 339.7L637.5 341.8L636.6 343.8L635.8 345.7L634.9 347.7L633.9 349.6L632.9 351.5L631.8 353.4L630.7 355.2L629.6 357.0L628.4 358.8L627.2 360.6L626.0 362.3L624.7 364.0L623.3 365.6L622.0 367.2L620.6 368.8L619.2 370.4L617.7 371.9L616.3 373.4L614.8 374.8L613.2 376.2L611.7 377.6L610.1 378.9L608.5 380.2L606.9 381.4L605.2 382.7L603.6 383.8L601.9 385.0L600.2 386.1L598.5 387.2L596.8 388.2L595.1 389.2L593.3 390.2L591.6 391.1L589.8 392.0L588.0 392.9L586.3 393.7L584.5 394.5L582.7 395.2L580.9 396.0L579.1 396.7L577.3 397.3L575.5 398.0L573.7 398.6L571.9 399.1L570.1 399.7L568.3 400.2L566.4 400.7L564.6 401.2L562.8 401.6L561.0 402.0L559.2 402.4L557.4 402.8L555.6 403.1L553.8 403.4L552.0 403.7L550.2 404.0L548.4 404.3L546.6 404.5L544.8 404.7L543.1 404.9L541.3 405.1L539.5 405.2L537.7 405.4L535.9 405.5L534.1 405.6L532.4 405.7L530.6 405.7L528.8 405.8L527.0 405.8L525.2 405.8L523.5 405.8L521.7 405.8L519.9 405.7L518.1 405.6L516.3 405.6L514.6 405.5L512.8 405.3L511.0 405.2L509.2 405.0L507.4 404.9L505.6 404.7L503.8 404.4L502.1 404.2L500.3 403.9L498.5 403.7L496.7 403.4L494.9 403.0L493.1 402.7L491.3 402.3L489.4 401.9L487.6 401.5L485.8 401.0L484.0 400.6L482.2 400.1L480.4 399.5L478.6 399.0L476.8 398.4L475.0 397.8L473.2 397.1L471.4 396.5L469.6 395.8L467.8 395.0L466.0 394.3L464.2 393.4L462.4 392.6L460.7 391.7L458.9 390.8L457.2 389.9L455.4 388.9L453.7 387.9L452.0 386.9L450.3 385.8L448.6 384.7L446.9 383.5L445.3 382.3L443.6 381.1L442.0 379.8L440.4 378.5L438.9 377.2L437.3 375.8L435.8 374.4L434.3 372.9L432.8 371.5L431.4 369.9L430.0 368.4L428.6 366.8L427.2 365.2L425.9 363.5L424.7 361.8L423.4 360.1L422.2 358.3L421.1 356.5L419.9 354.7L418.8 352.8L417.8 351.0L416.8 349.1L415.9 347.1L414.9 345.2L414.1 343.2L413.3 341.2L412.5 339.2L411.8 337.1L411.1 335.0L410.5 333.0L410.0 330.9L409.4 328.7L409.0 326.6L408.6 324.5L408.2 322.3L407.9 320.1L407.7 318.0L407.5 315.8L407.4 313.6L407.3 311.4L407.3 309.3L407.3 307.1L407.4 304.9L407.6 302.7L407.8 300.5L408.0 298.4L408.3 296.2L408.7 294.1L409.1 291.9L409.6 289.8L410.1 287.7L410.7 285.6L411.3 283.5L412.0 281.4L412.7 279.4L413.5 277.4L414.3 275.4L415.2 273.4L416.1 271.5L417.1 269.5L418.1 267.6L419.2 265.8L420.3 263.9L421.4 262.1L422.6 260.3L423.8 258.6L425.1 256.9L426.3 255.2L427.7 253.5L429.0 251.9L430.4 250.3L431.8 248.8L433.3 247.3L434.8 245.8L436.3 244.4L437.8 243.0L439.4 241.6L440.9 240.3L442.5 239.0L444.2 237.7L445.8 236.5L447.5 235.3L449.1 234.2L450.8 233.1L452.5 232.0L454.2 231.0L456.0 230.0L457.7 229.0L459.5 228.1L461.2 227.2L463.0 226.3L464.8 225.5L466.6 224.7L468.3 223.9L470.1 223.2L471.9 222.5L473.7 221.8L475.5 221.2L477.4 220.6L479.2 220.0L481.0 219.5L482.8 219.0L484.6 218.5L486.4 218.0L488.2 217.6L490.0 217.1L491.8 216.8L493.6 216.4L495.4 216.1L497.2 215.7L499.0 215.4L500.8 215.2L502.6 214.9L504.4 214.7L506.2 214.5L508.0 214.3L509.8 214.1L511.6 214.0L513.3 213.8L515.1 213.7L516.9 213.6L518.7 213.5L520.5 213.5L522.2 213.4L524.0 213.4L525.8 213.4L527.6 213.4L529.4 213.4L531.1 213.5L532.9 213.6L534.7 213.6L536.5 213.7L538.3 213.9L540.0 214.0L541.8 214.2L543.6 214.3L545.4 214.5L547.2 214.8L549.0 215.0L550.8 215.3L552.6 215.5L554.4 215.8L556.2 216.2L558.0 216.5L559.8 216.9L561.6 217.3L563.4 217.7L565.2 218.2L567.0 218.6L568.8 219.1L570.6 219.7L572.5 220.2L574.3 220.8L576.1 221.4L577.9 222.1L579.7 222.7L581.5 223.4L583.3 224.2L585.0 225.0L586.8 225.8L588.6 226.6L590.4 227.5L592.1 228.4L593.9 229.3L595.6 230.3L597.3 231.3L599.1 232.3L600.8 233.4L602.4 234.5L604.1 235.7L605.8 236.9L607.4 238.1L609.0 239.4L610.6 240.7L612.2 242.0L613.7 243.4L615.3 244.8L616.8 246.3L618.2 247.8L619.7 249.3L621.1 250.9L622.5 252.4L623.8 254.1L625.1 255.7L626.4 257.4L627.6 259.2L628.8 260.9L630.0 262.7L631.1 264.5L632.2 266.4L633.2 268.3L634.2 270.2L635.2 272.1L636.1 274.1L637.0 276.0L637.8 278.1L638.5 280.1L639.2 282.1L639.9 284.2L640.5 286.3L641.1 288.4L641.6 290.5L642.0 292.6L642.4 294.8L642.8 296.9L643.1 299.1L643.3 301.3L643.5 303.4L643.6 305.6L643.7 307.8L643.7 310.0L643.7 312.2L643.6 314.4L643.4 316.5L643.2 318.7L643.0 320.9L642.7 323.0L642.3 325.2L641.9 327.3L641.4 329.5L640.9 331.6L640.3 333.7L639.7 335.7L639.0 337.8L638.3 339.8L637.5 341.9L636.7 343.9L635.8 345.8L634.9 347.8L633.9 349.7L632.9 351.6L631.8 353.5L630.7 355.3L629.6 357.1L628.4 358.9L627.2 360.7L625.9 362.4L624.7 364.1L623.3 365.7L622.0 367.3L620.6 368.9L619.2 370.5L617.7 372.0L616.2 373.4L614.7 374.9L613.2 376.3L611.6 377.7L610.1 379.0L608.4 380.3L606.8 381.5L605.2 382.7L603.5 383.9L601.9 385.1L600.2 386.2L598.5 387.2L596.7 388.3L595.0 389.3L593.3 390.2L591.5 391.2L589.7 392.1L588.0 392.9L586.2 393.7L584.4 394.5L582.6 395.3L580.8 396.0L579.0 396.7L577.2 397.4L575.4 398.0L573.6 398.6L571.8 399.2L570.0 399.7L568.2 400.3L566.4 400.8L564.6 401.2L562.8 401.7L561.0 402.1L559.2 402.5L557.3 402.8L555.5 403.2L553.7 403.5L551.9 403.8L550.1 404.1L548.4 404.3L546.6 404.5L544.8 404.8L543.0 404.9L541.2 405.1L539.4 405.3L537.6 405.4L535.8 405.5L534.1 405.6L532.3 405.7L530.5 405.7L528.7 405.8L526.9 405.8L525.2 405.8L523.4 405.8L521.6 405.8L519.8 405.7L518.0 405.7L516.3 405.6L514.5 405.5L512.7 405.4L510.9 405.2L509.1 405.1L507.3 404.9L505.6 404.7L503.8 404.5L502.0 404.2L500.2 404.0L498.4 403.7L496.6 403.4L494.8 403.0L493.0 402.7L491.2 402.3L489.4 401.9L487.5 401.5L485.7 401.0L483.9 400.6L482.1 400.1L480.3 399.5L478.5 399.0L476.7 398.4L474.9 397.8L473.1 397.1L471.3 396.5L469.5 395.8L467.7 395.0L465.9 394.2L464.1 393.4L462.3 392.6L460.6 391.7L458.8 390.8L457.1 389.9L455.3 388.9L453.6 387.9L451.9 386.8L450.2 385.8L448.5 384.6L446.8 383.5L445.2 382.3L443.5 381.1L441.9 379.8L440.3 378.5L438.8 377.1L437.2 375.8L435.7 374.4L434.2 372.9L432.7 371.4L431.3 369.9L429.9 368.3L428.5 366.7L427.2 365.1L425.8 363.4L424.6 361.7L423.3 360.0L422.1 358.3L421.0 356.5L419.8 354.6L418.7 352.8L417.7 350.9L416.7 349.0L415.8 347.1L414.9 345.1L414.0 343.1L413.2 341.1L412.4 339.1L411.7 337.0L411.1 335.0L410.4 332.9L409.9 330.8L409.4 328.7L408.9 326.5L408.5 324.4L408.2 322.2L407.9 320.1L407.6 317.9L407.5 315.7L407.3 313.5L407.3 311.3L407.2 309.2L407.3 307.0L407.4 304.8L407.5 302.6L407.7 300.4L408.0 298.3L408.3 296.1L408.7 294.0L409.1 291.8L409.6 289.7L410.1 287.6L410.7 285.5L411.3 283.4L412.0 281.3L412.7 279.3L413.5 277.3L414.3 275.3L415.2 273.3L416.1 271.4L417.1 269.4L418.1 267.5L419.2 265.7L420.3 263.8L421.4 262.0L422.6 260.2L423.8 258.5L425.1 256.8L426.4 255.1L427.7 253.4L429.0 251.8L430.4 250.2L431.9 248.7L433.3 247.2L434.8 245.7L436.3 244.3L437.8 242.9L439.4 241.5L441.0 240.2L442.6 238.9L444.2 237.6L445.8 236.4L447.5 235.2L449.2 234.1L450.9 233.0L452.6 231.9L454.3 230.9L456.0 229.9L457.8 228.9L459.5 228.0L461.3 227.1L463.1 226.2L464.8 225.4L466.6 224.6L468.4 223.9L470.2 223.1L472.0 222.5L473.8 221.8L475.6 221.2L477.4 220.6L479.2 220.0L481.0 219.4L482.8 218.9L484.7 218.4L486.5 218.0L488.3 217.5L490.1 217.1L491.9 216.7L493.7 216.4L495.5 216.0L497.3 215.7L499.1 215.4L500.9 215.1L502.7 214.9L504.5 214.6L506.3 214.4L508.1 214.2L509.8 214.1L511.6 213.9L513.4 213.8L515.2 213.7L517.0 213.6L518.8 213.5L520.5 213.4L522.3 213.4L524.1 213.4L525.9 213.4L527.7 213.4L529.4 213.4L531.2 213.5L533.0 213.5L534.8 213.6L536.6 213.7L538.3 213.8L540.1 214.0L541.9 214.1L543.7 214.3L545.5 214.5L547.3 214.7L549.1 215.0L550.9 215.2L552.7 215.5L554.5 215.8L556.3 216.2L558.1 216.5L559.9 216.9L561.7 217.3L563.5 217.7L565.3 218.1L567.1 218.6L568.9 219.1L570.7 219.7L572.5 220.2L574.4 220.8L576.2 221.4L578.0 222.1L579.8 222.7L581.6 223.4L583.4 224.2L585.1 225.0L586.9 225.8L588.7 226.6L590.5 227.5L592.2 228.4L594.0 229.3L595.7 230.3L597.4 231.3L599.2 232.4L600.9 233.4L602.5 234.6L604.2 235.7L605.9 236.9L607.5 238.2L609.1 239.4L610.7 240.7L612.3 242.1L613.8 243.5L615.4 244.9L616.9 246.3L618.3 247.8L619.8 249.3L621.2 250.9L622.6 252.5L623.9 254.1L625.2 255.8L626.5 257.5L627.7 259.2L628.9 261.0L630.1 262.8L631.2 264.6L632.3 266.4L633.3 268.3L634.3 270.2L635.3 272.2L636.2 274.1L637.0 276.1L637.9 278.1L638.6 280.2L639.3 282.2L640.0 284.3L640.6 286.4L641.2 288.5L641.7 290.6L642.1 292.7L642.5 294.9L642.9 297.0L643.2 299.2L643.4 301.4L643.6 303.5L643.7 305.7L643.8 307.9L643.8 310.1L643.7 312.3L643.6 314.5L643.5 316.6L643.3 318.8L643.0 321.0L642.7 323.1L642.3 325.3L641.9 327.4L641.4 329.6L640.9 331.7L640.3 333.8L639.7 335.8L639.0 337.9L638.3 339.9L637.5 342.0L636.7 344.0L635.8 345.9L634.9 347.9L633.9 349.8L632.9 351.7L631.8 353.6L630.7 355.4L629.6 357.2L628.4 359.0L627.2 360.8L625.9 362.5L624.6 364.2L623.3 365.8L622.0 367.4L620.6 369.0L619.1 370.6L617.7 372.1L616.2 373.5L614.7 375.0L613.2 376.4L611.6 377.7L610.0 379.1L608.4 380.4L606.8 381.6L605.1 382.8L603.5 384.0L601.8 385.1L600.1 386.2L598.4 387.3L596.7 388.3L595.0 389.3L593.2 390.3L591.5 391.2L589.7 392.1L587.9 393.0L586.1 393.8L584.4 394.6L582.6 395.4L580.8 396.1L579.0 396.8L577.2 397.4L575.4 398.1L573.6 398.7L571.7 399.2L569.9 399.8L568.1 400.3L566.3 400.8L564.5 401.3L562.7 401.7L560.9 402.1L559.1 402.5L557.3 402.9L555.5 403.2L553.7 403.5L551.9 403.8L550.1 404.1L548.3 404.3L546.5 404.6L544.7 404.8L542.9 405.0L541.1 405.1L539.3 405.3L537.5 405.4L535.8 405.5L534.0 405.6L532.2 405.7L530.4 405.8L528.6 405.8L526.9 405.8L525.1 405.8L523.3 405.8L521.5 405.8L519.7 405.7L518.0 405.7L516.2 405.6L514.4 405.5L512.6 405.4L510.8 405.2L509.0 405.1L507.3 404.9L505.5 404.7L503.7 404.5L501.9 404.2L500.1 404.0L498.3 403.7L496.5 403.4L494.7 403.1L492.9 402.7L491.1 402.3L489.3 401.9L487.5 401.5L485.6 401.1L483.8 400.6L482.0 400.1L480.2 399.5L478.4 399.0L476.6 398.4L474.8 397.8L473.0 397.1L471.2 396.5L469.4 395.8L467.6 395.0L465.8 394.2L464.0 393.4L462.3 392.6L460.5 391.7L458.7 390.8L457.0 389.9L455.2 388.9L453.5 387.9L451.8 386.8L450.1 385.7L448.4 384.6L446.7 383.5L445.1 382.3L443.4 381.0L441.8 379.8L440.2 378.5L438.7 377.1L437.1 375.7L435.6 374.3L434.1 372.9L432.6 371.4L431.2 369.8L429.8 368.3L428.4 366.7L427.1 365.1L425.7 363.4L424.5 361.7L423.2 360.0L422.0 358.2L420.9 356.4L419.7 354.6L418.7 352.7L417.6 350.8L416.6 348.9L415.7 347.0L414.8 345.0L413.9 343.0L413.1 341.0L412.3 339.0L411.6 337.0L411.0 334.9L410.4 332.8L409.8 330.7L409.3 328.6L408.9 326.4L408.5 324.3L408.1 322.1L407.8 320.0L407.6 317.8L407.4 315.6L407.3 313.4L407.2 311.3L407.2 309.1L407.2 306.9L407.3 304.7L407.5 302.5L407.7 300.3L408.0 298.2L408.3 296.0L408.6 293.9L409.1 291.7L409.5 289.6L410.1 287.5L410.7 285.4L411.3 283.3L412.0 281.2L412.7 279.2L413.5 277.2L414.3 275.2L415.2 273.2L416.1 271.3L417.1 269.3L418.1 267.4L419.2 265.6L420.3 263.7L421.4 261.9L422.6 260.1L423.8 258.4L425.1 256.7L426.4 255.0L427.7 253.3L429.1 251.7L430.5 250.1L431.9 248.6L433.3 247.1L434.8 245.6L436.3 244.2L437.9 242.8L439.4 241.4L441.0 240.1L442.6 238.8L444.2 237.6L445.9 236.3L447.5 235.2L449.2 234.0L450.9 232.9L452.6 231.8L454.3 230.8L456.1 229.8L457.8 228.9L459.6 227.9L461.3 227.0L463.1 226.2L464.9 225.4L466.7 224.6L468.5 223.8L470.3 223.1L472.1 222.4L473.9 221.7L475.7 221.1L477.5 220.5L479.3 219.9L481.1 219.4L482.9 218.9L484.7 218.4L486.5 217.9L488.3 217.5L490.1 217.1L492.0 216.7L493.8 216.3L495.6 216.0L497.4 215.7L499.2 215.4L501.0 215.1L502.8 214.8L504.5 214.6L506.3 214.4L508.1 214.2L509.9 214.0L511.7 213.9L513.5 213.8L515.3 213.6L517.1 213.5L518.8 213.5L520.6 213.4L522.4 213.4L524.2 213.4L526.0 213.3L527.7 213.4L529.5 213.4L531.3 213.4L533.1 213.5L534.9 213.6L536.6 213.7L538.4 213.8L540.2 214.0L542.0 214.1L543.8 214.3L545.6 214.5L547.4 214.7L549.2 215.0L551.0 215.2L552.8 215.5L554.6 215.8L556.4 216.1L558.2 216.5L560.0 216.9L561.8 217.3L563.6 217.7L565.4 218.1L567.2 218.6L569.0 219.1L570.8 219.6L572.6 220.2L574.4 220.8L576.3 221.4L578.1 222.1L579.9 222.7L581.7 223.4L583.5 224.2L585.2 225.0L587.0 225.8L588.8 226.6L590.6 227.5L592.3 228.4L594.1 229.3L595.8 230.3L597.5 231.3L599.3 232.4L601.0 233.5L602.6 234.6L604.3 235.7L606.0 236.9L607.6 238.2L609.2 239.5L610.8 240.8L612.4 242.1L613.9 243.5L615.5 244.9L617.0 246.4L618.4 247.9L619.9 249.4L621.3 250.9L622.6 252.5L624.0 254.2L625.3 255.8L626.6 257.5L627.8 259.3L629.0 261.0L630.2 262.8L631.3 264.7L632.4 266.5L633.4 268.4L634.4 270.3L635.4 272.2L636.3 274.2L637.1 276.2L637.9 278.2L638.7 280.2L639.4 282.3L640.1 284.4L640.7 286.4L641.2 288.6L641.7 290.7L642.2 292.8L642.6 295.0L642.9 297.1L643.2 299.3L643.4 301.4L643.6 303.6L643.8 305.8L643.8 308.0L643.8 310.2L643.8 312.4L643.7 314.6L643.5 316.7L643.3 318.9L643.1 321.1L642.7 323.2L642.4 325.4L642.0 327.5L641.5 329.7L640.9 331.8L640.4 333.9L639.7 335.9L639.0 338.0L638.3 340.0L637.5 342.1L636.7 344.1L635.8 346.0L634.9 348.0L633.9 349.9L632.9 351.8L631.8 353.7L630.7 355.5L629.6 357.3L628.4 359.1L627.2 360.9L625.9 362.6L624.6 364.3L623.3 365.9L621.9 367.5L620.5 369.1L619.1 370.6L617.7 372.2L616.2 373.6L614.7 375.1L613.1 376.5L611.6 377.8L610.0 379.1L608.4 380.4L606.7 381.7L605.1 382.9L603.4 384.1L601.8 385.2L600.1 386.3L598.4 387.4L596.6 388.4L594.9 389.4L593.2 390.4L591.4 391.3L589.6 392.2L587.9 393.0L586.1 393.9L584.3 394.7L582.5 395.4L580.7 396.1L578.9 396.8L577.1 397.5L575.3 398.1L573.5 398.7L571.7 399.3L569.9 399.8L568.1 400.4L566.2 400.9L564.4 401.3L562.6 401.8L560.8 402.2L559.0 402.5L557.2 402.9L555.4 403.3L553.6 403.6L551.8 403.9L550.0 404.1L548.2 404.4L546.4 404.6L544.6 404.8L542.8 405.0L541.0 405.2L539.3 405.3L537.5 405.5L535.7 405.6L533.9 405.7L532.1 405.7L530.3 405.8L528.6 405.8L526.8 405.9L525.0 405.9L523.2 405.9L521.4 405.8L519.7 405.8L517.9 405.7L516.1 405.6L514.3 405.5L512.5 405.4L510.8 405.3L509.0 405.1L507.2 404.9L505.4 404.7L503.6 404.5L501.8 404.2L500.0 404.0L498.2 403.7L496.4 403.4L494.6 403.1L492.8 402.7L491.0 402.3L489.2 401.9L487.4 401.5L485.6 401.1L483.7 400.6L481.9 400.1L480.1 399.6L478.3 399.0L476.5 398.4L474.7 397.8L472.9 397.1L471.1 396.5L469.3 395.7L467.5 395.0L465.7 394.2L463.9 393.4L462.2 392.6L460.4 391.7L458.6 390.8L456.9 389.9L455.1 388.9L453.4 387.9L451.7 386.8L450.0 385.7L448.3 384.6L446.6 383.4L445.0 382.2L443.3 381.0L441.7 379.7L440.1 378.4L438.6 377.1L437.0 375.7L435.5 374.3L434.0 372.8L432.5 371.3L431.1 369.8L429.7 368.2L428.3 366.6L427.0 365.0L425.6 363.3L424.4 361.6L423.1 359.9L421.9 358.1L420.8 356.3L419.7 354.5L418.6 352.7L417.5 350.8L416.5 348.9L415.6 346.9L414.7 345.0L413.8 343.0L413.0 341.0L412.3 338.9L411.6 336.9L410.9 334.8L410.3 332.7L409.7 330.6L409.2 328.5L408.8 326.4L408.4 324.2L408.0 322.0L407.8 319.9L407.5 317.7L407.3 315.5L407.2 313.3L407.2 311.2L407.1 309.0L407.2 306.8L407.3 304.6L407.4 302.4L407.7 300.2L407.9 298.1L408.2 295.9L408.6 293.8L409.0 291.6L409.5 289.5L410.0 287.4L410.6 285.3L411.3 283.2L412.0 281.1L412.7 279.1L413.5 277.1L414.3 275.1L415.2 273.1L416.1 271.2L417.1 269.2L418.1 267.3L419.2 265.5L420.3 263.6L421.4 261.8L422.6 260.0L423.8 258.3L425.1 256.6L426.4 254.9L427.7 253.2L429.1 251.6L430.5 250.1L431.9 248.5L433.4 247.0L434.8 245.5L436.4 244.1L437.9 242.7L439.5 241.3L441.0 240.0L442.6 238.7L444.3 237.5L445.9 236.3L447.6 235.1L449.3 233.9L451.0 232.8L452.7 231.8L454.4 230.7L456.1 229.7L457.9 228.8L459.6 227.9L461.4 227.0L463.2 226.1L464.9 225.3L466.7 224.5L468.5 223.8L470.3 223.0L472.1 222.3L473.9 221.7L475.7 221.0L477.5 220.4L479.4 219.9L481.2 219.3L483.0 218.8L484.8 218.3L486.6 217.9L488.4 217.4L490.2 217.0L492.0 216.6L493.8 216.3L495.6 215.9L497.4 215.6L499.2 215.3L501.0 215.1L502.8 214.8L504.6 214.6L506.4 214.4L508.2 214.2L510.0 214.0L511.8 213.9L513.6 213.7L515.3 213.6L517.1 213.5L518.9 213.4L520.7 213.4L522.5 213.3L524.3 213.3L526.0 213.3L527.8 213.3L529.6 213.4L531.4 213.4L533.2 213.5L534.9 213.6L536.7 213.7L538.5 213.8L540.3 213.9L542.1 214.1L543.9 214.3L545.7 214.5L547.4 214.7L549.2 214.9L551.0 215.2L552.8 215.5L554.6 215.8L556.4 216.1L558.3 216.5L560.1 216.9L561.9 217.3L563.7 217.7L565.5 218.1L567.3 218.6L569.1 219.1L570.9 219.6L572.7 220.2L574.5 220.8L576.3 221.4L578.1 222.1L580.0 222.7L581.8 223.5L583.5 224.2L585.3 225.0L587.1 225.8L588.9 226.6L590.7 227.5L592.4 228.4L594.2 229.4L595.9 230.3L597.6 231.3L599.4 232.4L601.1 233.5L602.7 234.6L604.4 235.8L606.1 237.0L607.7 238.2L609.3 239.5L610.9 240.8L612.5 242.1L614.0 243.5L615.6 244.9L617.0 246.4L618.5 247.9L620.0 249.4L621.4 251.0L622.7 252.6L624.1 254.2L625.4 255.9L626.7 257.6L627.9 259.3L629.1 261.1L630.3 262.9L631.4 264.7L632.5 266.6L633.5 268.5L634.5 270.4L635.4 272.3L636.3 274.3L637.2 276.3L638.0 278.3L638.8 280.3L639.5 282.4L640.1 284.4L640.7 286.5L641.3 288.6L641.8 290.8L642.2 292.9L642.6 295.0L643.0 297.2L643.3 299.4L643.5 301.5L643.7 303.7L643.8 305.9L643.9 308.1L643.9 310.3L643.8 312.5L643.7 314.6L643.6 316.8L643.4 319.0L643.1 321.2L642.8 323.3L642.4 325.5L642.0 327.6L641.5 329.8L641.0 331.9L640.4 334.0L639.7 336.0L639.0 338.1L638.3 340.1L637.5 342.2L636.7 344.2L635.8 346.1L634.9 348.1L633.9 350.0L632.9 351.9L631.8 353.8L630.7 355.6L629.6 357.4L628.4 359.2L627.2 361.0L625.9 362.7L624.6 364.3L623.3 366.0L621.9 367.6L620.5 369.2L619.1 370.7L617.6 372.2L616.1 373.7L614.6 375.1L613.1 376.5L611.5 377.9L609.9 379.2L608.3 380.5L606.7 381.8L605.1 383.0L603.4 384.2L601.7 385.3L600.0 386.4L598.3 387.5L596.6 388.5L594.8 389.5L593.1 390.4L591.3 391.4L589.6 392.3L587.8 393.1L586.0 393.9L584.2 394.7L582.4 395.5L580.6 396.2L578.8 396.9L577.0 397.5L575.2 398.2L573.4 398.8L571.6 399.3L569.8 399.9L568.0 400.4L566.2 400.9L564.4 401.4L562.6 401.8L560.8 402.2L558.9 402.6L557.1 403.0L555.3 403.3L553.5 403.6L551.7 403.9L549.9 404.2L548.1 404.4L546.3 404.6L544.6 404.9L542.8 405.0L541.0 405.2L539.2 405.4L537.4 405.5L535.6 405.6L533.8 405.7L532.1 405.8L530.3 405.8L528.5 405.9L526.7 405.9L524.9 405.9L523.2 405.9L521.4 405.8L519.6 405.8L517.8 405.7L516.0 405.6L514.2 405.5L512.5 405.4L510.7 405.3L508.9 405.1L507.1 404.9L505.3 404.7L503.5 404.5L501.7 404.3L499.9 404.0L498.1 403.7L496.3 403.4L494.5 403.1L492.7 402.7L490.9 402.3L489.1 401.9L487.3 401.5L485.5 401.1L483.7 400.6L481.8 400.1L480.0 399.6L478.2 399.0L476.4 398.4L474.6 397.8L472.8 397.1L471.0 396.5L469.2 395.7L467.4 395.0L465.6 394.2L463.8 393.4L462.1 392.6L460.3 391.7L458.5 390.8L456.8 389.8L455.0 388.9L453.3 387.8L451.6 386.8L449.9 385.7L448.2 384.6L446.5 383.4L444.9 382.2L443.2 381.0L441.6 379.7L440.0 378.4L438.5 377.0L436.9 375.7L435.4 374.2L433.9 372.8L432.4 371.3L431.0 369.8L429.6 368.2L428.2 366.6L426.9 365.0L425.6 363.3L424.3 361.6L423.0 359.8L421.8 358.1L420.7 356.3L419.6 354.5L418.5 352.6L417.5 350.7L416.5 348.8L415.5 346.9L414.6 344.9L413.8 342.9L413.0 340.9L412.2 338.8L411.5 336.8L410.8 334.7L410.2 332.6L409.7 330.5L409.2 328.4L408.7 326.3L408.3 324.1L408.0 322.0L407.7 319.8L407.5 317.6L407.3 315.4L407.2 313.3L407.1 311.1L407.1 308.9L407.2 306.7L407.3 304.5L407.4 302.3L407.6 300.1L407.9 298.0L408.2 295.8L408.6 293.7L409.0 291.5L409.5 289.4L410.0 287.3L410.6 285.2L411.3 283.1L412.0 281.0L412.7 279.0L413.5 277.0L414.3 275.0L415.2 273.0L416.1 271.1L417.1 269.1L418.1 267.2L419.2 265.4L420.3 263.5L421.4 261.7L422.6 259.9L423.9 258.2L425.1 256.5L426.4 254.8L427.7 253.2L429.1 251.5L430.5 250.0L431.9 248.4L433.4 246.9L434.9 245.5L436.4 244.0L437.9 242.6L439.5 241.3L441.1 239.9L442.7 238.7L444.3 237.4L446.0 236.2L447.6 235.0L449.3 233.9L451.0 232.8L452.7 231.7L454.4 230.7L456.2 229.7L457.9 228.7L459.7 227.8L461.5 226.9L463.2 226.1L465.0 225.2L466.8 224.5L468.6 223.7L470.4 223.0L472.2 222.3L474.0 221.6L475.8 221.0L477.6 220.4L479.4 219.8L481.2 219.3L483.0 218.8L484.9 218.3L486.7 217.8L488.5 217.4L490.3 217.0L492.1 216.6L493.9 216.2L495.7 215.9L497.5 215.6L499.3 215.3L501.1 215.0L502.9 214.8L504.7 214.5L506.5 214.3L508.3 214.1L510.1 214.0L511.9 213.8L513.6 213.7L515.4 213.6L517.2 213.5L519.0 213.4L520.8 213.4L522.5 213.3L524.3 213.3L526.1 213.3L527.9 213.3L529.7 213.3L531.4 213.4L533.2 213.5L535.0 213.6L536.8 213.7L538.6 213.8L540.4 213.9L542.2 214.1L543.9 214.3L545.7 214.5L547.5 214.7L549.3 214.9L551.1 215.2L552.9 215.5L554.7 215.8L556.5 216.1L558.3 216.5L560.1 216.9L562.0 217.3L563.8 217.7L565.6 218.1L567.4 218.6L569.2 219.1L571.0 219.6L572.8 220.2L574.6 220.8L576.4 221.4L578.2 222.1L580.0 222.8L581.8 223.5L583.6 224.2L585.4 225.0L587.2 225.8L589.0 226.6L590.8 227.5L592.5 228.4L594.3 229.4L596.0 230.4L597.7 231.4L599.5 232.4L601.2 233.5L602.8 234.6L604.5 235.8L606.2 237.0L607.8 238.2L609.4 239.5L611.0 240.8L612.6 242.2L614.1 243.6L615.6 245.0L617.1 246.4L618.6 247.9L620.0 249.5L621.5 251.0L622.8 252.6L624.2 254.3L625.5 255.9L626.8 257.7L628.0 259.4L629.2 261.2L630.4 263.0L631.5 264.8L632.5 266.6L633.6 268.5L634.6 270.4L635.5 272.4L636.4 274.4L637.3 276.3L638.1 278.4L638.8 280.4L639.5 282.4L640.2 284.5L640.8 286.6L641.3 288.7L641.8 290.8L642.3 293.0L642.7 295.1L643.0 297.3L643.3 299.5L643.5 301.6L643.7 303.8L643.8 306.0L643.9 308.2L643.9 310.4L643.9 312.6L643.8 314.7L643.6 316.9L643.4 319.1L643.1 321.3L642.8 323.4L642.4 325.6L642.0 327.7L641.5 329.9L641.0 332.0L640.4 334.1L639.7 336.1L639.0 338.2L638.3 340.2L637.5 342.3L636.7 344.3L635.8 346.2L634.9 348.2L633.9 350.1L632.9 352.0L631.8 353.9L630.7 355.7L629.5 357.5L628.4 359.3L627.1 361.0L625.9 362.8L624.6 364.4L623.2 366.1L621.9 367.7L620.5 369.3L619.0 370.8L617.6 372.3L616.1 373.8L614.6 375.2L613.0 376.6L611.5 378.0L609.9 379.3L608.3 380.6L606.7 381.8L605.0 383.0L603.3 384.2L601.7 385.4L600.0 386.5L598.2 387.5L596.5 388.6L594.8 389.5L593.0 390.5L591.3 391.4L589.5 392.3L587.7 393.2L586.0 394.0L584.2 394.8L582.4 395.5L580.6 396.2L578.8 396.9L577.0 397.6L575.2 398.2L573.4 398.8L571.5 399.4L569.7 399.9L567.9 400.4L566.1 400.9L564.3 401.4L562.5 401.8L560.7 402.2L558.9 402.6L557.1 403.0L555.3 403.3L553.5 403.6L551.7 403.9L549.9 404.2L548.1 404.4L546.3 404.7L544.5 404.9L542.7 405.1L540.9 405.2L539.1 405.4L537.3 405.5L535.5 405.6L533.8 405.7L532.0 405.8L530.2 405.8L528.4 405.9L526.6 405.9L524.9 405.9L523.1 405.9L521.3 405.9L519.5 405.8L517.7 405.7L515.9 405.7L514.2 405.5L512.4 405.4L510.6 405.3L508.8 405.1L507.0 404.9L505.2 404.7L503.4 404.5L501.6 404.3L499.8 404.0L498.0 403.7L496.2 403.4L494.4 403.1L492.6 402.7L490.8 402.3L489.0 401.9L487.2 401.5L485.4 401.1L483.6 400.6L481.8 400.1L479.9 399.5L478.1 399.0L476.3 398.4L474.5 397.8L472.7 397.1L470.9 396.4L469.1 395.7L467.3 395.0L465.5 394.2L463.7 393.4L462.0 392.6L460.2 391.7L458.4 390.8L456.7 389.8L454.9 388.8L453.2 387.8L451.5 386.8L449.8 385.7L448.1 384.5L446.4 383.4L444.8 382.2L443.2 380.9L441.5 379.7L440.0 378.3L438.4 377.0L436.8 375.6L435.3 374.2L433.8 372.7L432.4 371.2L430.9 369.7L429.5 368.1L428.1 366.5L426.8 364.9L425.5 363.2L424.2 361.5L423.0 359.8L421.8 358.0L420.6 356.2L419.5 354.4L418.4 352.5L417.4 350.6L416.4 348.7L415.5 346.8L414.6 344.8L413.7 342.8L412.9 340.8L412.1 338.8L411.4 336.7L410.8 334.6L410.2 332.5L409.6 330.4L409.1 328.3L408.7 326.2L408.3 324.0L408.0 321.9L407.7 319.7L407.4 317.5L407.3 315.3L407.1 313.2L407.1 311.0L407.1 308.8L407.1 306.6L407.2 304.4L407.4 302.2L407.6 300.0L407.9 297.9L408.2 295.7L408.6 293.6L409.0 291.4L409.5 289.3L410.0 287.2L410.6 285.1L411.3 283.0L412.0 280.9L412.7 278.9L413.5 276.9L414.3 274.9L415.2 272.9L416.2 271.0L417.1 269.0L418.2 267.2L419.2 265.3L420.3 263.4L421.5 261.6L422.7 259.9L423.9 258.1L425.2 256.4L426.5 254.7L427.8 253.1L429.2 251.5L430.6 249.9L432.0 248.4L433.4 246.8L434.9 245.4L436.4 243.9L438.0 242.5L439.6 241.2L441.1 239.9L442.7 238.6L444.4 237.3L446.0 236.1L447.7 234.9L449.4 233.8L451.1 232.7L452.8 231.6L454.5 230.6L456.2 229.6L458.0 228.7L459.8 227.8L461.5 226.9L463.3 226.0L465.1 225.2L466.9 224.4L468.7 223.7L470.5 222.9L472.3 222.2L474.1 221.6L475.9 221.0L477.7 220.4L479.5 219.8L481.3 219.2L483.1 218.7L484.9 218.2L486.7 217.8L488.5 217.4L490.4 216.9L492.2 216.6L494.0 216.2L495.8 215.9L497.6 215.6L499.4 215.3L501.2 215.0L503.0 214.7L504.8 214.5L506.6 214.3L508.4 214.1L510.1 214.0L511.9 213.8L513.7 213.7L515.5 213.6L517.3 213.5L519.1 213.4L520.8 213.3L522.6 213.3L524.4 213.3L526.2 213.3L528.0 213.3L529.7 213.3L531.5 213.4L533.3 213.5L535.1 213.5L536.9 213.7L538.7 213.8L540.4 213.9L542.2 214.1L544.0 214.3L545.8 214.5L547.6 214.7L549.4 214.9L551.2 215.2L553.0 215.5L554.8 215.8L556.6 216.1L558.4 216.5L560.2 216.9L562.0 217.3L563.8 217.7L565.7 218.1L567.5 218.6L569.3 219.1L571.1 219.7L572.9 220.2L574.7 220.8L576.5 221.4L578.3 222.1L580.1 222.8L581.9 223.5L583.7 224.2L585.5 225.0L587.3 225.8L589.1 226.7L590.8 227.5L592.6 228.5L594.4 229.4L596.1 230.4L597.8 231.4L599.5 232.5L601.2 233.6L602.9 234.7L604.6 235.8L606.2 237.0L607.9 238.3L609.5 239.6L611.1 240.9L612.7 242.2L614.2 243.6L615.7 245.0L617.2 246.5L618.7 248.0L620.1 249.5L621.5 251.1L622.9 252.7L624.2 254.3L625.6 256.0L626.8 257.7L628.1 259.5L629.3 261.2L630.4 263.0L631.5 264.9L632.6 266.7L633.6 268.6L634.6 270.5L635.6 272.5L636.5 274.4L637.3 276.4L638.1 278.4L638.9 280.5L639.6 282.5L640.2 284.6L640.8 286.7L641.4 288.8L641.9 290.9L642.3 293.1L642.7 295.2L643.1 297.4L643.3 299.5L643.6 301.7L643.7 303.9L643.9 306.1L643.9 308.3L643.9 310.5L643.9 312.7L643.8 314.8L643.6 317.0L643.4 319.2L643.1 321.4L642.8 323.5L642.4 325.7L642.0 327.8L641.5 329.9L641.0 332.1L640.4 334.2L639.7 336.2L639.0 338.3L638.3 340.3L637.5 342.4L636.7 344.4L635.8 346.3L634.8 348.3L633.9 350.2L632.8 352.1L631.8 354.0L630.7 355.8L629.5 357.6L628.3 359.4L627.1 361.1L625.8 362.8L624.5 364.5L623.2 366.2L621.8 367.8L620.4 369.3L619.0 370.9L617.5 372.4L616.0 373.9L614.5 375.3L613.0 376.7L611.4 378.0L609.8 379.4L608.2 380.6L606.6 381.9L604.9 383.1L603.3 384.3L601.6 385.4L599.9 386.5L598.2 387.6L596.5 388.6L594.7 389.6L593.0 390.6L591.2 391.5L589.4 392.4L587.7 393.2L585.9 394.0L584.1 394.8L582.3 395.6L580.5 396.3L578.7 397.0L576.9 397.6L575.1 398.3L573.3 398.9L571.5 399.4L569.7 400.0L567.8 400.5L566.0 401.0L564.2 401.4L562.4 401.9L560.6 402.3L558.8 402.7L557.0 403.0L555.2 403.3L553.4 403.7L551.6 403.9L549.8 404.2L548.0 404.5L546.2 404.7L544.4 404.9L542.6 405.1L540.8 405.3L539.0 405.4L537.2 405.5L535.5 405.6L533.7 405.7L531.9 405.8L530.1 405.9L528.3 405.9L526.6 405.9L524.8 405.9L523.0 405.9L521.2 405.9L519.4 405.8L517.7 405.7L515.9 405.7L514.1 405.6L512.3 405.4L510.5 405.3L508.7 405.1L506.9 404.9L505.1 404.7L503.3 404.5L501.6 404.3L499.8 404.0L498.0 403.7L496.2 403.4L494.3 403.1L492.5 402.7L490.7 402.3L488.9 401.9L487.1 401.5L485.3 401.1L483.5 400.6L481.7 400.1L479.9 399.5L478.1 399.0L476.2 398.4L474.4 397.8L472.6 397.1L470.8 396.4L469.0 395.7L467.2 395.0L465.4 394.2L463.7 393.4L461.9 392.5L460.1 391.6L458.4 390.7L456.6 389.8L454.9 388.8L453.1 387.8L451.4 386.7L449.7 385.6L448.0 384.5L446.4 383.3L444.7 382.1L443.1 380.9L441.5 379.6L439.9 378.3L438.3 376.9L436.8 375.6L435.2 374.1L433.7 372.7L432.3 371.2L430.8 369.6L429.4 368.1L428.1 366.5L426.7 364.8L425.4 363.2L424.1 361.4L422.9 359.7L421.7 357.9L420.6 356.1L419.4 354.3L418.4 352.4L417.3 350.6L416.3 348.6L415.4 346.7L414.5 344.7L413.7 342.7L412.8 340.7L412.1 338.7L411.4 336.6L410.7 334.6L410.1 332.5L409.6 330.3L409.1 328.2L408.6 326.1L408.3 323.9L407.9 321.8L407.6 319.6L407.4 317.4L407.2 315.2L407.1 313.1L407.1 310.9L407.1 308.7L407.1 306.5L407.2 304.3L407.4 302.1L407.6 300.0L407.9 297.8L408.2 295.6L408.6 293.5L409.0 291.3L409.5 289.2L410.0 287.1L410.6 285.0L411.3 282.9L412.0 280.9L412.7 278.8L413.5 276.8L414.4 274.8L415.2 272.8L416.2 270.9L417.2 269.0L418.2 267.1L419.3 265.2L420.4 263.4L421.5 261.6L422.7 259.8L423.9 258.0L425.2 256.3L426.5 254.6L427.8 253.0L429.2 251.4L430.6 249.8L432.0 248.3L433.5 246.8L435.0 245.3L436.5 243.9L438.0 242.5L439.6 241.1L441.2 239.8L442.8 238.5L444.4 237.3L446.1 236.1L447.8 234.9L449.4 233.8L451.1 232.7L452.9 231.6L454.6 230.6L456.3 229.6L458.1 228.6L459.8 227.7L461.6 226.8L463.4 226.0L465.1 225.2L466.9 224.4L468.7 223.6L470.5 222.9L472.3 222.2L474.1 221.6L475.9 220.9L477.8 220.3L479.6 219.8L481.4 219.2L483.2 218.7L485.0 218.2L486.8 217.8L488.6 217.3L490.4 216.9L492.2 216.5L494.0 216.2L495.9 215.8L497.7 215.5L499.5 215.2L501.3 215.0L503.0 214.7L504.8 214.5L506.6 214.3L508.4 214.1L510.2 213.9L512.0 213.8L513.8 213.7L515.6 213.6L517.4 213.5L519.1 213.4L520.9 213.3L522.7 213.3L524.5 213.3L526.3 213.3L528.0 213.3L529.8 213.3L531.6 213.4L533.4 213.5L535.2 213.5L537.0 213.7L538.7 213.8L540.5 213.9L542.3 214.1L544.1 214.3L545.9 214.5L547.7 214.7L549.5 214.9L551.3 215.2L553.1 215.5L554.9 215.8L556.7 216.1" stroke="#ee6e73" stroke-width="1.2"/>
<path d="M525.50 309.60L525.79 298.72L526.59 289.13L527.74 281.64L529.12 275.70L530.72 270.60L532.48 266.26L534.36 262.60L536.33 259.52L538.38 256.87L540.50 254.59L542.68 252.61L544.93 250.87L547.24 249.31L549.63 247.88L552.12 246.53L554.65 245.35L557.23 244.35L559.85 243.50L562.49 242.82L565.17 242.28L567.86 241.90L570.55 241.69L573.25 241.62L575.96 241.69L578.69 241.86L581.45 242.11L584.26 242.44L587.12 242.85L590.00 243.36L592.90 243.97L595.80 244.70L598.69 245.56L601.55 246.55L604.35 247.69L607.09 248.98L609.74 250.43L612.28 252.03L614.72 253.77L617.09 255.63L619.36 257.61L621.56 259.69L623.67 261.86L625.70 264.13L627.66 266.49L629.47 268.95L631.17 271.49L632.78 274.11L634.35 276.78L635.92 279.49L637.53 282.23L639.25 285.00L641.10 287.80L642.97 290.67L644.73 293.63L646.36 296.68L648.04 299.79L649.60 302.99L650.82 306.26L651.50 309.60L650.12 336.09L644.26 362.48L639.12 375.20L625.85 393.81L617.91 408.70L599.03 422.82L576.07 434.77L551.53 443.49L525.50 449.00" stroke="#f99a1c" stroke-width="1.7"/>
</g>
<g fill="none" stroke="#111" stroke-width="1" stroke-dasharray="1.1 3.1">
<circle cx="525.5" cy="309.6" r="56.0"/><circle cx="525.5" cy="309.6" r="112.0"/>
<path d="M385.5 309.6H665.5M525.5 169.60000000000002V449.6"/>
</g>
<circle cx="525.5" cy="309.6" r="140.0" fill="none" stroke="#000" stroke-width="1.8"/>
<path d="M525.5 309.6h6M581.5 309.6h6M637.5 309.6h6M525.5 309.6v-6" stroke="#000" stroke-width="1.8" fill="none"/>
<text x="517" y="329" text-anchor="middle" font-size="23.5" font-family="'DejaVu Sans',sans-serif" fill="#000">0</text>
<text x="464.5" y="348.3" text-anchor="middle" font-size="23.5" font-family="'DejaVu Sans',sans-serif" fill="#000">2</text>
<text x="412.8" y="368.8" text-anchor="middle" font-size="23.5" font-family="'DejaVu Sans',sans-serif" fill="#000">4</text>
<text transform="translate(419.3,335.2) rotate(-19.5)" font-size="17" font-family="'DejaVu Sans',sans-serif" fill="#000">DW pos. (nm)</text>
<text x="365.3" y="316.3" font-family="'Liberation Serif',serif" fill="#000" font-style="italic" font-size="24">π</text>
<text x="673.6" y="316.7" font-family="'Liberation Serif',serif" fill="#000" font-size="23">0</text>
<text transform="translate(505.0,161.9) scale(1.12,1)" font-family="'Liberation Serif',serif" fill="#000" font-style="italic" font-size="25">π</text>
<text x="521.0" y="167.6" font-family="'Liberation Serif',serif" fill="#000" font-size="35">/</text>
<text transform="translate(532.0,161.9) scale(1.1,1)" font-family="'Liberation Serif',serif" fill="#000" font-size="23.4">2</text>
<text transform="translate(499.2,470.4) scale(1.1,1)" font-family="'Liberation Serif',serif" fill="#000" font-size="23.4">3</text>
<text transform="translate(512.0,470.4) scale(1.12,1)" font-family="'Liberation Serif',serif" fill="#000" font-style="italic" font-size="25">π</text>
<text x="528.0" y="476.2" font-family="'Liberation Serif',serif" fill="#000" font-size="35">/</text>
<text transform="translate(539.0,470.4) scale(1.1,1)" font-family="'Liberation Serif',serif" fill="#000" font-size="23.4">2</text>
<text x="525.5" y="500.6" text-anchor="middle" font-family="'Liberation Serif',serif" fill="#000" font-style="italic" font-size="24">ϕ</text>
</g>
<text x="7.2" y="20.6" font-family="'DejaVu Sans',sans-serif" font-weight="bold" font-size="37" fill="#000">a</text>
<text x="6.6" y="190.2" font-family="'DejaVu Sans',sans-serif" font-weight="bold" font-size="37" fill="#000">b</text>
<text x="415.6" y="185.3" font-family="'DejaVu Sans',sans-serif" font-weight="bold" font-size="37" fill="#000">c</text>
</svg>
</body></html>
